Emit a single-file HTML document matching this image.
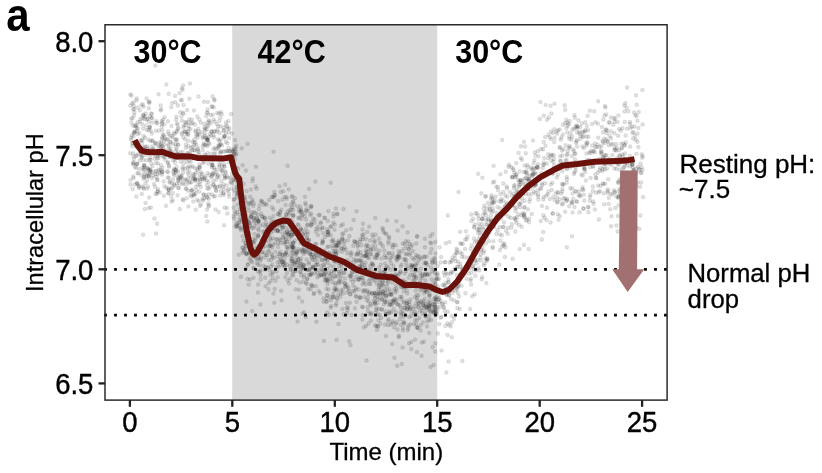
<!DOCTYPE html>
<html lang="en"><head><meta charset="utf-8"><title>Intracellular pH</title>
<style>
html,body{margin:0;padding:0;background:#fff;}
body{width:822px;height:473px;overflow:hidden;}
svg{display:block;font-family:"Liberation Sans",Arial,Helvetica,sans-serif;fill:#000;}
</style></head><body>
<svg width="822" height="473" viewBox="0 0 822 473">
<rect x="0" y="0" width="822" height="473" fill="#fff"/>
<rect x="232.2" y="25" width="205" height="375" fill="#d9d9d9"/>
<g fill="#000" fill-opacity="0.06" stroke="#000" stroke-opacity="0.125" stroke-width="1.5">
<circle cx="193.9" cy="110.4" r="1.5"/>
<circle cx="221.8" cy="170.7" r="1.5"/>
<circle cx="209.4" cy="121.5" r="1.5"/>
<circle cx="153.0" cy="175.6" r="1.5"/>
<circle cx="160.7" cy="144.0" r="1.5"/>
<circle cx="219.4" cy="141.0" r="1.5"/>
<circle cx="130.4" cy="184.4" r="1.5"/>
<circle cx="214.0" cy="137.2" r="1.5"/>
<circle cx="211.6" cy="106.8" r="1.5"/>
<circle cx="177.8" cy="129.1" r="1.5"/>
<circle cx="160.9" cy="165.2" r="1.5"/>
<circle cx="158.4" cy="157.9" r="1.5"/>
<circle cx="156.0" cy="130.7" r="1.5"/>
<circle cx="175.5" cy="139.8" r="1.5"/>
<circle cx="181.6" cy="175.6" r="1.5"/>
<circle cx="186.6" cy="198.3" r="1.5"/>
<circle cx="231.9" cy="133.4" r="1.5"/>
<circle cx="211.1" cy="177.2" r="1.5"/>
<circle cx="193.6" cy="195.7" r="1.5"/>
<circle cx="231.2" cy="181.7" r="1.5"/>
<circle cx="152.0" cy="118.1" r="1.5"/>
<circle cx="146.3" cy="154.9" r="1.5"/>
<circle cx="192.7" cy="123.0" r="1.5"/>
<circle cx="134.4" cy="112.3" r="1.5"/>
<circle cx="133.6" cy="178.1" r="1.5"/>
<circle cx="182.7" cy="89.8" r="1.5"/>
<circle cx="177.7" cy="153.3" r="1.5"/>
<circle cx="223.9" cy="130.9" r="1.5"/>
<circle cx="194.4" cy="158.2" r="1.5"/>
<circle cx="182.6" cy="167.6" r="1.5"/>
<circle cx="180.8" cy="177.3" r="1.5"/>
<circle cx="155.3" cy="65.6" r="1.5"/>
<circle cx="131.1" cy="139.7" r="1.5"/>
<circle cx="149.6" cy="126.8" r="1.5"/>
<circle cx="200.8" cy="122.4" r="1.5"/>
<circle cx="150.5" cy="141.1" r="1.5"/>
<circle cx="167.8" cy="162.6" r="1.5"/>
<circle cx="130.3" cy="105.5" r="1.5"/>
<circle cx="214.9" cy="153.1" r="1.5"/>
<circle cx="145.7" cy="125.5" r="1.5"/>
<circle cx="157.3" cy="151.6" r="1.5"/>
<circle cx="220.1" cy="195.6" r="1.5"/>
<circle cx="182.1" cy="132.5" r="1.5"/>
<circle cx="216.7" cy="124.0" r="1.5"/>
<circle cx="195.4" cy="130.6" r="1.5"/>
<circle cx="205.9" cy="194.9" r="1.5"/>
<circle cx="139.3" cy="186.3" r="1.5"/>
<circle cx="185.3" cy="122.1" r="1.5"/>
<circle cx="181.9" cy="120.8" r="1.5"/>
<circle cx="219.2" cy="165.0" r="1.5"/>
<circle cx="166.9" cy="139.7" r="1.5"/>
<circle cx="191.2" cy="190.7" r="1.5"/>
<circle cx="136.0" cy="168.1" r="1.5"/>
<circle cx="169.6" cy="150.4" r="1.5"/>
<circle cx="163.0" cy="156.7" r="1.5"/>
<circle cx="145.3" cy="146.6" r="1.5"/>
<circle cx="213.5" cy="119.5" r="1.5"/>
<circle cx="168.8" cy="190.1" r="1.5"/>
<circle cx="230.2" cy="151.3" r="1.5"/>
<circle cx="190.3" cy="155.5" r="1.5"/>
<circle cx="191.9" cy="189.8" r="1.5"/>
<circle cx="195.3" cy="179.0" r="1.5"/>
<circle cx="199.2" cy="119.6" r="1.5"/>
<circle cx="145.3" cy="117.2" r="1.5"/>
<circle cx="175.0" cy="95.7" r="1.5"/>
<circle cx="154.4" cy="218.5" r="1.5"/>
<circle cx="171.1" cy="188.6" r="1.5"/>
<circle cx="139.8" cy="110.2" r="1.5"/>
<circle cx="229.1" cy="138.1" r="1.5"/>
<circle cx="151.9" cy="146.5" r="1.5"/>
<circle cx="198.7" cy="201.2" r="1.5"/>
<circle cx="160.7" cy="105.4" r="1.5"/>
<circle cx="219.4" cy="166.6" r="1.5"/>
<circle cx="197.7" cy="149.3" r="1.5"/>
<circle cx="143.4" cy="187.7" r="1.5"/>
<circle cx="216.5" cy="149.1" r="1.5"/>
<circle cx="226.7" cy="185.6" r="1.5"/>
<circle cx="222.5" cy="173.7" r="1.5"/>
<circle cx="188.3" cy="135.1" r="1.5"/>
<circle cx="144.8" cy="209.0" r="1.5"/>
<circle cx="149.6" cy="160.0" r="1.5"/>
<circle cx="225.0" cy="177.2" r="1.5"/>
<circle cx="186.5" cy="180.8" r="1.5"/>
<circle cx="148.4" cy="139.8" r="1.5"/>
<circle cx="220.5" cy="126.3" r="1.5"/>
<circle cx="195.6" cy="193.8" r="1.5"/>
<circle cx="188.3" cy="153.4" r="1.5"/>
<circle cx="168.5" cy="146.1" r="1.5"/>
<circle cx="172.0" cy="183.5" r="1.5"/>
<circle cx="154.4" cy="158.8" r="1.5"/>
<circle cx="133.8" cy="133.0" r="1.5"/>
<circle cx="219.7" cy="186.7" r="1.5"/>
<circle cx="177.8" cy="105.4" r="1.5"/>
<circle cx="186.0" cy="184.3" r="1.5"/>
<circle cx="162.9" cy="146.0" r="1.5"/>
<circle cx="206.9" cy="112.5" r="1.5"/>
<circle cx="132.5" cy="117.9" r="1.5"/>
<circle cx="168.0" cy="193.5" r="1.5"/>
<circle cx="133.0" cy="125.7" r="1.5"/>
<circle cx="142.5" cy="168.0" r="1.5"/>
<circle cx="229.0" cy="132.1" r="1.5"/>
<circle cx="197.3" cy="116.5" r="1.5"/>
<circle cx="173.8" cy="133.2" r="1.5"/>
<circle cx="183.6" cy="127.5" r="1.5"/>
<circle cx="219.3" cy="145.4" r="1.5"/>
<circle cx="165.2" cy="150.6" r="1.5"/>
<circle cx="190.4" cy="129.2" r="1.5"/>
<circle cx="199.9" cy="184.3" r="1.5"/>
<circle cx="166.3" cy="84.5" r="1.5"/>
<circle cx="183.1" cy="85.6" r="1.5"/>
<circle cx="208.3" cy="125.8" r="1.5"/>
<circle cx="223.0" cy="186.6" r="1.5"/>
<circle cx="145.4" cy="183.4" r="1.5"/>
<circle cx="225.5" cy="171.6" r="1.5"/>
<circle cx="130.4" cy="94.5" r="1.5"/>
<circle cx="207.0" cy="209.4" r="1.5"/>
<circle cx="212.9" cy="114.7" r="1.5"/>
<circle cx="143.9" cy="167.3" r="1.5"/>
<circle cx="172.8" cy="193.0" r="1.5"/>
<circle cx="213.4" cy="180.9" r="1.5"/>
<circle cx="131.4" cy="95.6" r="1.5"/>
<circle cx="194.3" cy="194.5" r="1.5"/>
<circle cx="211.1" cy="135.5" r="1.5"/>
<circle cx="182.5" cy="179.4" r="1.5"/>
<circle cx="204.3" cy="123.8" r="1.5"/>
<circle cx="153.1" cy="148.5" r="1.5"/>
<circle cx="150.2" cy="169.9" r="1.5"/>
<circle cx="167.1" cy="171.3" r="1.5"/>
<circle cx="148.3" cy="176.3" r="1.5"/>
<circle cx="165.4" cy="159.7" r="1.5"/>
<circle cx="227.0" cy="208.0" r="1.5"/>
<circle cx="188.6" cy="128.4" r="1.5"/>
<circle cx="164.7" cy="117.2" r="1.5"/>
<circle cx="157.7" cy="150.5" r="1.5"/>
<circle cx="227.4" cy="213.5" r="1.5"/>
<circle cx="175.4" cy="102.2" r="1.5"/>
<circle cx="230.3" cy="182.6" r="1.5"/>
<circle cx="182.7" cy="168.9" r="1.5"/>
<circle cx="183.3" cy="200.4" r="1.5"/>
<circle cx="221.8" cy="166.0" r="1.5"/>
<circle cx="206.0" cy="145.3" r="1.5"/>
<circle cx="189.4" cy="98.7" r="1.5"/>
<circle cx="173.6" cy="173.7" r="1.5"/>
<circle cx="219.9" cy="185.6" r="1.5"/>
<circle cx="172.1" cy="136.3" r="1.5"/>
<circle cx="224.4" cy="166.2" r="1.5"/>
<circle cx="136.9" cy="130.7" r="1.5"/>
<circle cx="174.0" cy="169.1" r="1.5"/>
<circle cx="183.1" cy="172.5" r="1.5"/>
<circle cx="227.3" cy="143.2" r="1.5"/>
<circle cx="155.6" cy="193.9" r="1.5"/>
<circle cx="212.5" cy="165.1" r="1.5"/>
<circle cx="199.2" cy="155.0" r="1.5"/>
<circle cx="203.4" cy="194.8" r="1.5"/>
<circle cx="194.4" cy="142.4" r="1.5"/>
<circle cx="229.4" cy="151.2" r="1.5"/>
<circle cx="164.0" cy="152.7" r="1.5"/>
<circle cx="170.7" cy="148.5" r="1.5"/>
<circle cx="150.7" cy="130.9" r="1.5"/>
<circle cx="135.1" cy="166.7" r="1.5"/>
<circle cx="151.7" cy="118.0" r="1.5"/>
<circle cx="223.7" cy="127.5" r="1.5"/>
<circle cx="216.0" cy="190.2" r="1.5"/>
<circle cx="141.4" cy="175.1" r="1.5"/>
<circle cx="191.8" cy="119.6" r="1.5"/>
<circle cx="179.0" cy="183.4" r="1.5"/>
<circle cx="190.8" cy="162.1" r="1.5"/>
<circle cx="197.4" cy="180.2" r="1.5"/>
<circle cx="161.3" cy="152.7" r="1.5"/>
<circle cx="228.4" cy="120.9" r="1.5"/>
<circle cx="177.6" cy="124.7" r="1.5"/>
<circle cx="194.2" cy="139.7" r="1.5"/>
<circle cx="195.0" cy="124.4" r="1.5"/>
<circle cx="148.7" cy="130.0" r="1.5"/>
<circle cx="136.2" cy="146.7" r="1.5"/>
<circle cx="172.1" cy="103.1" r="1.5"/>
<circle cx="208.2" cy="139.8" r="1.5"/>
<circle cx="213.4" cy="135.1" r="1.5"/>
<circle cx="204.7" cy="135.7" r="1.5"/>
<circle cx="141.5" cy="157.9" r="1.5"/>
<circle cx="223.5" cy="192.7" r="1.5"/>
<circle cx="212.1" cy="176.3" r="1.5"/>
<circle cx="219.8" cy="133.1" r="1.5"/>
<circle cx="183.5" cy="105.1" r="1.5"/>
<circle cx="223.7" cy="130.0" r="1.5"/>
<circle cx="134.7" cy="184.5" r="1.5"/>
<circle cx="133.0" cy="162.8" r="1.5"/>
<circle cx="132.0" cy="146.3" r="1.5"/>
<circle cx="155.8" cy="163.1" r="1.5"/>
<circle cx="155.4" cy="174.2" r="1.5"/>
<circle cx="149.1" cy="197.4" r="1.5"/>
<circle cx="188.0" cy="155.8" r="1.5"/>
<circle cx="133.9" cy="106.0" r="1.5"/>
<circle cx="190.4" cy="178.1" r="1.5"/>
<circle cx="146.9" cy="173.0" r="1.5"/>
<circle cx="199.3" cy="191.8" r="1.5"/>
<circle cx="132.1" cy="103.6" r="1.5"/>
<circle cx="161.7" cy="126.8" r="1.5"/>
<circle cx="226.0" cy="158.6" r="1.5"/>
<circle cx="185.1" cy="139.2" r="1.5"/>
<circle cx="213.0" cy="173.0" r="1.5"/>
<circle cx="197.3" cy="168.5" r="1.5"/>
<circle cx="192.5" cy="146.7" r="1.5"/>
<circle cx="149.5" cy="101.4" r="1.5"/>
<circle cx="188.7" cy="122.6" r="1.5"/>
<circle cx="134.0" cy="159.4" r="1.5"/>
<circle cx="212.0" cy="194.5" r="1.5"/>
<circle cx="228.3" cy="156.9" r="1.5"/>
<circle cx="217.4" cy="129.8" r="1.5"/>
<circle cx="135.1" cy="125.7" r="1.5"/>
<circle cx="164.6" cy="144.6" r="1.5"/>
<circle cx="162.5" cy="167.8" r="1.5"/>
<circle cx="141.4" cy="105.3" r="1.5"/>
<circle cx="194.1" cy="177.7" r="1.5"/>
<circle cx="211.6" cy="131.6" r="1.5"/>
<circle cx="162.0" cy="138.7" r="1.5"/>
<circle cx="218.3" cy="145.4" r="1.5"/>
<circle cx="211.6" cy="131.5" r="1.5"/>
<circle cx="143.1" cy="234.8" r="1.5"/>
<circle cx="208.5" cy="182.1" r="1.5"/>
<circle cx="220.3" cy="117.6" r="1.5"/>
<circle cx="150.1" cy="150.0" r="1.5"/>
<circle cx="188.7" cy="166.5" r="1.5"/>
<circle cx="195.3" cy="181.1" r="1.5"/>
<circle cx="192.3" cy="141.7" r="1.5"/>
<circle cx="139.8" cy="121.8" r="1.5"/>
<circle cx="197.6" cy="137.8" r="1.5"/>
<circle cx="194.6" cy="150.0" r="1.5"/>
<circle cx="214.3" cy="100.3" r="1.5"/>
<circle cx="212.2" cy="106.5" r="1.5"/>
<circle cx="163.4" cy="148.7" r="1.5"/>
<circle cx="203.9" cy="101.7" r="1.5"/>
<circle cx="218.8" cy="113.5" r="1.5"/>
<circle cx="221.4" cy="151.8" r="1.5"/>
<circle cx="146.4" cy="151.9" r="1.5"/>
<circle cx="132.6" cy="188.9" r="1.5"/>
<circle cx="196.6" cy="145.3" r="1.5"/>
<circle cx="151.9" cy="133.5" r="1.5"/>
<circle cx="187.7" cy="133.8" r="1.5"/>
<circle cx="226.7" cy="176.1" r="1.5"/>
<circle cx="168.8" cy="193.1" r="1.5"/>
<circle cx="155.8" cy="144.5" r="1.5"/>
<circle cx="176.7" cy="131.9" r="1.5"/>
<circle cx="197.2" cy="199.7" r="1.5"/>
<circle cx="140.3" cy="119.0" r="1.5"/>
<circle cx="168.9" cy="177.7" r="1.5"/>
<circle cx="143.6" cy="106.8" r="1.5"/>
<circle cx="197.8" cy="184.7" r="1.5"/>
<circle cx="215.0" cy="196.2" r="1.5"/>
<circle cx="168.5" cy="134.1" r="1.5"/>
<circle cx="168.0" cy="172.2" r="1.5"/>
<circle cx="185.2" cy="168.7" r="1.5"/>
<circle cx="151.9" cy="178.0" r="1.5"/>
<circle cx="155.2" cy="143.0" r="1.5"/>
<circle cx="163.7" cy="181.6" r="1.5"/>
<circle cx="176.8" cy="149.3" r="1.5"/>
<circle cx="138.3" cy="143.6" r="1.5"/>
<circle cx="207.0" cy="138.2" r="1.5"/>
<circle cx="189.2" cy="119.5" r="1.5"/>
<circle cx="160.6" cy="110.6" r="1.5"/>
<circle cx="137.8" cy="128.5" r="1.5"/>
<circle cx="208.1" cy="203.5" r="1.5"/>
<circle cx="143.3" cy="114.6" r="1.5"/>
<circle cx="143.5" cy="170.6" r="1.5"/>
<circle cx="143.3" cy="159.9" r="1.5"/>
<circle cx="138.2" cy="154.0" r="1.5"/>
<circle cx="222.8" cy="157.5" r="1.5"/>
<circle cx="157.5" cy="156.0" r="1.5"/>
<circle cx="161.3" cy="150.6" r="1.5"/>
<circle cx="215.2" cy="174.6" r="1.5"/>
<circle cx="193.4" cy="157.4" r="1.5"/>
<circle cx="149.1" cy="150.6" r="1.5"/>
<circle cx="174.4" cy="170.0" r="1.5"/>
<circle cx="220.5" cy="162.5" r="1.5"/>
<circle cx="168.4" cy="188.4" r="1.5"/>
<circle cx="202.7" cy="137.0" r="1.5"/>
<circle cx="139.8" cy="160.6" r="1.5"/>
<circle cx="204.4" cy="180.1" r="1.5"/>
<circle cx="209.4" cy="143.9" r="1.5"/>
<circle cx="214.5" cy="99.6" r="1.5"/>
<circle cx="199.0" cy="152.4" r="1.5"/>
<circle cx="167.9" cy="162.7" r="1.5"/>
<circle cx="136.5" cy="100.6" r="1.5"/>
<circle cx="183.0" cy="182.9" r="1.5"/>
<circle cx="207.5" cy="109.6" r="1.5"/>
<circle cx="149.5" cy="173.7" r="1.5"/>
<circle cx="157.2" cy="180.0" r="1.5"/>
<circle cx="184.8" cy="131.2" r="1.5"/>
<circle cx="206.6" cy="138.8" r="1.5"/>
<circle cx="221.8" cy="113.9" r="1.5"/>
<circle cx="142.8" cy="104.3" r="1.5"/>
<circle cx="148.8" cy="208.0" r="1.5"/>
<circle cx="211.8" cy="167.2" r="1.5"/>
<circle cx="195.9" cy="136.1" r="1.5"/>
<circle cx="203.8" cy="178.2" r="1.5"/>
<circle cx="232.0" cy="149.6" r="1.5"/>
<circle cx="226.1" cy="122.5" r="1.5"/>
<circle cx="216.3" cy="191.0" r="1.5"/>
<circle cx="209.5" cy="175.1" r="1.5"/>
<circle cx="170.4" cy="156.9" r="1.5"/>
<circle cx="195.6" cy="131.7" r="1.5"/>
<circle cx="148.8" cy="169.8" r="1.5"/>
<circle cx="207.7" cy="139.9" r="1.5"/>
<circle cx="207.5" cy="145.9" r="1.5"/>
<circle cx="203.8" cy="162.1" r="1.5"/>
<circle cx="175.5" cy="156.4" r="1.5"/>
<circle cx="168.6" cy="189.8" r="1.5"/>
<circle cx="172.9" cy="200.2" r="1.5"/>
<circle cx="133.3" cy="109.5" r="1.5"/>
<circle cx="216.4" cy="169.4" r="1.5"/>
<circle cx="185.5" cy="124.7" r="1.5"/>
<circle cx="169.6" cy="156.9" r="1.5"/>
<circle cx="186.0" cy="144.4" r="1.5"/>
<circle cx="203.8" cy="143.3" r="1.5"/>
<circle cx="169.0" cy="165.4" r="1.5"/>
<circle cx="215.0" cy="186.4" r="1.5"/>
<circle cx="224.1" cy="159.1" r="1.5"/>
<circle cx="169.6" cy="182.6" r="1.5"/>
<circle cx="144.0" cy="164.9" r="1.5"/>
<circle cx="207.8" cy="172.9" r="1.5"/>
<circle cx="231.6" cy="183.5" r="1.5"/>
<circle cx="145.1" cy="137.8" r="1.5"/>
<circle cx="202.9" cy="150.1" r="1.5"/>
<circle cx="214.5" cy="154.1" r="1.5"/>
<circle cx="224.2" cy="164.2" r="1.5"/>
<circle cx="142.5" cy="155.8" r="1.5"/>
<circle cx="139.3" cy="188.3" r="1.5"/>
<circle cx="231.1" cy="114.1" r="1.5"/>
<circle cx="141.9" cy="143.2" r="1.5"/>
<circle cx="148.0" cy="118.8" r="1.5"/>
<circle cx="188.8" cy="125.9" r="1.5"/>
<circle cx="175.6" cy="169.5" r="1.5"/>
<circle cx="206.8" cy="197.2" r="1.5"/>
<circle cx="149.4" cy="103.1" r="1.5"/>
<circle cx="223.6" cy="151.4" r="1.5"/>
<circle cx="152.2" cy="140.6" r="1.5"/>
<circle cx="208.7" cy="137.0" r="1.5"/>
<circle cx="136.8" cy="182.7" r="1.5"/>
<circle cx="178.4" cy="178.2" r="1.5"/>
<circle cx="133.2" cy="176.5" r="1.5"/>
<circle cx="162.0" cy="174.7" r="1.5"/>
<circle cx="161.9" cy="124.1" r="1.5"/>
<circle cx="203.6" cy="194.6" r="1.5"/>
<circle cx="176.5" cy="116.8" r="1.5"/>
<circle cx="135.7" cy="156.3" r="1.5"/>
<circle cx="231.9" cy="173.8" r="1.5"/>
<circle cx="220.9" cy="144.3" r="1.5"/>
<circle cx="223.8" cy="195.1" r="1.5"/>
<circle cx="155.2" cy="155.7" r="1.5"/>
<circle cx="170.3" cy="153.6" r="1.5"/>
<circle cx="153.2" cy="150.2" r="1.5"/>
<circle cx="142.7" cy="186.4" r="1.5"/>
<circle cx="133.3" cy="163.3" r="1.5"/>
<circle cx="181.5" cy="116.6" r="1.5"/>
<circle cx="142.5" cy="118.3" r="1.5"/>
<circle cx="148.0" cy="168.3" r="1.5"/>
<circle cx="218.1" cy="126.2" r="1.5"/>
<circle cx="179.5" cy="93.1" r="1.5"/>
<circle cx="148.7" cy="176.6" r="1.5"/>
<circle cx="198.5" cy="96.6" r="1.5"/>
<circle cx="157.1" cy="223.8" r="1.5"/>
<circle cx="183.9" cy="125.8" r="1.5"/>
<circle cx="158.9" cy="169.2" r="1.5"/>
<circle cx="182.8" cy="199.3" r="1.5"/>
<circle cx="194.3" cy="145.3" r="1.5"/>
<circle cx="184.8" cy="132.0" r="1.5"/>
<circle cx="170.4" cy="141.7" r="1.5"/>
<circle cx="210.9" cy="123.2" r="1.5"/>
<circle cx="219.4" cy="120.9" r="1.5"/>
<circle cx="148.3" cy="186.7" r="1.5"/>
<circle cx="143.9" cy="176.5" r="1.5"/>
<circle cx="141.5" cy="140.4" r="1.5"/>
<circle cx="230.3" cy="157.3" r="1.5"/>
<circle cx="226.4" cy="177.4" r="1.5"/>
<circle cx="153.5" cy="149.4" r="1.5"/>
<circle cx="229.3" cy="128.2" r="1.5"/>
<circle cx="151.2" cy="113.4" r="1.5"/>
<circle cx="181.8" cy="88.4" r="1.5"/>
<circle cx="180.9" cy="99.9" r="1.5"/>
<circle cx="223.6" cy="184.2" r="1.5"/>
<circle cx="134.1" cy="115.2" r="1.5"/>
<circle cx="162.2" cy="137.6" r="1.5"/>
<circle cx="191.4" cy="196.4" r="1.5"/>
<circle cx="136.7" cy="98.6" r="1.5"/>
<circle cx="154.1" cy="183.9" r="1.5"/>
<circle cx="177.5" cy="154.0" r="1.5"/>
<circle cx="220.1" cy="144.6" r="1.5"/>
<circle cx="207.9" cy="112.9" r="1.5"/>
<circle cx="214.8" cy="147.9" r="1.5"/>
<circle cx="207.9" cy="122.5" r="1.5"/>
<circle cx="202.4" cy="178.9" r="1.5"/>
<circle cx="217.0" cy="187.0" r="1.5"/>
<circle cx="199.7" cy="174.2" r="1.5"/>
<circle cx="205.3" cy="137.5" r="1.5"/>
<circle cx="160.8" cy="169.7" r="1.5"/>
<circle cx="147.1" cy="180.5" r="1.5"/>
<circle cx="207.4" cy="188.6" r="1.5"/>
<circle cx="146.9" cy="129.9" r="1.5"/>
<circle cx="224.1" cy="225.3" r="1.5"/>
<circle cx="191.0" cy="147.7" r="1.5"/>
<circle cx="163.7" cy="135.1" r="1.5"/>
<circle cx="225.9" cy="141.8" r="1.5"/>
<circle cx="145.8" cy="113.5" r="1.5"/>
<circle cx="182.6" cy="152.0" r="1.5"/>
<circle cx="139.3" cy="168.9" r="1.5"/>
<circle cx="228.8" cy="193.7" r="1.5"/>
<circle cx="188.8" cy="175.2" r="1.5"/>
<circle cx="212.2" cy="157.4" r="1.5"/>
<circle cx="158.8" cy="170.8" r="1.5"/>
<circle cx="212.0" cy="174.4" r="1.5"/>
<circle cx="201.9" cy="177.1" r="1.5"/>
<circle cx="195.8" cy="186.8" r="1.5"/>
<circle cx="227.3" cy="126.6" r="1.5"/>
<circle cx="174.3" cy="175.3" r="1.5"/>
<circle cx="172.4" cy="187.7" r="1.5"/>
<circle cx="200.8" cy="186.9" r="1.5"/>
<circle cx="215.5" cy="209.6" r="1.5"/>
<circle cx="164.2" cy="124.5" r="1.5"/>
<circle cx="198.5" cy="131.4" r="1.5"/>
<circle cx="151.3" cy="163.5" r="1.5"/>
<circle cx="186.4" cy="188.8" r="1.5"/>
<circle cx="208.7" cy="120.3" r="1.5"/>
<circle cx="136.6" cy="128.1" r="1.5"/>
<circle cx="204.5" cy="127.7" r="1.5"/>
<circle cx="131.5" cy="122.8" r="1.5"/>
<circle cx="228.1" cy="150.9" r="1.5"/>
<circle cx="177.9" cy="177.1" r="1.5"/>
<circle cx="171.8" cy="155.2" r="1.5"/>
<circle cx="203.7" cy="144.7" r="1.5"/>
<circle cx="183.5" cy="163.7" r="1.5"/>
<circle cx="204.8" cy="133.5" r="1.5"/>
<circle cx="138.6" cy="186.4" r="1.5"/>
<circle cx="187.6" cy="167.7" r="1.5"/>
<circle cx="187.1" cy="162.1" r="1.5"/>
<circle cx="225.4" cy="151.1" r="1.5"/>
<circle cx="134.0" cy="109.1" r="1.5"/>
<circle cx="176.3" cy="139.6" r="1.5"/>
<circle cx="194.6" cy="168.0" r="1.5"/>
<circle cx="186.3" cy="132.0" r="1.5"/>
<circle cx="137.5" cy="107.4" r="1.5"/>
<circle cx="190.7" cy="195.1" r="1.5"/>
<circle cx="152.7" cy="141.1" r="1.5"/>
<circle cx="149.9" cy="127.1" r="1.5"/>
<circle cx="219.9" cy="152.9" r="1.5"/>
<circle cx="150.2" cy="159.8" r="1.5"/>
<circle cx="176.4" cy="171.8" r="1.5"/>
<circle cx="206.8" cy="180.3" r="1.5"/>
<circle cx="202.4" cy="198.9" r="1.5"/>
<circle cx="186.6" cy="134.3" r="1.5"/>
<circle cx="212.6" cy="96.6" r="1.5"/>
<circle cx="177.6" cy="195.3" r="1.5"/>
<circle cx="193.5" cy="194.3" r="1.5"/>
<circle cx="213.8" cy="167.5" r="1.5"/>
<circle cx="199.4" cy="164.5" r="1.5"/>
<circle cx="195.7" cy="209.8" r="1.5"/>
<circle cx="171.5" cy="125.9" r="1.5"/>
<circle cx="187.1" cy="179.5" r="1.5"/>
<circle cx="170.5" cy="142.3" r="1.5"/>
<circle cx="206.2" cy="216.0" r="1.5"/>
<circle cx="168.9" cy="148.9" r="1.5"/>
<circle cx="177.7" cy="155.5" r="1.5"/>
<circle cx="207.3" cy="221.4" r="1.5"/>
<circle cx="181.5" cy="176.9" r="1.5"/>
<circle cx="164.5" cy="186.2" r="1.5"/>
<circle cx="214.6" cy="169.8" r="1.5"/>
<circle cx="168.9" cy="166.7" r="1.5"/>
<circle cx="216.4" cy="179.5" r="1.5"/>
<circle cx="210.3" cy="186.4" r="1.5"/>
<circle cx="175.7" cy="150.9" r="1.5"/>
<circle cx="202.9" cy="163.0" r="1.5"/>
<circle cx="133.4" cy="102.4" r="1.5"/>
<circle cx="169.8" cy="181.5" r="1.5"/>
<circle cx="218.0" cy="139.3" r="1.5"/>
<circle cx="189.3" cy="160.7" r="1.5"/>
<circle cx="187.0" cy="110.0" r="1.5"/>
<circle cx="198.0" cy="151.6" r="1.5"/>
<circle cx="199.3" cy="177.8" r="1.5"/>
<circle cx="189.7" cy="156.7" r="1.5"/>
<circle cx="173.0" cy="179.5" r="1.5"/>
<circle cx="148.7" cy="121.7" r="1.5"/>
<circle cx="159.9" cy="192.4" r="1.5"/>
<circle cx="159.9" cy="145.9" r="1.5"/>
<circle cx="174.0" cy="184.3" r="1.5"/>
<circle cx="232.3" cy="151.8" r="1.5"/>
<circle cx="166.0" cy="205.7" r="1.5"/>
<circle cx="175.7" cy="144.1" r="1.5"/>
<circle cx="168.0" cy="139.2" r="1.5"/>
<circle cx="189.5" cy="183.1" r="1.5"/>
<circle cx="227.0" cy="151.3" r="1.5"/>
<circle cx="221.0" cy="190.9" r="1.5"/>
<circle cx="168.5" cy="152.7" r="1.5"/>
<circle cx="157.2" cy="158.8" r="1.5"/>
<circle cx="220.5" cy="169.7" r="1.5"/>
<circle cx="180.5" cy="152.4" r="1.5"/>
<circle cx="200.1" cy="206.1" r="1.5"/>
<circle cx="137.4" cy="163.9" r="1.5"/>
<circle cx="218.7" cy="212.0" r="1.5"/>
<circle cx="162.0" cy="122.6" r="1.5"/>
<circle cx="180.6" cy="161.6" r="1.5"/>
<circle cx="150.2" cy="157.6" r="1.5"/>
<circle cx="173.0" cy="143.7" r="1.5"/>
<circle cx="214.7" cy="131.2" r="1.5"/>
<circle cx="214.7" cy="121.4" r="1.5"/>
<circle cx="178.4" cy="144.9" r="1.5"/>
<circle cx="208.6" cy="188.7" r="1.5"/>
<circle cx="176.8" cy="140.0" r="1.5"/>
<circle cx="168.2" cy="131.4" r="1.5"/>
<circle cx="185.8" cy="147.7" r="1.5"/>
<circle cx="150.5" cy="169.2" r="1.5"/>
<circle cx="162.3" cy="130.2" r="1.5"/>
<circle cx="202.3" cy="174.0" r="1.5"/>
<circle cx="208.8" cy="198.8" r="1.5"/>
<circle cx="135.7" cy="125.9" r="1.5"/>
<circle cx="205.0" cy="128.6" r="1.5"/>
<circle cx="213.6" cy="196.5" r="1.5"/>
<circle cx="175.5" cy="173.1" r="1.5"/>
<circle cx="136.3" cy="196.5" r="1.5"/>
<circle cx="199.9" cy="166.8" r="1.5"/>
<circle cx="155.1" cy="171.6" r="1.5"/>
<circle cx="195.8" cy="172.5" r="1.5"/>
<circle cx="168.5" cy="144.3" r="1.5"/>
<circle cx="195.2" cy="179.0" r="1.5"/>
<circle cx="156.3" cy="120.9" r="1.5"/>
<circle cx="178.7" cy="180.8" r="1.5"/>
<circle cx="183.7" cy="159.8" r="1.5"/>
<circle cx="194.5" cy="179.6" r="1.5"/>
<circle cx="150.7" cy="171.1" r="1.5"/>
<circle cx="228.5" cy="161.9" r="1.5"/>
<circle cx="159.5" cy="173.1" r="1.5"/>
<circle cx="161.3" cy="142.8" r="1.5"/>
<circle cx="156.2" cy="177.0" r="1.5"/>
<circle cx="136.8" cy="163.7" r="1.5"/>
<circle cx="173.2" cy="171.5" r="1.5"/>
<circle cx="209.0" cy="194.2" r="1.5"/>
<circle cx="202.6" cy="146.4" r="1.5"/>
<circle cx="149.9" cy="116.4" r="1.5"/>
<circle cx="143.9" cy="188.8" r="1.5"/>
<circle cx="162.8" cy="134.6" r="1.5"/>
<circle cx="208.6" cy="142.7" r="1.5"/>
<circle cx="179.9" cy="208.9" r="1.5"/>
<circle cx="224.5" cy="207.8" r="1.5"/>
<circle cx="197.1" cy="134.3" r="1.5"/>
<circle cx="193.5" cy="175.6" r="1.5"/>
<circle cx="208.5" cy="206.6" r="1.5"/>
<circle cx="206.8" cy="129.5" r="1.5"/>
<circle cx="165.1" cy="139.0" r="1.5"/>
<circle cx="156.2" cy="122.7" r="1.5"/>
<circle cx="174.7" cy="159.5" r="1.5"/>
<circle cx="180.0" cy="178.9" r="1.5"/>
<circle cx="144.4" cy="177.6" r="1.5"/>
<circle cx="175.1" cy="162.8" r="1.5"/>
<circle cx="195.4" cy="142.5" r="1.5"/>
<circle cx="143.8" cy="115.9" r="1.5"/>
<circle cx="144.0" cy="169.5" r="1.5"/>
<circle cx="147.7" cy="169.2" r="1.5"/>
<circle cx="158.9" cy="154.0" r="1.5"/>
<circle cx="228.4" cy="189.5" r="1.5"/>
<circle cx="132.5" cy="143.1" r="1.5"/>
<circle cx="148.7" cy="101.9" r="1.5"/>
<circle cx="146.8" cy="188.5" r="1.5"/>
<circle cx="178.5" cy="128.0" r="1.5"/>
<circle cx="131.4" cy="118.7" r="1.5"/>
<circle cx="176.8" cy="131.0" r="1.5"/>
<circle cx="146.6" cy="98.4" r="1.5"/>
<circle cx="157.5" cy="123.3" r="1.5"/>
<circle cx="211.1" cy="153.4" r="1.5"/>
<circle cx="148.8" cy="175.6" r="1.5"/>
<circle cx="193.1" cy="178.4" r="1.5"/>
<circle cx="171.5" cy="201.4" r="1.5"/>
<circle cx="172.7" cy="137.5" r="1.5"/>
<circle cx="213.6" cy="131.7" r="1.5"/>
<circle cx="146.4" cy="176.3" r="1.5"/>
<circle cx="224.5" cy="178.4" r="1.5"/>
<circle cx="221.4" cy="181.0" r="1.5"/>
<circle cx="198.4" cy="128.7" r="1.5"/>
<circle cx="135.0" cy="132.1" r="1.5"/>
<circle cx="197.9" cy="134.7" r="1.5"/>
<circle cx="191.4" cy="123.4" r="1.5"/>
<circle cx="209.0" cy="205.3" r="1.5"/>
<circle cx="151.8" cy="152.6" r="1.5"/>
<circle cx="227.6" cy="129.0" r="1.5"/>
<circle cx="220.7" cy="151.8" r="1.5"/>
<circle cx="141.6" cy="156.3" r="1.5"/>
<circle cx="162.2" cy="171.4" r="1.5"/>
<circle cx="133.2" cy="153.2" r="1.5"/>
<circle cx="215.0" cy="187.6" r="1.5"/>
<circle cx="223.7" cy="189.1" r="1.5"/>
<circle cx="231.3" cy="188.6" r="1.5"/>
<circle cx="192.6" cy="174.1" r="1.5"/>
<circle cx="198.1" cy="148.8" r="1.5"/>
<circle cx="199.4" cy="134.3" r="1.5"/>
<circle cx="188.3" cy="131.5" r="1.5"/>
<circle cx="227.5" cy="190.4" r="1.5"/>
<circle cx="192.2" cy="150.3" r="1.5"/>
<circle cx="164.3" cy="136.9" r="1.5"/>
<circle cx="182.4" cy="184.3" r="1.5"/>
<circle cx="131.8" cy="135.6" r="1.5"/>
<circle cx="204.1" cy="198.6" r="1.5"/>
<circle cx="201.0" cy="204.5" r="1.5"/>
<circle cx="173.0" cy="160.3" r="1.5"/>
<circle cx="217.1" cy="113.0" r="1.5"/>
<circle cx="207.3" cy="197.4" r="1.5"/>
<circle cx="164.4" cy="157.4" r="1.5"/>
<circle cx="137.8" cy="134.1" r="1.5"/>
<circle cx="143.4" cy="150.9" r="1.5"/>
<circle cx="148.8" cy="108.2" r="1.5"/>
<circle cx="161.0" cy="147.2" r="1.5"/>
<circle cx="175.7" cy="170.0" r="1.5"/>
<circle cx="225.0" cy="136.4" r="1.5"/>
<circle cx="158.4" cy="146.6" r="1.5"/>
<circle cx="222.0" cy="145.3" r="1.5"/>
<circle cx="199.6" cy="168.6" r="1.5"/>
<circle cx="217.3" cy="177.1" r="1.5"/>
<circle cx="171.2" cy="196.6" r="1.5"/>
<circle cx="130.2" cy="153.3" r="1.5"/>
<circle cx="210.5" cy="114.9" r="1.5"/>
<circle cx="155.0" cy="186.8" r="1.5"/>
<circle cx="144.5" cy="165.9" r="1.5"/>
<circle cx="211.8" cy="163.3" r="1.5"/>
<circle cx="200.2" cy="181.6" r="1.5"/>
<circle cx="151.7" cy="172.6" r="1.5"/>
<circle cx="157.3" cy="179.6" r="1.5"/>
<circle cx="226.1" cy="133.3" r="1.5"/>
<circle cx="157.4" cy="191.7" r="1.5"/>
<circle cx="201.9" cy="131.9" r="1.5"/>
<circle cx="143.2" cy="115.4" r="1.5"/>
<circle cx="213.4" cy="148.9" r="1.5"/>
<circle cx="141.9" cy="124.1" r="1.5"/>
<circle cx="182.8" cy="112.8" r="1.5"/>
<circle cx="133.5" cy="136.2" r="1.5"/>
<circle cx="186.3" cy="122.5" r="1.5"/>
<circle cx="216.6" cy="173.0" r="1.5"/>
<circle cx="138.5" cy="173.2" r="1.5"/>
<circle cx="158.0" cy="163.4" r="1.5"/>
<circle cx="208.2" cy="163.4" r="1.5"/>
<circle cx="192.2" cy="190.5" r="1.5"/>
<circle cx="161.9" cy="121.0" r="1.5"/>
<circle cx="194.3" cy="150.2" r="1.5"/>
<circle cx="176.5" cy="183.7" r="1.5"/>
<circle cx="218.2" cy="148.4" r="1.5"/>
<circle cx="159.9" cy="155.4" r="1.5"/>
<circle cx="207.5" cy="152.9" r="1.5"/>
<circle cx="195.0" cy="174.4" r="1.5"/>
<circle cx="205.8" cy="154.9" r="1.5"/>
<circle cx="168.7" cy="93.8" r="1.5"/>
<circle cx="204.2" cy="154.6" r="1.5"/>
<circle cx="201.5" cy="157.1" r="1.5"/>
<circle cx="169.6" cy="152.4" r="1.5"/>
<circle cx="132.6" cy="143.5" r="1.5"/>
<circle cx="228.6" cy="147.9" r="1.5"/>
<circle cx="203.0" cy="200.6" r="1.5"/>
<circle cx="150.9" cy="207.6" r="1.5"/>
<circle cx="204.8" cy="177.8" r="1.5"/>
<circle cx="158.5" cy="94.2" r="1.5"/>
<circle cx="178.0" cy="180.0" r="1.5"/>
<circle cx="218.0" cy="175.2" r="1.5"/>
<circle cx="175.8" cy="146.7" r="1.5"/>
<circle cx="159.4" cy="142.2" r="1.5"/>
<circle cx="161.2" cy="109.3" r="1.5"/>
<circle cx="137.8" cy="183.9" r="1.5"/>
<circle cx="152.4" cy="166.0" r="1.5"/>
<circle cx="157.7" cy="191.3" r="1.5"/>
<circle cx="147.6" cy="148.5" r="1.5"/>
<circle cx="136.4" cy="124.9" r="1.5"/>
<circle cx="177.6" cy="157.9" r="1.5"/>
<circle cx="151.9" cy="114.1" r="1.5"/>
<circle cx="205.6" cy="176.1" r="1.5"/>
<circle cx="224.4" cy="136.0" r="1.5"/>
<circle cx="157.9" cy="188.9" r="1.5"/>
<circle cx="188.5" cy="146.2" r="1.5"/>
<circle cx="181.8" cy="134.2" r="1.5"/>
<circle cx="137.6" cy="122.3" r="1.5"/>
<circle cx="142.7" cy="139.8" r="1.5"/>
<circle cx="220.5" cy="139.7" r="1.5"/>
<circle cx="178.5" cy="187.8" r="1.5"/>
<circle cx="212.3" cy="164.9" r="1.5"/>
<circle cx="136.7" cy="155.4" r="1.5"/>
<circle cx="190.8" cy="166.8" r="1.5"/>
<circle cx="218.6" cy="146.7" r="1.5"/>
<circle cx="218.7" cy="159.6" r="1.5"/>
<circle cx="130.5" cy="180.1" r="1.5"/>
<circle cx="183.4" cy="137.3" r="1.5"/>
<circle cx="167.7" cy="177.6" r="1.5"/>
<circle cx="207.8" cy="102.0" r="1.5"/>
<circle cx="137.4" cy="173.2" r="1.5"/>
<circle cx="157.0" cy="193.7" r="1.5"/>
<circle cx="213.2" cy="184.7" r="1.5"/>
<circle cx="178.0" cy="171.1" r="1.5"/>
<circle cx="176.3" cy="119.7" r="1.5"/>
<circle cx="229.1" cy="196.7" r="1.5"/>
<circle cx="162.7" cy="172.0" r="1.5"/>
<circle cx="134.2" cy="132.7" r="1.5"/>
<circle cx="170.1" cy="135.5" r="1.5"/>
<circle cx="145.6" cy="203.1" r="1.5"/>
<circle cx="138.3" cy="145.3" r="1.5"/>
<circle cx="188.1" cy="190.7" r="1.5"/>
<circle cx="227.6" cy="158.3" r="1.5"/>
<circle cx="189.3" cy="171.0" r="1.5"/>
<circle cx="196.2" cy="190.2" r="1.5"/>
<circle cx="163.1" cy="119.5" r="1.5"/>
<circle cx="188.4" cy="206.4" r="1.5"/>
<circle cx="207.0" cy="140.0" r="1.5"/>
<circle cx="190.3" cy="151.3" r="1.5"/>
<circle cx="212.1" cy="165.6" r="1.5"/>
<circle cx="186.3" cy="158.3" r="1.5"/>
<circle cx="150.2" cy="172.0" r="1.5"/>
<circle cx="189.6" cy="182.1" r="1.5"/>
<circle cx="180.2" cy="112.3" r="1.5"/>
<circle cx="146.9" cy="119.4" r="1.5"/>
<circle cx="193.3" cy="201.5" r="1.5"/>
<circle cx="213.6" cy="184.2" r="1.5"/>
<circle cx="143.7" cy="136.0" r="1.5"/>
<circle cx="185.7" cy="188.6" r="1.5"/>
<circle cx="205.1" cy="157.0" r="1.5"/>
<circle cx="171.2" cy="152.0" r="1.5"/>
<circle cx="157.6" cy="174.3" r="1.5"/>
<circle cx="168.0" cy="121.2" r="1.5"/>
<circle cx="185.4" cy="179.3" r="1.5"/>
<circle cx="200.2" cy="179.6" r="1.5"/>
<circle cx="187.2" cy="153.0" r="1.5"/>
<circle cx="140.9" cy="154.2" r="1.5"/>
<circle cx="213.7" cy="107.3" r="1.5"/>
<circle cx="224.5" cy="175.8" r="1.5"/>
<circle cx="140.3" cy="140.3" r="1.5"/>
<circle cx="155.5" cy="143.1" r="1.5"/>
<circle cx="147.7" cy="151.4" r="1.5"/>
<circle cx="216.9" cy="131.8" r="1.5"/>
<circle cx="223.2" cy="193.5" r="1.5"/>
<circle cx="134.4" cy="131.2" r="1.5"/>
<circle cx="164.0" cy="140.9" r="1.5"/>
<circle cx="149.6" cy="127.7" r="1.5"/>
<circle cx="178.0" cy="144.2" r="1.5"/>
<circle cx="224.3" cy="166.7" r="1.5"/>
<circle cx="137.1" cy="183.4" r="1.5"/>
<circle cx="147.4" cy="146.4" r="1.5"/>
<circle cx="179.8" cy="175.6" r="1.5"/>
<circle cx="183.6" cy="113.7" r="1.5"/>
<circle cx="206.3" cy="115.9" r="1.5"/>
<circle cx="174.7" cy="133.8" r="1.5"/>
<circle cx="144.4" cy="119.3" r="1.5"/>
<circle cx="166.1" cy="154.0" r="1.5"/>
<circle cx="230.5" cy="177.6" r="1.5"/>
<circle cx="206.8" cy="185.1" r="1.5"/>
<circle cx="141.8" cy="194.1" r="1.5"/>
<circle cx="212.7" cy="173.7" r="1.5"/>
<circle cx="161.8" cy="172.2" r="1.5"/>
<circle cx="210.0" cy="133.7" r="1.5"/>
<circle cx="131.2" cy="137.7" r="1.5"/>
<circle cx="219.2" cy="176.9" r="1.5"/>
<circle cx="146.5" cy="160.2" r="1.5"/>
<circle cx="176.6" cy="166.9" r="1.5"/>
<circle cx="197.7" cy="170.2" r="1.5"/>
<circle cx="181.9" cy="100.2" r="1.5"/>
<circle cx="146.8" cy="168.0" r="1.5"/>
<circle cx="144.2" cy="147.3" r="1.5"/>
<circle cx="159.1" cy="130.6" r="1.5"/>
<circle cx="135.3" cy="144.1" r="1.5"/>
<circle cx="152.1" cy="122.4" r="1.5"/>
<circle cx="143.2" cy="148.0" r="1.5"/>
<circle cx="177.5" cy="154.4" r="1.5"/>
<circle cx="166.4" cy="187.7" r="1.5"/>
<circle cx="190.0" cy="83.4" r="1.5"/>
<circle cx="158.7" cy="153.7" r="1.5"/>
<circle cx="133.4" cy="156.4" r="1.5"/>
<circle cx="163.8" cy="195.8" r="1.5"/>
<circle cx="207.3" cy="140.2" r="1.5"/>
<circle cx="156.1" cy="233.6" r="1.5"/>
<circle cx="171.3" cy="107.1" r="1.5"/>
<circle cx="207.2" cy="125.8" r="1.5"/>
<circle cx="171.6" cy="152.5" r="1.5"/>
<circle cx="220.8" cy="111.9" r="1.5"/>
<circle cx="224.0" cy="137.8" r="1.5"/>
<circle cx="161.7" cy="146.4" r="1.5"/>
<circle cx="205.3" cy="144.7" r="1.5"/>
<circle cx="155.8" cy="171.0" r="1.5"/>
<circle cx="144.2" cy="165.2" r="1.5"/>
<circle cx="174.8" cy="185.7" r="1.5"/>
<circle cx="191.6" cy="182.2" r="1.5"/>
<circle cx="225.8" cy="172.7" r="1.5"/>
<circle cx="144.8" cy="174.2" r="1.5"/>
<circle cx="202.9" cy="138.0" r="1.5"/>
<circle cx="178.6" cy="188.0" r="1.5"/>
<circle cx="143.4" cy="178.8" r="1.5"/>
<circle cx="229.5" cy="178.3" r="1.5"/>
<circle cx="201.2" cy="172.5" r="1.5"/>
<circle cx="143.1" cy="128.5" r="1.5"/>
<circle cx="222.7" cy="170.1" r="1.5"/>
<circle cx="140.5" cy="150.7" r="1.5"/>
<circle cx="139.4" cy="132.9" r="1.5"/>
<circle cx="163.9" cy="155.5" r="1.5"/>
<circle cx="226.0" cy="125.5" r="1.5"/>
<circle cx="133.3" cy="164.3" r="1.5"/>
<circle cx="224.0" cy="136.2" r="1.5"/>
<circle cx="192.6" cy="166.5" r="1.5"/>
<circle cx="136.8" cy="164.1" r="1.5"/>
<circle cx="188.2" cy="140.8" r="1.5"/>
<circle cx="176.9" cy="123.6" r="1.5"/>
<circle cx="187.7" cy="172.5" r="1.5"/>
<circle cx="205.4" cy="129.7" r="1.5"/>
<circle cx="199.4" cy="167.2" r="1.5"/>
<circle cx="436.7" cy="278.6" r="1.5"/>
<circle cx="264.5" cy="253.1" r="1.5"/>
<circle cx="398.9" cy="335.8" r="1.5"/>
<circle cx="316.6" cy="258.1" r="1.5"/>
<circle cx="392.8" cy="247.6" r="1.5"/>
<circle cx="415.1" cy="339.8" r="1.5"/>
<circle cx="435.6" cy="288.4" r="1.5"/>
<circle cx="286.9" cy="273.1" r="1.5"/>
<circle cx="325.2" cy="259.6" r="1.5"/>
<circle cx="425.5" cy="306.1" r="1.5"/>
<circle cx="426.1" cy="306.9" r="1.5"/>
<circle cx="308.8" cy="240.4" r="1.5"/>
<circle cx="425.0" cy="313.9" r="1.5"/>
<circle cx="315.5" cy="256.1" r="1.5"/>
<circle cx="309.1" cy="239.9" r="1.5"/>
<circle cx="387.4" cy="290.4" r="1.5"/>
<circle cx="328.9" cy="273.0" r="1.5"/>
<circle cx="324.2" cy="274.3" r="1.5"/>
<circle cx="311.5" cy="224.9" r="1.5"/>
<circle cx="321.0" cy="274.6" r="1.5"/>
<circle cx="261.0" cy="200.8" r="1.5"/>
<circle cx="244.9" cy="249.2" r="1.5"/>
<circle cx="386.8" cy="286.2" r="1.5"/>
<circle cx="348.0" cy="287.1" r="1.5"/>
<circle cx="370.0" cy="292.5" r="1.5"/>
<circle cx="396.7" cy="260.6" r="1.5"/>
<circle cx="279.5" cy="186.3" r="1.5"/>
<circle cx="280.3" cy="231.2" r="1.5"/>
<circle cx="289.3" cy="238.9" r="1.5"/>
<circle cx="294.6" cy="264.6" r="1.5"/>
<circle cx="388.2" cy="324.9" r="1.5"/>
<circle cx="309.0" cy="188.9" r="1.5"/>
<circle cx="298.6" cy="267.4" r="1.5"/>
<circle cx="362.7" cy="239.4" r="1.5"/>
<circle cx="270.6" cy="281.0" r="1.5"/>
<circle cx="254.2" cy="212.2" r="1.5"/>
<circle cx="375.2" cy="280.2" r="1.5"/>
<circle cx="387.3" cy="301.4" r="1.5"/>
<circle cx="293.1" cy="209.9" r="1.5"/>
<circle cx="362.7" cy="307.2" r="1.5"/>
<circle cx="239.3" cy="190.7" r="1.5"/>
<circle cx="315.2" cy="243.9" r="1.5"/>
<circle cx="350.8" cy="255.8" r="1.5"/>
<circle cx="284.3" cy="258.3" r="1.5"/>
<circle cx="303.7" cy="277.3" r="1.5"/>
<circle cx="357.2" cy="261.1" r="1.5"/>
<circle cx="353.2" cy="285.5" r="1.5"/>
<circle cx="263.9" cy="242.7" r="1.5"/>
<circle cx="377.1" cy="255.2" r="1.5"/>
<circle cx="248.7" cy="284.5" r="1.5"/>
<circle cx="431.0" cy="267.4" r="1.5"/>
<circle cx="273.8" cy="225.6" r="1.5"/>
<circle cx="284.3" cy="265.4" r="1.5"/>
<circle cx="273.4" cy="216.1" r="1.5"/>
<circle cx="435.5" cy="290.1" r="1.5"/>
<circle cx="291.1" cy="259.0" r="1.5"/>
<circle cx="356.4" cy="276.6" r="1.5"/>
<circle cx="435.3" cy="343.2" r="1.5"/>
<circle cx="427.0" cy="326.6" r="1.5"/>
<circle cx="241.0" cy="276.8" r="1.5"/>
<circle cx="339.1" cy="280.7" r="1.5"/>
<circle cx="355.6" cy="289.8" r="1.5"/>
<circle cx="376.3" cy="249.4" r="1.5"/>
<circle cx="301.2" cy="275.2" r="1.5"/>
<circle cx="299.5" cy="265.6" r="1.5"/>
<circle cx="233.2" cy="162.6" r="1.5"/>
<circle cx="239.6" cy="208.9" r="1.5"/>
<circle cx="345.1" cy="286.2" r="1.5"/>
<circle cx="247.9" cy="207.0" r="1.5"/>
<circle cx="273.8" cy="221.9" r="1.5"/>
<circle cx="300.6" cy="272.2" r="1.5"/>
<circle cx="246.8" cy="237.0" r="1.5"/>
<circle cx="238.7" cy="254.8" r="1.5"/>
<circle cx="422.3" cy="273.9" r="1.5"/>
<circle cx="321.5" cy="269.5" r="1.5"/>
<circle cx="274.3" cy="191.9" r="1.5"/>
<circle cx="377.5" cy="299.8" r="1.5"/>
<circle cx="234.3" cy="190.8" r="1.5"/>
<circle cx="282.6" cy="254.9" r="1.5"/>
<circle cx="429.2" cy="305.1" r="1.5"/>
<circle cx="416.3" cy="324.2" r="1.5"/>
<circle cx="362.7" cy="315.3" r="1.5"/>
<circle cx="251.4" cy="214.6" r="1.5"/>
<circle cx="297.5" cy="267.0" r="1.5"/>
<circle cx="238.1" cy="168.8" r="1.5"/>
<circle cx="277.3" cy="262.5" r="1.5"/>
<circle cx="237.6" cy="193.0" r="1.5"/>
<circle cx="258.2" cy="271.4" r="1.5"/>
<circle cx="362.1" cy="234.9" r="1.5"/>
<circle cx="252.9" cy="239.1" r="1.5"/>
<circle cx="264.3" cy="217.3" r="1.5"/>
<circle cx="417.3" cy="300.3" r="1.5"/>
<circle cx="301.1" cy="240.0" r="1.5"/>
<circle cx="300.6" cy="261.1" r="1.5"/>
<circle cx="250.1" cy="242.2" r="1.5"/>
<circle cx="395.4" cy="277.6" r="1.5"/>
<circle cx="370.9" cy="269.3" r="1.5"/>
<circle cx="344.5" cy="247.2" r="1.5"/>
<circle cx="359.0" cy="269.8" r="1.5"/>
<circle cx="252.9" cy="249.7" r="1.5"/>
<circle cx="285.7" cy="242.1" r="1.5"/>
<circle cx="351.9" cy="271.8" r="1.5"/>
<circle cx="427.5" cy="307.6" r="1.5"/>
<circle cx="399.8" cy="283.6" r="1.5"/>
<circle cx="363.6" cy="291.7" r="1.5"/>
<circle cx="338.7" cy="244.4" r="1.5"/>
<circle cx="235.5" cy="154.9" r="1.5"/>
<circle cx="246.0" cy="253.7" r="1.5"/>
<circle cx="258.8" cy="230.5" r="1.5"/>
<circle cx="374.4" cy="277.2" r="1.5"/>
<circle cx="398.8" cy="337.0" r="1.5"/>
<circle cx="393.5" cy="266.1" r="1.5"/>
<circle cx="325.0" cy="258.9" r="1.5"/>
<circle cx="268.6" cy="251.5" r="1.5"/>
<circle cx="239.6" cy="222.0" r="1.5"/>
<circle cx="406.8" cy="303.1" r="1.5"/>
<circle cx="432.7" cy="304.2" r="1.5"/>
<circle cx="282.4" cy="199.7" r="1.5"/>
<circle cx="409.8" cy="309.2" r="1.5"/>
<circle cx="314.8" cy="219.4" r="1.5"/>
<circle cx="296.1" cy="251.7" r="1.5"/>
<circle cx="335.9" cy="305.5" r="1.5"/>
<circle cx="234.0" cy="218.8" r="1.5"/>
<circle cx="323.1" cy="241.8" r="1.5"/>
<circle cx="273.2" cy="244.8" r="1.5"/>
<circle cx="378.3" cy="253.8" r="1.5"/>
<circle cx="335.3" cy="254.0" r="1.5"/>
<circle cx="410.4" cy="253.5" r="1.5"/>
<circle cx="416.1" cy="286.8" r="1.5"/>
<circle cx="297.3" cy="251.4" r="1.5"/>
<circle cx="289.8" cy="266.2" r="1.5"/>
<circle cx="424.8" cy="275.3" r="1.5"/>
<circle cx="335.6" cy="251.3" r="1.5"/>
<circle cx="252.1" cy="201.6" r="1.5"/>
<circle cx="241.8" cy="221.6" r="1.5"/>
<circle cx="435.3" cy="280.1" r="1.5"/>
<circle cx="351.0" cy="228.9" r="1.5"/>
<circle cx="243.5" cy="240.6" r="1.5"/>
<circle cx="337.1" cy="269.8" r="1.5"/>
<circle cx="335.6" cy="242.7" r="1.5"/>
<circle cx="321.6" cy="260.1" r="1.5"/>
<circle cx="426.8" cy="289.6" r="1.5"/>
<circle cx="258.0" cy="228.8" r="1.5"/>
<circle cx="263.4" cy="265.8" r="1.5"/>
<circle cx="315.8" cy="252.3" r="1.5"/>
<circle cx="403.2" cy="301.5" r="1.5"/>
<circle cx="360.2" cy="260.3" r="1.5"/>
<circle cx="381.9" cy="278.0" r="1.5"/>
<circle cx="350.4" cy="345.1" r="1.5"/>
<circle cx="275.4" cy="251.7" r="1.5"/>
<circle cx="399.9" cy="319.3" r="1.5"/>
<circle cx="235.2" cy="151.8" r="1.5"/>
<circle cx="375.5" cy="312.7" r="1.5"/>
<circle cx="272.2" cy="264.4" r="1.5"/>
<circle cx="328.9" cy="315.0" r="1.5"/>
<circle cx="432.2" cy="271.6" r="1.5"/>
<circle cx="342.8" cy="224.3" r="1.5"/>
<circle cx="244.0" cy="250.3" r="1.5"/>
<circle cx="320.2" cy="292.9" r="1.5"/>
<circle cx="367.6" cy="307.3" r="1.5"/>
<circle cx="244.0" cy="218.3" r="1.5"/>
<circle cx="284.1" cy="242.5" r="1.5"/>
<circle cx="236.1" cy="171.2" r="1.5"/>
<circle cx="343.0" cy="293.6" r="1.5"/>
<circle cx="310.5" cy="225.8" r="1.5"/>
<circle cx="335.6" cy="276.8" r="1.5"/>
<circle cx="293.0" cy="214.7" r="1.5"/>
<circle cx="366.9" cy="254.2" r="1.5"/>
<circle cx="267.8" cy="230.3" r="1.5"/>
<circle cx="418.1" cy="306.7" r="1.5"/>
<circle cx="429.1" cy="332.9" r="1.5"/>
<circle cx="333.4" cy="297.7" r="1.5"/>
<circle cx="327.7" cy="221.1" r="1.5"/>
<circle cx="408.5" cy="325.8" r="1.5"/>
<circle cx="291.7" cy="245.4" r="1.5"/>
<circle cx="396.9" cy="300.0" r="1.5"/>
<circle cx="291.2" cy="209.4" r="1.5"/>
<circle cx="379.9" cy="293.0" r="1.5"/>
<circle cx="300.8" cy="227.9" r="1.5"/>
<circle cx="355.8" cy="296.1" r="1.5"/>
<circle cx="422.1" cy="285.0" r="1.5"/>
<circle cx="243.5" cy="183.7" r="1.5"/>
<circle cx="397.8" cy="259.2" r="1.5"/>
<circle cx="343.4" cy="208.9" r="1.5"/>
<circle cx="310.0" cy="269.5" r="1.5"/>
<circle cx="304.1" cy="247.8" r="1.5"/>
<circle cx="246.6" cy="253.2" r="1.5"/>
<circle cx="285.3" cy="277.1" r="1.5"/>
<circle cx="360.0" cy="277.5" r="1.5"/>
<circle cx="252.3" cy="212.2" r="1.5"/>
<circle cx="369.5" cy="314.1" r="1.5"/>
<circle cx="429.5" cy="309.9" r="1.5"/>
<circle cx="433.3" cy="309.0" r="1.5"/>
<circle cx="414.6" cy="281.5" r="1.5"/>
<circle cx="397.6" cy="230.4" r="1.5"/>
<circle cx="268.8" cy="235.5" r="1.5"/>
<circle cx="431.1" cy="319.9" r="1.5"/>
<circle cx="273.9" cy="197.2" r="1.5"/>
<circle cx="410.4" cy="324.2" r="1.5"/>
<circle cx="412.2" cy="258.0" r="1.5"/>
<circle cx="359.8" cy="296.7" r="1.5"/>
<circle cx="339.2" cy="266.1" r="1.5"/>
<circle cx="273.4" cy="209.4" r="1.5"/>
<circle cx="338.8" cy="258.5" r="1.5"/>
<circle cx="291.9" cy="234.8" r="1.5"/>
<circle cx="258.1" cy="236.4" r="1.5"/>
<circle cx="258.6" cy="254.5" r="1.5"/>
<circle cx="396.5" cy="322.2" r="1.5"/>
<circle cx="421.4" cy="301.6" r="1.5"/>
<circle cx="261.4" cy="246.5" r="1.5"/>
<circle cx="235.1" cy="172.3" r="1.5"/>
<circle cx="286.4" cy="231.8" r="1.5"/>
<circle cx="259.9" cy="265.2" r="1.5"/>
<circle cx="271.0" cy="240.1" r="1.5"/>
<circle cx="351.9" cy="268.0" r="1.5"/>
<circle cx="318.9" cy="270.3" r="1.5"/>
<circle cx="320.3" cy="223.4" r="1.5"/>
<circle cx="274.5" cy="195.6" r="1.5"/>
<circle cx="368.5" cy="323.6" r="1.5"/>
<circle cx="291.7" cy="220.4" r="1.5"/>
<circle cx="314.1" cy="293.1" r="1.5"/>
<circle cx="327.3" cy="312.6" r="1.5"/>
<circle cx="417.7" cy="327.5" r="1.5"/>
<circle cx="282.8" cy="261.2" r="1.5"/>
<circle cx="379.6" cy="315.0" r="1.5"/>
<circle cx="295.7" cy="271.1" r="1.5"/>
<circle cx="415.6" cy="264.2" r="1.5"/>
<circle cx="313.1" cy="268.0" r="1.5"/>
<circle cx="335.9" cy="208.5" r="1.5"/>
<circle cx="412.1" cy="245.1" r="1.5"/>
<circle cx="370.2" cy="279.0" r="1.5"/>
<circle cx="251.7" cy="228.4" r="1.5"/>
<circle cx="260.4" cy="225.7" r="1.5"/>
<circle cx="435.4" cy="314.1" r="1.5"/>
<circle cx="238.3" cy="223.1" r="1.5"/>
<circle cx="294.0" cy="248.1" r="1.5"/>
<circle cx="428.8" cy="306.9" r="1.5"/>
<circle cx="235.4" cy="214.2" r="1.5"/>
<circle cx="265.4" cy="245.9" r="1.5"/>
<circle cx="276.1" cy="239.1" r="1.5"/>
<circle cx="250.1" cy="279.6" r="1.5"/>
<circle cx="329.1" cy="252.8" r="1.5"/>
<circle cx="353.7" cy="259.3" r="1.5"/>
<circle cx="297.6" cy="321.4" r="1.5"/>
<circle cx="254.6" cy="233.9" r="1.5"/>
<circle cx="398.5" cy="255.3" r="1.5"/>
<circle cx="397.2" cy="365.7" r="1.5"/>
<circle cx="347.5" cy="310.2" r="1.5"/>
<circle cx="260.6" cy="279.4" r="1.5"/>
<circle cx="343.4" cy="233.3" r="1.5"/>
<circle cx="361.3" cy="277.4" r="1.5"/>
<circle cx="320.1" cy="256.7" r="1.5"/>
<circle cx="409.4" cy="302.3" r="1.5"/>
<circle cx="312.3" cy="266.6" r="1.5"/>
<circle cx="337.0" cy="213.8" r="1.5"/>
<circle cx="255.7" cy="238.2" r="1.5"/>
<circle cx="347.8" cy="240.2" r="1.5"/>
<circle cx="389.4" cy="311.5" r="1.5"/>
<circle cx="382.2" cy="281.0" r="1.5"/>
<circle cx="285.0" cy="254.5" r="1.5"/>
<circle cx="435.6" cy="311.8" r="1.5"/>
<circle cx="379.9" cy="293.5" r="1.5"/>
<circle cx="319.2" cy="276.1" r="1.5"/>
<circle cx="317.4" cy="273.1" r="1.5"/>
<circle cx="392.0" cy="278.8" r="1.5"/>
<circle cx="268.3" cy="234.2" r="1.5"/>
<circle cx="363.4" cy="256.0" r="1.5"/>
<circle cx="379.6" cy="250.7" r="1.5"/>
<circle cx="338.1" cy="294.9" r="1.5"/>
<circle cx="411.3" cy="316.0" r="1.5"/>
<circle cx="328.4" cy="211.1" r="1.5"/>
<circle cx="327.6" cy="259.9" r="1.5"/>
<circle cx="290.7" cy="269.9" r="1.5"/>
<circle cx="420.7" cy="276.2" r="1.5"/>
<circle cx="297.2" cy="230.5" r="1.5"/>
<circle cx="374.8" cy="293.1" r="1.5"/>
<circle cx="316.2" cy="244.0" r="1.5"/>
<circle cx="424.0" cy="293.3" r="1.5"/>
<circle cx="426.6" cy="307.5" r="1.5"/>
<circle cx="238.5" cy="193.4" r="1.5"/>
<circle cx="436.1" cy="297.1" r="1.5"/>
<circle cx="356.3" cy="254.8" r="1.5"/>
<circle cx="247.5" cy="278.9" r="1.5"/>
<circle cx="334.2" cy="314.1" r="1.5"/>
<circle cx="242.5" cy="247.5" r="1.5"/>
<circle cx="344.8" cy="283.8" r="1.5"/>
<circle cx="270.3" cy="274.8" r="1.5"/>
<circle cx="307.7" cy="224.6" r="1.5"/>
<circle cx="294.8" cy="240.7" r="1.5"/>
<circle cx="355.7" cy="242.3" r="1.5"/>
<circle cx="400.9" cy="307.8" r="1.5"/>
<circle cx="424.2" cy="263.2" r="1.5"/>
<circle cx="299.7" cy="251.1" r="1.5"/>
<circle cx="349.1" cy="341.2" r="1.5"/>
<circle cx="233.6" cy="207.4" r="1.5"/>
<circle cx="308.6" cy="244.5" r="1.5"/>
<circle cx="429.2" cy="316.2" r="1.5"/>
<circle cx="256.7" cy="188.7" r="1.5"/>
<circle cx="410.6" cy="286.4" r="1.5"/>
<circle cx="366.0" cy="255.6" r="1.5"/>
<circle cx="292.6" cy="222.7" r="1.5"/>
<circle cx="391.8" cy="294.7" r="1.5"/>
<circle cx="291.6" cy="196.9" r="1.5"/>
<circle cx="415.7" cy="257.7" r="1.5"/>
<circle cx="249.3" cy="252.6" r="1.5"/>
<circle cx="256.7" cy="223.4" r="1.5"/>
<circle cx="386.0" cy="314.1" r="1.5"/>
<circle cx="324.4" cy="276.7" r="1.5"/>
<circle cx="262.6" cy="252.1" r="1.5"/>
<circle cx="337.6" cy="276.1" r="1.5"/>
<circle cx="293.2" cy="201.3" r="1.5"/>
<circle cx="344.9" cy="278.5" r="1.5"/>
<circle cx="384.7" cy="255.0" r="1.5"/>
<circle cx="407.9" cy="307.3" r="1.5"/>
<circle cx="244.4" cy="198.2" r="1.5"/>
<circle cx="353.7" cy="220.1" r="1.5"/>
<circle cx="433.9" cy="312.8" r="1.5"/>
<circle cx="326.6" cy="277.2" r="1.5"/>
<circle cx="390.0" cy="304.2" r="1.5"/>
<circle cx="252.3" cy="262.3" r="1.5"/>
<circle cx="411.3" cy="266.9" r="1.5"/>
<circle cx="351.6" cy="274.9" r="1.5"/>
<circle cx="414.4" cy="274.8" r="1.5"/>
<circle cx="393.6" cy="309.2" r="1.5"/>
<circle cx="410.5" cy="299.6" r="1.5"/>
<circle cx="244.1" cy="208.3" r="1.5"/>
<circle cx="379.0" cy="285.4" r="1.5"/>
<circle cx="272.7" cy="197.1" r="1.5"/>
<circle cx="286.8" cy="247.1" r="1.5"/>
<circle cx="298.9" cy="238.3" r="1.5"/>
<circle cx="353.5" cy="268.5" r="1.5"/>
<circle cx="361.0" cy="271.9" r="1.5"/>
<circle cx="423.2" cy="303.3" r="1.5"/>
<circle cx="235.0" cy="139.9" r="1.5"/>
<circle cx="272.0" cy="207.2" r="1.5"/>
<circle cx="306.5" cy="259.5" r="1.5"/>
<circle cx="400.0" cy="296.8" r="1.5"/>
<circle cx="345.0" cy="283.1" r="1.5"/>
<circle cx="337.3" cy="299.7" r="1.5"/>
<circle cx="388.1" cy="313.7" r="1.5"/>
<circle cx="366.6" cy="269.7" r="1.5"/>
<circle cx="291.7" cy="236.5" r="1.5"/>
<circle cx="250.2" cy="249.7" r="1.5"/>
<circle cx="327.1" cy="229.2" r="1.5"/>
<circle cx="412.7" cy="280.9" r="1.5"/>
<circle cx="354.9" cy="308.3" r="1.5"/>
<circle cx="243.3" cy="251.2" r="1.5"/>
<circle cx="322.5" cy="242.4" r="1.5"/>
<circle cx="311.2" cy="213.8" r="1.5"/>
<circle cx="351.7" cy="253.5" r="1.5"/>
<circle cx="352.7" cy="281.7" r="1.5"/>
<circle cx="427.3" cy="274.5" r="1.5"/>
<circle cx="301.6" cy="267.9" r="1.5"/>
<circle cx="316.0" cy="265.0" r="1.5"/>
<circle cx="358.1" cy="253.7" r="1.5"/>
<circle cx="414.0" cy="259.5" r="1.5"/>
<circle cx="377.0" cy="329.8" r="1.5"/>
<circle cx="328.8" cy="231.6" r="1.5"/>
<circle cx="399.3" cy="257.0" r="1.5"/>
<circle cx="331.8" cy="270.9" r="1.5"/>
<circle cx="429.8" cy="300.3" r="1.5"/>
<circle cx="290.2" cy="232.3" r="1.5"/>
<circle cx="258.5" cy="257.7" r="1.5"/>
<circle cx="402.5" cy="226.2" r="1.5"/>
<circle cx="293.3" cy="215.9" r="1.5"/>
<circle cx="406.0" cy="271.2" r="1.5"/>
<circle cx="357.2" cy="242.4" r="1.5"/>
<circle cx="336.6" cy="290.6" r="1.5"/>
<circle cx="250.2" cy="225.4" r="1.5"/>
<circle cx="393.5" cy="244.5" r="1.5"/>
<circle cx="245.9" cy="268.3" r="1.5"/>
<circle cx="430.1" cy="242.4" r="1.5"/>
<circle cx="412.0" cy="270.2" r="1.5"/>
<circle cx="294.4" cy="233.7" r="1.5"/>
<circle cx="258.5" cy="235.7" r="1.5"/>
<circle cx="413.8" cy="309.1" r="1.5"/>
<circle cx="330.7" cy="235.0" r="1.5"/>
<circle cx="257.9" cy="214.7" r="1.5"/>
<circle cx="334.5" cy="229.7" r="1.5"/>
<circle cx="282.9" cy="227.3" r="1.5"/>
<circle cx="315.9" cy="231.6" r="1.5"/>
<circle cx="363.5" cy="234.2" r="1.5"/>
<circle cx="419.9" cy="311.0" r="1.5"/>
<circle cx="396.5" cy="288.6" r="1.5"/>
<circle cx="265.3" cy="203.6" r="1.5"/>
<circle cx="330.2" cy="275.6" r="1.5"/>
<circle cx="333.1" cy="241.1" r="1.5"/>
<circle cx="435.1" cy="351.6" r="1.5"/>
<circle cx="250.2" cy="226.8" r="1.5"/>
<circle cx="337.0" cy="289.2" r="1.5"/>
<circle cx="419.7" cy="257.1" r="1.5"/>
<circle cx="314.1" cy="257.1" r="1.5"/>
<circle cx="286.0" cy="227.8" r="1.5"/>
<circle cx="346.3" cy="230.3" r="1.5"/>
<circle cx="297.9" cy="262.7" r="1.5"/>
<circle cx="249.7" cy="244.1" r="1.5"/>
<circle cx="274.7" cy="288.9" r="1.5"/>
<circle cx="249.5" cy="218.4" r="1.5"/>
<circle cx="378.2" cy="326.6" r="1.5"/>
<circle cx="292.4" cy="196.1" r="1.5"/>
<circle cx="416.8" cy="269.7" r="1.5"/>
<circle cx="415.5" cy="270.9" r="1.5"/>
<circle cx="424.2" cy="287.8" r="1.5"/>
<circle cx="284.8" cy="267.0" r="1.5"/>
<circle cx="232.5" cy="156.1" r="1.5"/>
<circle cx="311.8" cy="285.7" r="1.5"/>
<circle cx="429.6" cy="295.8" r="1.5"/>
<circle cx="388.8" cy="236.7" r="1.5"/>
<circle cx="244.6" cy="231.3" r="1.5"/>
<circle cx="376.3" cy="326.0" r="1.5"/>
<circle cx="420.3" cy="282.7" r="1.5"/>
<circle cx="430.6" cy="312.3" r="1.5"/>
<circle cx="379.1" cy="267.6" r="1.5"/>
<circle cx="409.2" cy="317.0" r="1.5"/>
<circle cx="404.8" cy="258.9" r="1.5"/>
<circle cx="305.8" cy="316.9" r="1.5"/>
<circle cx="252.6" cy="199.7" r="1.5"/>
<circle cx="381.4" cy="244.0" r="1.5"/>
<circle cx="260.4" cy="270.5" r="1.5"/>
<circle cx="311.1" cy="284.8" r="1.5"/>
<circle cx="436.4" cy="274.2" r="1.5"/>
<circle cx="347.1" cy="292.6" r="1.5"/>
<circle cx="339.3" cy="263.1" r="1.5"/>
<circle cx="426.6" cy="256.4" r="1.5"/>
<circle cx="290.5" cy="204.9" r="1.5"/>
<circle cx="437.1" cy="314.4" r="1.5"/>
<circle cx="419.2" cy="303.5" r="1.5"/>
<circle cx="306.9" cy="237.7" r="1.5"/>
<circle cx="299.4" cy="211.5" r="1.5"/>
<circle cx="258.3" cy="221.9" r="1.5"/>
<circle cx="420.0" cy="272.8" r="1.5"/>
<circle cx="270.4" cy="245.1" r="1.5"/>
<circle cx="234.2" cy="154.7" r="1.5"/>
<circle cx="414.7" cy="276.5" r="1.5"/>
<circle cx="354.9" cy="271.8" r="1.5"/>
<circle cx="370.0" cy="266.1" r="1.5"/>
<circle cx="382.6" cy="228.0" r="1.5"/>
<circle cx="241.1" cy="219.3" r="1.5"/>
<circle cx="251.2" cy="248.6" r="1.5"/>
<circle cx="334.8" cy="224.6" r="1.5"/>
<circle cx="242.6" cy="236.2" r="1.5"/>
<circle cx="335.7" cy="285.0" r="1.5"/>
<circle cx="383.2" cy="291.6" r="1.5"/>
<circle cx="367.1" cy="292.0" r="1.5"/>
<circle cx="358.7" cy="279.3" r="1.5"/>
<circle cx="241.9" cy="210.2" r="1.5"/>
<circle cx="280.8" cy="259.6" r="1.5"/>
<circle cx="416.2" cy="314.5" r="1.5"/>
<circle cx="257.6" cy="264.4" r="1.5"/>
<circle cx="341.6" cy="259.4" r="1.5"/>
<circle cx="242.6" cy="248.1" r="1.5"/>
<circle cx="424.8" cy="298.8" r="1.5"/>
<circle cx="267.5" cy="267.3" r="1.5"/>
<circle cx="316.4" cy="321.7" r="1.5"/>
<circle cx="344.4" cy="241.3" r="1.5"/>
<circle cx="379.6" cy="282.9" r="1.5"/>
<circle cx="424.4" cy="307.6" r="1.5"/>
<circle cx="383.2" cy="293.2" r="1.5"/>
<circle cx="303.5" cy="234.2" r="1.5"/>
<circle cx="247.8" cy="264.5" r="1.5"/>
<circle cx="377.3" cy="255.1" r="1.5"/>
<circle cx="431.6" cy="279.3" r="1.5"/>
<circle cx="235.8" cy="174.0" r="1.5"/>
<circle cx="391.1" cy="263.6" r="1.5"/>
<circle cx="268.4" cy="250.5" r="1.5"/>
<circle cx="326.6" cy="279.5" r="1.5"/>
<circle cx="339.4" cy="283.0" r="1.5"/>
<circle cx="358.2" cy="251.6" r="1.5"/>
<circle cx="435.1" cy="258.1" r="1.5"/>
<circle cx="373.2" cy="273.9" r="1.5"/>
<circle cx="312.8" cy="267.4" r="1.5"/>
<circle cx="378.9" cy="293.8" r="1.5"/>
<circle cx="328.0" cy="280.1" r="1.5"/>
<circle cx="317.0" cy="252.1" r="1.5"/>
<circle cx="307.3" cy="240.7" r="1.5"/>
<circle cx="333.4" cy="216.4" r="1.5"/>
<circle cx="290.0" cy="243.4" r="1.5"/>
<circle cx="282.0" cy="225.4" r="1.5"/>
<circle cx="262.8" cy="231.9" r="1.5"/>
<circle cx="322.6" cy="240.3" r="1.5"/>
<circle cx="292.4" cy="274.5" r="1.5"/>
<circle cx="403.8" cy="291.6" r="1.5"/>
<circle cx="406.1" cy="262.7" r="1.5"/>
<circle cx="302.8" cy="234.8" r="1.5"/>
<circle cx="359.2" cy="279.8" r="1.5"/>
<circle cx="417.2" cy="236.3" r="1.5"/>
<circle cx="305.9" cy="204.7" r="1.5"/>
<circle cx="346.0" cy="265.3" r="1.5"/>
<circle cx="323.2" cy="274.8" r="1.5"/>
<circle cx="365.6" cy="255.7" r="1.5"/>
<circle cx="429.0" cy="320.0" r="1.5"/>
<circle cx="260.8" cy="257.2" r="1.5"/>
<circle cx="430.2" cy="290.2" r="1.5"/>
<circle cx="368.8" cy="270.4" r="1.5"/>
<circle cx="395.4" cy="292.3" r="1.5"/>
<circle cx="362.5" cy="284.2" r="1.5"/>
<circle cx="410.7" cy="307.9" r="1.5"/>
<circle cx="299.2" cy="238.8" r="1.5"/>
<circle cx="377.4" cy="296.6" r="1.5"/>
<circle cx="286.5" cy="196.9" r="1.5"/>
<circle cx="336.6" cy="339.7" r="1.5"/>
<circle cx="372.0" cy="293.6" r="1.5"/>
<circle cx="273.6" cy="231.1" r="1.5"/>
<circle cx="244.9" cy="218.7" r="1.5"/>
<circle cx="394.4" cy="269.8" r="1.5"/>
<circle cx="398.1" cy="275.3" r="1.5"/>
<circle cx="368.7" cy="301.4" r="1.5"/>
<circle cx="298.2" cy="248.9" r="1.5"/>
<circle cx="367.2" cy="231.9" r="1.5"/>
<circle cx="249.5" cy="243.5" r="1.5"/>
<circle cx="368.1" cy="248.6" r="1.5"/>
<circle cx="350.4" cy="266.0" r="1.5"/>
<circle cx="358.8" cy="260.2" r="1.5"/>
<circle cx="323.9" cy="341.1" r="1.5"/>
<circle cx="278.5" cy="214.2" r="1.5"/>
<circle cx="381.1" cy="317.9" r="1.5"/>
<circle cx="327.5" cy="284.0" r="1.5"/>
<circle cx="385.1" cy="233.3" r="1.5"/>
<circle cx="307.0" cy="225.2" r="1.5"/>
<circle cx="250.3" cy="254.4" r="1.5"/>
<circle cx="343.5" cy="272.6" r="1.5"/>
<circle cx="360.0" cy="241.8" r="1.5"/>
<circle cx="421.2" cy="258.5" r="1.5"/>
<circle cx="414.3" cy="313.7" r="1.5"/>
<circle cx="244.1" cy="226.9" r="1.5"/>
<circle cx="390.5" cy="294.3" r="1.5"/>
<circle cx="285.9" cy="238.2" r="1.5"/>
<circle cx="375.2" cy="325.6" r="1.5"/>
<circle cx="310.1" cy="275.0" r="1.5"/>
<circle cx="298.3" cy="259.6" r="1.5"/>
<circle cx="332.4" cy="282.2" r="1.5"/>
<circle cx="341.1" cy="290.6" r="1.5"/>
<circle cx="374.6" cy="303.2" r="1.5"/>
<circle cx="363.1" cy="290.4" r="1.5"/>
<circle cx="371.3" cy="314.4" r="1.5"/>
<circle cx="311.0" cy="245.9" r="1.5"/>
<circle cx="371.1" cy="313.1" r="1.5"/>
<circle cx="303.1" cy="267.2" r="1.5"/>
<circle cx="356.8" cy="254.3" r="1.5"/>
<circle cx="326.5" cy="288.7" r="1.5"/>
<circle cx="347.7" cy="260.0" r="1.5"/>
<circle cx="235.9" cy="180.2" r="1.5"/>
<circle cx="334.6" cy="257.4" r="1.5"/>
<circle cx="277.4" cy="230.3" r="1.5"/>
<circle cx="311.4" cy="257.1" r="1.5"/>
<circle cx="247.5" cy="143.7" r="1.5"/>
<circle cx="366.9" cy="300.2" r="1.5"/>
<circle cx="415.4" cy="312.2" r="1.5"/>
<circle cx="305.0" cy="196.7" r="1.5"/>
<circle cx="253.9" cy="203.6" r="1.5"/>
<circle cx="359.4" cy="297.9" r="1.5"/>
<circle cx="258.4" cy="221.0" r="1.5"/>
<circle cx="415.0" cy="319.9" r="1.5"/>
<circle cx="257.4" cy="246.5" r="1.5"/>
<circle cx="306.5" cy="251.9" r="1.5"/>
<circle cx="333.7" cy="251.8" r="1.5"/>
<circle cx="256.5" cy="217.5" r="1.5"/>
<circle cx="297.7" cy="206.6" r="1.5"/>
<circle cx="288.8" cy="189.2" r="1.5"/>
<circle cx="378.5" cy="289.4" r="1.5"/>
<circle cx="434.4" cy="304.7" r="1.5"/>
<circle cx="306.7" cy="284.0" r="1.5"/>
<circle cx="394.4" cy="289.3" r="1.5"/>
<circle cx="261.1" cy="213.6" r="1.5"/>
<circle cx="351.2" cy="276.5" r="1.5"/>
<circle cx="321.0" cy="265.7" r="1.5"/>
<circle cx="291.4" cy="234.7" r="1.5"/>
<circle cx="400.7" cy="266.6" r="1.5"/>
<circle cx="385.3" cy="257.5" r="1.5"/>
<circle cx="259.8" cy="271.8" r="1.5"/>
<circle cx="292.3" cy="260.9" r="1.5"/>
<circle cx="400.3" cy="271.5" r="1.5"/>
<circle cx="435.7" cy="284.6" r="1.5"/>
<circle cx="357.7" cy="244.9" r="1.5"/>
<circle cx="411.0" cy="247.0" r="1.5"/>
<circle cx="434.0" cy="258.7" r="1.5"/>
<circle cx="384.1" cy="272.1" r="1.5"/>
<circle cx="364.5" cy="255.9" r="1.5"/>
<circle cx="277.7" cy="213.9" r="1.5"/>
<circle cx="308.3" cy="289.1" r="1.5"/>
<circle cx="360.1" cy="239.3" r="1.5"/>
<circle cx="422.2" cy="277.9" r="1.5"/>
<circle cx="294.2" cy="204.6" r="1.5"/>
<circle cx="313.3" cy="267.0" r="1.5"/>
<circle cx="236.9" cy="187.3" r="1.5"/>
<circle cx="323.2" cy="233.1" r="1.5"/>
<circle cx="395.8" cy="285.4" r="1.5"/>
<circle cx="280.2" cy="251.7" r="1.5"/>
<circle cx="367.5" cy="257.8" r="1.5"/>
<circle cx="370.3" cy="284.0" r="1.5"/>
<circle cx="327.5" cy="268.7" r="1.5"/>
<circle cx="271.0" cy="223.2" r="1.5"/>
<circle cx="314.9" cy="273.1" r="1.5"/>
<circle cx="385.0" cy="324.7" r="1.5"/>
<circle cx="271.1" cy="260.0" r="1.5"/>
<circle cx="250.8" cy="245.2" r="1.5"/>
<circle cx="327.2" cy="234.9" r="1.5"/>
<circle cx="280.4" cy="265.1" r="1.5"/>
<circle cx="396.4" cy="221.3" r="1.5"/>
<circle cx="399.8" cy="257.4" r="1.5"/>
<circle cx="426.0" cy="303.8" r="1.5"/>
<circle cx="404.4" cy="248.4" r="1.5"/>
<circle cx="365.0" cy="290.1" r="1.5"/>
<circle cx="270.7" cy="228.5" r="1.5"/>
<circle cx="401.0" cy="315.5" r="1.5"/>
<circle cx="381.5" cy="258.4" r="1.5"/>
<circle cx="385.4" cy="268.1" r="1.5"/>
<circle cx="375.3" cy="245.7" r="1.5"/>
<circle cx="402.4" cy="286.7" r="1.5"/>
<circle cx="293.4" cy="246.8" r="1.5"/>
<circle cx="370.1" cy="240.5" r="1.5"/>
<circle cx="338.3" cy="282.2" r="1.5"/>
<circle cx="301.6" cy="214.7" r="1.5"/>
<circle cx="299.3" cy="217.8" r="1.5"/>
<circle cx="264.2" cy="257.5" r="1.5"/>
<circle cx="333.1" cy="248.3" r="1.5"/>
<circle cx="307.9" cy="249.8" r="1.5"/>
<circle cx="318.7" cy="215.0" r="1.5"/>
<circle cx="406.9" cy="290.5" r="1.5"/>
<circle cx="372.0" cy="263.9" r="1.5"/>
<circle cx="371.7" cy="263.0" r="1.5"/>
<circle cx="434.0" cy="269.8" r="1.5"/>
<circle cx="277.0" cy="239.5" r="1.5"/>
<circle cx="336.4" cy="245.9" r="1.5"/>
<circle cx="251.3" cy="261.3" r="1.5"/>
<circle cx="312.8" cy="286.0" r="1.5"/>
<circle cx="427.1" cy="291.5" r="1.5"/>
<circle cx="250.0" cy="203.1" r="1.5"/>
<circle cx="387.6" cy="283.5" r="1.5"/>
<circle cx="409.7" cy="243.7" r="1.5"/>
<circle cx="336.6" cy="245.3" r="1.5"/>
<circle cx="395.8" cy="302.8" r="1.5"/>
<circle cx="322.7" cy="227.7" r="1.5"/>
<circle cx="304.8" cy="212.9" r="1.5"/>
<circle cx="336.0" cy="262.6" r="1.5"/>
<circle cx="272.3" cy="257.0" r="1.5"/>
<circle cx="295.4" cy="260.6" r="1.5"/>
<circle cx="294.9" cy="198.3" r="1.5"/>
<circle cx="434.9" cy="272.5" r="1.5"/>
<circle cx="301.0" cy="211.6" r="1.5"/>
<circle cx="279.2" cy="254.1" r="1.5"/>
<circle cx="424.9" cy="238.8" r="1.5"/>
<circle cx="260.7" cy="275.0" r="1.5"/>
<circle cx="430.2" cy="236.3" r="1.5"/>
<circle cx="407.2" cy="293.5" r="1.5"/>
<circle cx="364.9" cy="267.7" r="1.5"/>
<circle cx="320.0" cy="249.2" r="1.5"/>
<circle cx="272.8" cy="277.9" r="1.5"/>
<circle cx="254.1" cy="217.8" r="1.5"/>
<circle cx="253.6" cy="218.4" r="1.5"/>
<circle cx="303.9" cy="269.0" r="1.5"/>
<circle cx="315.8" cy="286.3" r="1.5"/>
<circle cx="421.6" cy="307.7" r="1.5"/>
<circle cx="342.2" cy="263.5" r="1.5"/>
<circle cx="435.3" cy="283.4" r="1.5"/>
<circle cx="380.1" cy="280.2" r="1.5"/>
<circle cx="262.3" cy="202.2" r="1.5"/>
<circle cx="345.8" cy="286.9" r="1.5"/>
<circle cx="265.0" cy="218.2" r="1.5"/>
<circle cx="240.4" cy="228.3" r="1.5"/>
<circle cx="425.7" cy="273.2" r="1.5"/>
<circle cx="301.6" cy="218.9" r="1.5"/>
<circle cx="271.2" cy="245.9" r="1.5"/>
<circle cx="253.2" cy="205.9" r="1.5"/>
<circle cx="366.0" cy="284.3" r="1.5"/>
<circle cx="326.8" cy="298.4" r="1.5"/>
<circle cx="234.7" cy="172.1" r="1.5"/>
<circle cx="378.9" cy="278.4" r="1.5"/>
<circle cx="284.9" cy="243.9" r="1.5"/>
<circle cx="392.3" cy="245.4" r="1.5"/>
<circle cx="332.5" cy="296.8" r="1.5"/>
<circle cx="342.1" cy="239.7" r="1.5"/>
<circle cx="326.0" cy="272.7" r="1.5"/>
<circle cx="370.9" cy="254.2" r="1.5"/>
<circle cx="435.2" cy="304.6" r="1.5"/>
<circle cx="395.8" cy="312.2" r="1.5"/>
<circle cx="246.5" cy="234.7" r="1.5"/>
<circle cx="333.7" cy="266.8" r="1.5"/>
<circle cx="280.4" cy="240.3" r="1.5"/>
<circle cx="253.3" cy="257.0" r="1.5"/>
<circle cx="272.3" cy="247.8" r="1.5"/>
<circle cx="283.2" cy="191.2" r="1.5"/>
<circle cx="429.0" cy="305.8" r="1.5"/>
<circle cx="385.0" cy="301.6" r="1.5"/>
<circle cx="407.1" cy="308.9" r="1.5"/>
<circle cx="375.5" cy="234.6" r="1.5"/>
<circle cx="297.0" cy="257.5" r="1.5"/>
<circle cx="312.5" cy="254.6" r="1.5"/>
<circle cx="322.6" cy="270.2" r="1.5"/>
<circle cx="292.5" cy="202.4" r="1.5"/>
<circle cx="318.7" cy="290.9" r="1.5"/>
<circle cx="390.4" cy="269.8" r="1.5"/>
<circle cx="247.9" cy="221.0" r="1.5"/>
<circle cx="289.0" cy="283.6" r="1.5"/>
<circle cx="330.5" cy="227.1" r="1.5"/>
<circle cx="370.9" cy="320.6" r="1.5"/>
<circle cx="364.7" cy="265.3" r="1.5"/>
<circle cx="380.9" cy="264.7" r="1.5"/>
<circle cx="253.9" cy="227.9" r="1.5"/>
<circle cx="269.4" cy="246.1" r="1.5"/>
<circle cx="295.7" cy="289.3" r="1.5"/>
<circle cx="290.1" cy="278.6" r="1.5"/>
<circle cx="387.2" cy="220.5" r="1.5"/>
<circle cx="435.9" cy="313.2" r="1.5"/>
<circle cx="372.3" cy="277.4" r="1.5"/>
<circle cx="239.1" cy="225.5" r="1.5"/>
<circle cx="293.3" cy="243.0" r="1.5"/>
<circle cx="396.9" cy="256.7" r="1.5"/>
<circle cx="421.7" cy="342.5" r="1.5"/>
<circle cx="354.2" cy="291.5" r="1.5"/>
<circle cx="303.8" cy="254.1" r="1.5"/>
<circle cx="305.1" cy="203.0" r="1.5"/>
<circle cx="362.1" cy="266.4" r="1.5"/>
<circle cx="409.4" cy="206.7" r="1.5"/>
<circle cx="302.2" cy="215.2" r="1.5"/>
<circle cx="271.4" cy="224.3" r="1.5"/>
<circle cx="232.9" cy="151.3" r="1.5"/>
<circle cx="260.5" cy="260.8" r="1.5"/>
<circle cx="406.8" cy="284.3" r="1.5"/>
<circle cx="360.3" cy="268.9" r="1.5"/>
<circle cx="435.3" cy="262.7" r="1.5"/>
<circle cx="246.6" cy="219.9" r="1.5"/>
<circle cx="307.3" cy="279.0" r="1.5"/>
<circle cx="395.4" cy="276.6" r="1.5"/>
<circle cx="367.8" cy="246.1" r="1.5"/>
<circle cx="246.0" cy="214.9" r="1.5"/>
<circle cx="314.6" cy="222.8" r="1.5"/>
<circle cx="363.0" cy="223.8" r="1.5"/>
<circle cx="373.3" cy="265.6" r="1.5"/>
<circle cx="324.9" cy="237.0" r="1.5"/>
<circle cx="270.9" cy="232.9" r="1.5"/>
<circle cx="430.3" cy="306.6" r="1.5"/>
<circle cx="327.9" cy="262.8" r="1.5"/>
<circle cx="379.3" cy="286.9" r="1.5"/>
<circle cx="341.9" cy="251.8" r="1.5"/>
<circle cx="248.9" cy="210.6" r="1.5"/>
<circle cx="280.8" cy="191.9" r="1.5"/>
<circle cx="245.3" cy="200.2" r="1.5"/>
<circle cx="271.4" cy="253.5" r="1.5"/>
<circle cx="273.4" cy="293.4" r="1.5"/>
<circle cx="317.4" cy="261.9" r="1.5"/>
<circle cx="298.3" cy="217.9" r="1.5"/>
<circle cx="306.6" cy="209.3" r="1.5"/>
<circle cx="399.7" cy="253.4" r="1.5"/>
<circle cx="236.7" cy="197.3" r="1.5"/>
<circle cx="253.5" cy="267.7" r="1.5"/>
<circle cx="397.9" cy="256.6" r="1.5"/>
<circle cx="341.8" cy="268.2" r="1.5"/>
<circle cx="322.3" cy="227.9" r="1.5"/>
<circle cx="287.1" cy="234.3" r="1.5"/>
<circle cx="343.5" cy="314.3" r="1.5"/>
<circle cx="277.7" cy="230.6" r="1.5"/>
<circle cx="408.2" cy="241.6" r="1.5"/>
<circle cx="401.2" cy="298.8" r="1.5"/>
<circle cx="298.3" cy="232.0" r="1.5"/>
<circle cx="237.4" cy="190.0" r="1.5"/>
<circle cx="414.2" cy="306.6" r="1.5"/>
<circle cx="293.5" cy="267.1" r="1.5"/>
<circle cx="366.9" cy="244.7" r="1.5"/>
<circle cx="408.2" cy="268.6" r="1.5"/>
<circle cx="395.9" cy="275.8" r="1.5"/>
<circle cx="409.1" cy="343.3" r="1.5"/>
<circle cx="332.6" cy="257.5" r="1.5"/>
<circle cx="404.9" cy="287.2" r="1.5"/>
<circle cx="326.8" cy="257.8" r="1.5"/>
<circle cx="286.4" cy="252.7" r="1.5"/>
<circle cx="330.9" cy="300.2" r="1.5"/>
<circle cx="301.1" cy="209.8" r="1.5"/>
<circle cx="389.5" cy="312.9" r="1.5"/>
<circle cx="402.8" cy="243.6" r="1.5"/>
<circle cx="261.3" cy="252.3" r="1.5"/>
<circle cx="266.0" cy="222.6" r="1.5"/>
<circle cx="311.0" cy="207.4" r="1.5"/>
<circle cx="327.3" cy="231.9" r="1.5"/>
<circle cx="428.3" cy="302.4" r="1.5"/>
<circle cx="425.3" cy="316.0" r="1.5"/>
<circle cx="430.5" cy="311.1" r="1.5"/>
<circle cx="381.9" cy="309.7" r="1.5"/>
<circle cx="371.1" cy="249.3" r="1.5"/>
<circle cx="287.8" cy="248.6" r="1.5"/>
<circle cx="308.7" cy="263.9" r="1.5"/>
<circle cx="232.9" cy="158.6" r="1.5"/>
<circle cx="403.0" cy="327.9" r="1.5"/>
<circle cx="288.9" cy="214.7" r="1.5"/>
<circle cx="248.6" cy="222.2" r="1.5"/>
<circle cx="297.0" cy="231.5" r="1.5"/>
<circle cx="298.6" cy="259.2" r="1.5"/>
<circle cx="380.7" cy="289.4" r="1.5"/>
<circle cx="233.5" cy="199.8" r="1.5"/>
<circle cx="279.5" cy="224.3" r="1.5"/>
<circle cx="416.0" cy="303.5" r="1.5"/>
<circle cx="407.5" cy="246.2" r="1.5"/>
<circle cx="361.2" cy="245.2" r="1.5"/>
<circle cx="346.9" cy="313.2" r="1.5"/>
<circle cx="278.0" cy="247.0" r="1.5"/>
<circle cx="411.7" cy="311.8" r="1.5"/>
<circle cx="388.2" cy="275.7" r="1.5"/>
<circle cx="337.4" cy="214.2" r="1.5"/>
<circle cx="265.3" cy="267.0" r="1.5"/>
<circle cx="276.6" cy="227.9" r="1.5"/>
<circle cx="310.1" cy="214.9" r="1.5"/>
<circle cx="300.2" cy="263.6" r="1.5"/>
<circle cx="244.9" cy="211.4" r="1.5"/>
<circle cx="315.6" cy="254.3" r="1.5"/>
<circle cx="324.3" cy="217.8" r="1.5"/>
<circle cx="291.2" cy="255.4" r="1.5"/>
<circle cx="311.1" cy="254.5" r="1.5"/>
<circle cx="300.5" cy="230.2" r="1.5"/>
<circle cx="309.6" cy="244.5" r="1.5"/>
<circle cx="359.2" cy="266.4" r="1.5"/>
<circle cx="334.3" cy="276.0" r="1.5"/>
<circle cx="272.8" cy="228.6" r="1.5"/>
<circle cx="395.3" cy="298.9" r="1.5"/>
<circle cx="337.5" cy="245.8" r="1.5"/>
<circle cx="326.3" cy="258.2" r="1.5"/>
<circle cx="378.5" cy="293.8" r="1.5"/>
<circle cx="386.5" cy="295.3" r="1.5"/>
<circle cx="406.3" cy="259.7" r="1.5"/>
<circle cx="398.6" cy="251.2" r="1.5"/>
<circle cx="369.4" cy="283.7" r="1.5"/>
<circle cx="380.1" cy="270.9" r="1.5"/>
<circle cx="264.5" cy="218.8" r="1.5"/>
<circle cx="375.6" cy="258.0" r="1.5"/>
<circle cx="284.5" cy="196.9" r="1.5"/>
<circle cx="285.2" cy="184.6" r="1.5"/>
<circle cx="257.0" cy="263.1" r="1.5"/>
<circle cx="313.7" cy="294.1" r="1.5"/>
<circle cx="236.4" cy="179.5" r="1.5"/>
<circle cx="367.0" cy="255.9" r="1.5"/>
<circle cx="385.6" cy="280.5" r="1.5"/>
<circle cx="391.3" cy="292.6" r="1.5"/>
<circle cx="258.8" cy="208.9" r="1.5"/>
<circle cx="363.7" cy="327.4" r="1.5"/>
<circle cx="404.1" cy="302.8" r="1.5"/>
<circle cx="239.7" cy="214.8" r="1.5"/>
<circle cx="272.0" cy="219.7" r="1.5"/>
<circle cx="287.2" cy="232.0" r="1.5"/>
<circle cx="327.0" cy="294.9" r="1.5"/>
<circle cx="267.6" cy="226.5" r="1.5"/>
<circle cx="342.8" cy="289.6" r="1.5"/>
<circle cx="302.8" cy="250.7" r="1.5"/>
<circle cx="366.6" cy="360.4" r="1.5"/>
<circle cx="341.2" cy="264.7" r="1.5"/>
<circle cx="373.0" cy="264.5" r="1.5"/>
<circle cx="282.8" cy="234.5" r="1.5"/>
<circle cx="377.2" cy="257.8" r="1.5"/>
<circle cx="382.9" cy="246.4" r="1.5"/>
<circle cx="380.3" cy="323.4" r="1.5"/>
<circle cx="246.4" cy="253.5" r="1.5"/>
<circle cx="426.2" cy="263.3" r="1.5"/>
<circle cx="350.5" cy="267.1" r="1.5"/>
<circle cx="288.1" cy="234.8" r="1.5"/>
<circle cx="321.3" cy="275.3" r="1.5"/>
<circle cx="338.4" cy="324.0" r="1.5"/>
<circle cx="338.4" cy="242.2" r="1.5"/>
<circle cx="283.2" cy="264.5" r="1.5"/>
<circle cx="286.6" cy="198.8" r="1.5"/>
<circle cx="306.8" cy="270.1" r="1.5"/>
<circle cx="392.4" cy="276.9" r="1.5"/>
<circle cx="322.0" cy="243.4" r="1.5"/>
<circle cx="240.3" cy="187.7" r="1.5"/>
<circle cx="325.0" cy="218.1" r="1.5"/>
<circle cx="273.6" cy="223.6" r="1.5"/>
<circle cx="234.9" cy="159.3" r="1.5"/>
<circle cx="432.5" cy="234.0" r="1.5"/>
<circle cx="292.5" cy="247.5" r="1.5"/>
<circle cx="342.5" cy="308.9" r="1.5"/>
<circle cx="305.7" cy="229.1" r="1.5"/>
<circle cx="243.3" cy="211.9" r="1.5"/>
<circle cx="416.9" cy="298.1" r="1.5"/>
<circle cx="424.1" cy="256.4" r="1.5"/>
<circle cx="270.6" cy="228.1" r="1.5"/>
<circle cx="318.0" cy="235.0" r="1.5"/>
<circle cx="308.9" cy="270.3" r="1.5"/>
<circle cx="266.6" cy="204.7" r="1.5"/>
<circle cx="367.9" cy="271.5" r="1.5"/>
<circle cx="392.6" cy="253.3" r="1.5"/>
<circle cx="388.0" cy="320.9" r="1.5"/>
<circle cx="370.7" cy="253.9" r="1.5"/>
<circle cx="235.9" cy="174.8" r="1.5"/>
<circle cx="279.4" cy="261.5" r="1.5"/>
<circle cx="337.8" cy="251.2" r="1.5"/>
<circle cx="376.4" cy="308.3" r="1.5"/>
<circle cx="311.5" cy="205.9" r="1.5"/>
<circle cx="324.4" cy="250.6" r="1.5"/>
<circle cx="404.6" cy="243.9" r="1.5"/>
<circle cx="237.2" cy="212.3" r="1.5"/>
<circle cx="287.4" cy="264.8" r="1.5"/>
<circle cx="291.8" cy="247.1" r="1.5"/>
<circle cx="435.8" cy="299.7" r="1.5"/>
<circle cx="279.0" cy="221.7" r="1.5"/>
<circle cx="242.0" cy="195.5" r="1.5"/>
<circle cx="317.7" cy="264.8" r="1.5"/>
<circle cx="365.4" cy="262.6" r="1.5"/>
<circle cx="263.8" cy="204.7" r="1.5"/>
<circle cx="404.4" cy="281.8" r="1.5"/>
<circle cx="272.6" cy="228.3" r="1.5"/>
<circle cx="376.7" cy="278.0" r="1.5"/>
<circle cx="265.5" cy="241.0" r="1.5"/>
<circle cx="413.0" cy="250.9" r="1.5"/>
<circle cx="273.6" cy="258.0" r="1.5"/>
<circle cx="382.2" cy="299.3" r="1.5"/>
<circle cx="404.2" cy="259.4" r="1.5"/>
<circle cx="284.6" cy="262.9" r="1.5"/>
<circle cx="251.4" cy="216.6" r="1.5"/>
<circle cx="352.5" cy="291.1" r="1.5"/>
<circle cx="334.6" cy="270.2" r="1.5"/>
<circle cx="330.6" cy="297.3" r="1.5"/>
<circle cx="392.4" cy="322.9" r="1.5"/>
<circle cx="327.2" cy="280.2" r="1.5"/>
<circle cx="334.2" cy="260.9" r="1.5"/>
<circle cx="332.2" cy="245.8" r="1.5"/>
<circle cx="325.5" cy="279.9" r="1.5"/>
<circle cx="315.5" cy="269.5" r="1.5"/>
<circle cx="265.3" cy="226.5" r="1.5"/>
<circle cx="292.9" cy="256.2" r="1.5"/>
<circle cx="286.6" cy="219.8" r="1.5"/>
<circle cx="283.2" cy="222.3" r="1.5"/>
<circle cx="392.8" cy="300.7" r="1.5"/>
<circle cx="255.7" cy="212.9" r="1.5"/>
<circle cx="274.4" cy="228.5" r="1.5"/>
<circle cx="340.2" cy="296.7" r="1.5"/>
<circle cx="296.4" cy="253.5" r="1.5"/>
<circle cx="281.6" cy="300.2" r="1.5"/>
<circle cx="308.9" cy="262.2" r="1.5"/>
<circle cx="335.2" cy="245.3" r="1.5"/>
<circle cx="370.5" cy="304.0" r="1.5"/>
<circle cx="431.6" cy="249.1" r="1.5"/>
<circle cx="407.1" cy="309.4" r="1.5"/>
<circle cx="320.5" cy="274.4" r="1.5"/>
<circle cx="324.9" cy="280.8" r="1.5"/>
<circle cx="317.5" cy="226.9" r="1.5"/>
<circle cx="281.3" cy="209.4" r="1.5"/>
<circle cx="427.4" cy="264.9" r="1.5"/>
<circle cx="246.4" cy="301.6" r="1.5"/>
<circle cx="274.3" cy="302.8" r="1.5"/>
<circle cx="368.0" cy="274.9" r="1.5"/>
<circle cx="353.2" cy="245.7" r="1.5"/>
<circle cx="289.4" cy="223.5" r="1.5"/>
<circle cx="424.3" cy="290.8" r="1.5"/>
<circle cx="316.2" cy="264.5" r="1.5"/>
<circle cx="354.5" cy="262.5" r="1.5"/>
<circle cx="251.0" cy="189.4" r="1.5"/>
<circle cx="414.9" cy="296.9" r="1.5"/>
<circle cx="253.5" cy="242.0" r="1.5"/>
<circle cx="313.1" cy="218.4" r="1.5"/>
<circle cx="413.8" cy="323.9" r="1.5"/>
<circle cx="426.0" cy="310.4" r="1.5"/>
<circle cx="417.6" cy="262.7" r="1.5"/>
<circle cx="401.9" cy="296.8" r="1.5"/>
<circle cx="280.2" cy="254.3" r="1.5"/>
<circle cx="238.9" cy="188.7" r="1.5"/>
<circle cx="324.9" cy="273.4" r="1.5"/>
<circle cx="245.3" cy="242.5" r="1.5"/>
<circle cx="429.2" cy="308.8" r="1.5"/>
<circle cx="234.0" cy="149.6" r="1.5"/>
<circle cx="299.0" cy="289.7" r="1.5"/>
<circle cx="274.0" cy="223.9" r="1.5"/>
<circle cx="235.2" cy="226.4" r="1.5"/>
<circle cx="334.6" cy="257.4" r="1.5"/>
<circle cx="247.9" cy="264.2" r="1.5"/>
<circle cx="416.7" cy="327.5" r="1.5"/>
<circle cx="373.2" cy="237.1" r="1.5"/>
<circle cx="308.2" cy="210.9" r="1.5"/>
<circle cx="404.8" cy="308.1" r="1.5"/>
<circle cx="395.6" cy="273.9" r="1.5"/>
<circle cx="299.2" cy="210.3" r="1.5"/>
<circle cx="405.9" cy="285.7" r="1.5"/>
<circle cx="422.8" cy="322.4" r="1.5"/>
<circle cx="359.4" cy="268.5" r="1.5"/>
<circle cx="304.4" cy="274.9" r="1.5"/>
<circle cx="416.9" cy="236.4" r="1.5"/>
<circle cx="425.5" cy="274.3" r="1.5"/>
<circle cx="303.5" cy="264.6" r="1.5"/>
<circle cx="250.0" cy="222.8" r="1.5"/>
<circle cx="410.2" cy="274.8" r="1.5"/>
<circle cx="368.6" cy="293.8" r="1.5"/>
<circle cx="279.9" cy="238.9" r="1.5"/>
<circle cx="348.5" cy="288.8" r="1.5"/>
<circle cx="295.5" cy="262.2" r="1.5"/>
<circle cx="420.7" cy="325.2" r="1.5"/>
<circle cx="302.4" cy="252.2" r="1.5"/>
<circle cx="272.6" cy="273.8" r="1.5"/>
<circle cx="241.2" cy="208.4" r="1.5"/>
<circle cx="302.5" cy="313.7" r="1.5"/>
<circle cx="435.1" cy="261.7" r="1.5"/>
<circle cx="277.1" cy="256.4" r="1.5"/>
<circle cx="326.2" cy="301.7" r="1.5"/>
<circle cx="431.5" cy="243.2" r="1.5"/>
<circle cx="233.7" cy="153.2" r="1.5"/>
<circle cx="292.8" cy="252.3" r="1.5"/>
<circle cx="400.6" cy="312.2" r="1.5"/>
<circle cx="252.0" cy="242.3" r="1.5"/>
<circle cx="422.6" cy="275.8" r="1.5"/>
<circle cx="403.4" cy="287.7" r="1.5"/>
<circle cx="261.7" cy="201.3" r="1.5"/>
<circle cx="353.7" cy="266.4" r="1.5"/>
<circle cx="346.2" cy="263.1" r="1.5"/>
<circle cx="374.5" cy="257.3" r="1.5"/>
<circle cx="295.2" cy="253.9" r="1.5"/>
<circle cx="311.1" cy="273.4" r="1.5"/>
<circle cx="281.7" cy="262.1" r="1.5"/>
<circle cx="292.2" cy="207.3" r="1.5"/>
<circle cx="268.4" cy="289.3" r="1.5"/>
<circle cx="417.7" cy="327.9" r="1.5"/>
<circle cx="414.2" cy="266.2" r="1.5"/>
<circle cx="306.1" cy="210.5" r="1.5"/>
<circle cx="374.4" cy="271.4" r="1.5"/>
<circle cx="332.8" cy="239.5" r="1.5"/>
<circle cx="289.9" cy="212.4" r="1.5"/>
<circle cx="304.0" cy="312.3" r="1.5"/>
<circle cx="430.1" cy="303.5" r="1.5"/>
<circle cx="302.3" cy="230.7" r="1.5"/>
<circle cx="350.9" cy="279.2" r="1.5"/>
<circle cx="426.0" cy="262.8" r="1.5"/>
<circle cx="293.3" cy="275.5" r="1.5"/>
<circle cx="398.1" cy="304.4" r="1.5"/>
<circle cx="255.7" cy="254.5" r="1.5"/>
<circle cx="382.6" cy="294.2" r="1.5"/>
<circle cx="397.6" cy="329.4" r="1.5"/>
<circle cx="403.9" cy="322.9" r="1.5"/>
<circle cx="432.1" cy="259.9" r="1.5"/>
<circle cx="378.0" cy="314.6" r="1.5"/>
<circle cx="432.6" cy="346.9" r="1.5"/>
<circle cx="289.4" cy="210.1" r="1.5"/>
<circle cx="339.2" cy="273.7" r="1.5"/>
<circle cx="276.2" cy="266.9" r="1.5"/>
<circle cx="249.5" cy="259.4" r="1.5"/>
<circle cx="322.3" cy="259.9" r="1.5"/>
<circle cx="379.8" cy="242.6" r="1.5"/>
<circle cx="391.9" cy="304.9" r="1.5"/>
<circle cx="235.8" cy="149.5" r="1.5"/>
<circle cx="425.4" cy="280.6" r="1.5"/>
<circle cx="283.0" cy="227.1" r="1.5"/>
<circle cx="292.2" cy="259.6" r="1.5"/>
<circle cx="402.9" cy="330.4" r="1.5"/>
<circle cx="415.6" cy="270.1" r="1.5"/>
<circle cx="383.2" cy="278.1" r="1.5"/>
<circle cx="300.5" cy="242.8" r="1.5"/>
<circle cx="403.4" cy="280.6" r="1.5"/>
<circle cx="305.6" cy="251.9" r="1.5"/>
<circle cx="397.4" cy="304.3" r="1.5"/>
<circle cx="392.6" cy="256.3" r="1.5"/>
<circle cx="328.4" cy="234.9" r="1.5"/>
<circle cx="416.1" cy="255.0" r="1.5"/>
<circle cx="386.0" cy="336.0" r="1.5"/>
<circle cx="363.4" cy="280.2" r="1.5"/>
<circle cx="300.2" cy="271.4" r="1.5"/>
<circle cx="341.3" cy="260.5" r="1.5"/>
<circle cx="356.5" cy="211.2" r="1.5"/>
<circle cx="342.3" cy="237.9" r="1.5"/>
<circle cx="255.0" cy="248.4" r="1.5"/>
<circle cx="435.5" cy="253.4" r="1.5"/>
<circle cx="430.4" cy="252.8" r="1.5"/>
<circle cx="240.0" cy="193.8" r="1.5"/>
<circle cx="425.8" cy="284.5" r="1.5"/>
<circle cx="341.3" cy="248.1" r="1.5"/>
<circle cx="258.1" cy="234.9" r="1.5"/>
<circle cx="400.5" cy="284.4" r="1.5"/>
<circle cx="321.1" cy="222.3" r="1.5"/>
<circle cx="378.5" cy="320.2" r="1.5"/>
<circle cx="401.8" cy="251.0" r="1.5"/>
<circle cx="342.6" cy="239.2" r="1.5"/>
<circle cx="242.5" cy="214.8" r="1.5"/>
<circle cx="400.9" cy="324.8" r="1.5"/>
<circle cx="374.6" cy="296.1" r="1.5"/>
<circle cx="418.8" cy="259.8" r="1.5"/>
<circle cx="287.7" cy="247.2" r="1.5"/>
<circle cx="393.2" cy="277.6" r="1.5"/>
<circle cx="411.3" cy="342.1" r="1.5"/>
<circle cx="305.1" cy="233.0" r="1.5"/>
<circle cx="316.4" cy="229.0" r="1.5"/>
<circle cx="300.8" cy="229.2" r="1.5"/>
<circle cx="233.5" cy="216.3" r="1.5"/>
<circle cx="279.8" cy="215.3" r="1.5"/>
<circle cx="300.3" cy="206.7" r="1.5"/>
<circle cx="254.6" cy="225.7" r="1.5"/>
<circle cx="389.2" cy="304.7" r="1.5"/>
<circle cx="319.8" cy="215.0" r="1.5"/>
<circle cx="348.8" cy="291.1" r="1.5"/>
<circle cx="290.7" cy="268.7" r="1.5"/>
<circle cx="306.2" cy="219.6" r="1.5"/>
<circle cx="386.7" cy="296.1" r="1.5"/>
<circle cx="328.6" cy="253.3" r="1.5"/>
<circle cx="354.6" cy="241.2" r="1.5"/>
<circle cx="319.0" cy="253.4" r="1.5"/>
<circle cx="346.5" cy="285.1" r="1.5"/>
<circle cx="416.2" cy="285.2" r="1.5"/>
<circle cx="287.1" cy="242.0" r="1.5"/>
<circle cx="338.7" cy="240.5" r="1.5"/>
<circle cx="373.2" cy="280.5" r="1.5"/>
<circle cx="250.1" cy="250.9" r="1.5"/>
<circle cx="429.5" cy="273.9" r="1.5"/>
<circle cx="334.5" cy="288.2" r="1.5"/>
<circle cx="282.6" cy="262.2" r="1.5"/>
<circle cx="388.2" cy="267.7" r="1.5"/>
<circle cx="399.5" cy="273.8" r="1.5"/>
<circle cx="361.6" cy="262.6" r="1.5"/>
<circle cx="420.1" cy="301.7" r="1.5"/>
<circle cx="250.6" cy="204.1" r="1.5"/>
<circle cx="340.5" cy="293.3" r="1.5"/>
<circle cx="384.6" cy="274.5" r="1.5"/>
<circle cx="420.2" cy="290.6" r="1.5"/>
<circle cx="363.8" cy="282.8" r="1.5"/>
<circle cx="355.8" cy="287.7" r="1.5"/>
<circle cx="311.9" cy="257.9" r="1.5"/>
<circle cx="349.5" cy="236.1" r="1.5"/>
<circle cx="346.0" cy="302.9" r="1.5"/>
<circle cx="417.8" cy="256.0" r="1.5"/>
<circle cx="401.8" cy="364.0" r="1.5"/>
<circle cx="383.4" cy="232.0" r="1.5"/>
<circle cx="421.6" cy="355.7" r="1.5"/>
<circle cx="245.9" cy="170.4" r="1.5"/>
<circle cx="390.0" cy="260.0" r="1.5"/>
<circle cx="327.3" cy="246.7" r="1.5"/>
<circle cx="386.4" cy="234.1" r="1.5"/>
<circle cx="293.0" cy="247.1" r="1.5"/>
<circle cx="328.1" cy="233.1" r="1.5"/>
<circle cx="401.3" cy="280.5" r="1.5"/>
<circle cx="239.6" cy="219.1" r="1.5"/>
<circle cx="292.0" cy="247.0" r="1.5"/>
<circle cx="332.4" cy="278.3" r="1.5"/>
<circle cx="406.8" cy="254.1" r="1.5"/>
<circle cx="287.7" cy="280.6" r="1.5"/>
<circle cx="401.0" cy="287.1" r="1.5"/>
<circle cx="282.5" cy="254.9" r="1.5"/>
<circle cx="294.5" cy="234.0" r="1.5"/>
<circle cx="345.8" cy="249.5" r="1.5"/>
<circle cx="366.3" cy="251.9" r="1.5"/>
<circle cx="412.7" cy="274.8" r="1.5"/>
<circle cx="412.6" cy="266.0" r="1.5"/>
<circle cx="283.6" cy="236.7" r="1.5"/>
<circle cx="385.1" cy="263.6" r="1.5"/>
<circle cx="362.5" cy="229.4" r="1.5"/>
<circle cx="311.5" cy="222.1" r="1.5"/>
<circle cx="391.4" cy="312.3" r="1.5"/>
<circle cx="416.3" cy="277.0" r="1.5"/>
<circle cx="330.5" cy="265.8" r="1.5"/>
<circle cx="420.1" cy="280.6" r="1.5"/>
<circle cx="258.5" cy="221.8" r="1.5"/>
<circle cx="266.4" cy="255.1" r="1.5"/>
<circle cx="388.9" cy="253.3" r="1.5"/>
<circle cx="295.0" cy="271.1" r="1.5"/>
<circle cx="352.3" cy="272.0" r="1.5"/>
<circle cx="334.2" cy="290.5" r="1.5"/>
<circle cx="262.2" cy="216.4" r="1.5"/>
<circle cx="386.9" cy="266.2" r="1.5"/>
<circle cx="384.3" cy="300.0" r="1.5"/>
<circle cx="262.1" cy="216.5" r="1.5"/>
<circle cx="285.6" cy="239.5" r="1.5"/>
<circle cx="396.4" cy="258.6" r="1.5"/>
<circle cx="419.3" cy="318.0" r="1.5"/>
<circle cx="410.6" cy="265.1" r="1.5"/>
<circle cx="335.2" cy="282.9" r="1.5"/>
<circle cx="307.6" cy="231.9" r="1.5"/>
<circle cx="323.6" cy="298.2" r="1.5"/>
<circle cx="268.5" cy="260.0" r="1.5"/>
<circle cx="334.0" cy="272.5" r="1.5"/>
<circle cx="279.7" cy="225.6" r="1.5"/>
<circle cx="265.5" cy="286.2" r="1.5"/>
<circle cx="310.3" cy="252.2" r="1.5"/>
<circle cx="245.5" cy="223.0" r="1.5"/>
<circle cx="328.7" cy="246.7" r="1.5"/>
<circle cx="375.0" cy="240.9" r="1.5"/>
<circle cx="365.8" cy="246.0" r="1.5"/>
<circle cx="432.2" cy="263.1" r="1.5"/>
<circle cx="413.8" cy="278.1" r="1.5"/>
<circle cx="362.2" cy="306.8" r="1.5"/>
<circle cx="416.3" cy="243.5" r="1.5"/>
<circle cx="323.4" cy="264.9" r="1.5"/>
<circle cx="396.0" cy="324.1" r="1.5"/>
<circle cx="290.6" cy="236.1" r="1.5"/>
<circle cx="340.3" cy="278.7" r="1.5"/>
<circle cx="433.1" cy="283.1" r="1.5"/>
<circle cx="355.0" cy="279.7" r="1.5"/>
<circle cx="336.2" cy="254.5" r="1.5"/>
<circle cx="393.7" cy="301.0" r="1.5"/>
<circle cx="296.4" cy="262.4" r="1.5"/>
<circle cx="402.6" cy="347.6" r="1.5"/>
<circle cx="236.2" cy="168.0" r="1.5"/>
<circle cx="281.2" cy="290.8" r="1.5"/>
<circle cx="268.7" cy="283.2" r="1.5"/>
<circle cx="285.1" cy="232.6" r="1.5"/>
<circle cx="426.1" cy="291.8" r="1.5"/>
<circle cx="237.2" cy="226.5" r="1.5"/>
<circle cx="293.6" cy="250.1" r="1.5"/>
<circle cx="350.0" cy="275.6" r="1.5"/>
<circle cx="376.4" cy="254.1" r="1.5"/>
<circle cx="390.9" cy="257.7" r="1.5"/>
<circle cx="310.9" cy="275.1" r="1.5"/>
<circle cx="277.5" cy="231.3" r="1.5"/>
<circle cx="407.0" cy="303.3" r="1.5"/>
<circle cx="257.4" cy="219.8" r="1.5"/>
<circle cx="245.7" cy="245.7" r="1.5"/>
<circle cx="279.8" cy="211.7" r="1.5"/>
<circle cx="333.3" cy="222.8" r="1.5"/>
<circle cx="425.4" cy="290.5" r="1.5"/>
<circle cx="381.7" cy="309.0" r="1.5"/>
<circle cx="347.9" cy="307.5" r="1.5"/>
<circle cx="339.1" cy="272.1" r="1.5"/>
<circle cx="374.4" cy="293.1" r="1.5"/>
<circle cx="360.7" cy="268.0" r="1.5"/>
<circle cx="301.3" cy="264.6" r="1.5"/>
<circle cx="251.4" cy="216.1" r="1.5"/>
<circle cx="273.5" cy="151.8" r="1.5"/>
<circle cx="392.7" cy="321.2" r="1.5"/>
<circle cx="362.3" cy="319.6" r="1.5"/>
<circle cx="395.7" cy="245.3" r="1.5"/>
<circle cx="241.5" cy="228.4" r="1.5"/>
<circle cx="416.9" cy="352.0" r="1.5"/>
<circle cx="310.7" cy="206.6" r="1.5"/>
<circle cx="422.1" cy="310.5" r="1.5"/>
<circle cx="354.2" cy="268.4" r="1.5"/>
<circle cx="344.5" cy="273.1" r="1.5"/>
<circle cx="400.0" cy="305.4" r="1.5"/>
<circle cx="360.5" cy="255.4" r="1.5"/>
<circle cx="370.6" cy="305.6" r="1.5"/>
<circle cx="264.6" cy="269.5" r="1.5"/>
<circle cx="356.2" cy="296.7" r="1.5"/>
<circle cx="305.4" cy="250.5" r="1.5"/>
<circle cx="247.8" cy="233.3" r="1.5"/>
<circle cx="259.6" cy="205.6" r="1.5"/>
<circle cx="330.7" cy="307.8" r="1.5"/>
<circle cx="286.1" cy="252.0" r="1.5"/>
<circle cx="389.2" cy="237.9" r="1.5"/>
<circle cx="257.4" cy="218.9" r="1.5"/>
<circle cx="235.2" cy="211.4" r="1.5"/>
<circle cx="436.6" cy="298.9" r="1.5"/>
<circle cx="296.5" cy="253.2" r="1.5"/>
<circle cx="336.8" cy="298.1" r="1.5"/>
<circle cx="275.4" cy="280.7" r="1.5"/>
<circle cx="275.1" cy="243.2" r="1.5"/>
<circle cx="314.8" cy="260.2" r="1.5"/>
<circle cx="394.2" cy="327.6" r="1.5"/>
<circle cx="240.3" cy="178.2" r="1.5"/>
<circle cx="403.9" cy="313.9" r="1.5"/>
<circle cx="435.3" cy="307.8" r="1.5"/>
<circle cx="346.9" cy="307.5" r="1.5"/>
<circle cx="306.1" cy="282.8" r="1.5"/>
<circle cx="280.3" cy="212.4" r="1.5"/>
<circle cx="269.8" cy="270.2" r="1.5"/>
<circle cx="298.6" cy="225.1" r="1.5"/>
<circle cx="406.9" cy="301.1" r="1.5"/>
<circle cx="233.0" cy="179.7" r="1.5"/>
<circle cx="393.4" cy="302.5" r="1.5"/>
<circle cx="369.1" cy="258.3" r="1.5"/>
<circle cx="236.2" cy="145.8" r="1.5"/>
<circle cx="246.6" cy="190.9" r="1.5"/>
<circle cx="383.0" cy="295.7" r="1.5"/>
<circle cx="370.3" cy="249.9" r="1.5"/>
<circle cx="296.6" cy="280.1" r="1.5"/>
<circle cx="408.8" cy="249.0" r="1.5"/>
<circle cx="275.4" cy="224.7" r="1.5"/>
<circle cx="319.8" cy="229.4" r="1.5"/>
<circle cx="255.9" cy="166.7" r="1.5"/>
<circle cx="364.7" cy="274.4" r="1.5"/>
<circle cx="250.2" cy="196.8" r="1.5"/>
<circle cx="269.1" cy="200.0" r="1.5"/>
<circle cx="389.4" cy="289.3" r="1.5"/>
<circle cx="334.8" cy="257.8" r="1.5"/>
<circle cx="368.0" cy="311.1" r="1.5"/>
<circle cx="382.7" cy="282.5" r="1.5"/>
<circle cx="356.6" cy="301.8" r="1.5"/>
<circle cx="272.9" cy="271.9" r="1.5"/>
<circle cx="375.5" cy="294.8" r="1.5"/>
<circle cx="256.1" cy="258.6" r="1.5"/>
<circle cx="287.6" cy="165.8" r="1.5"/>
<circle cx="324.2" cy="267.2" r="1.5"/>
<circle cx="255.8" cy="186.6" r="1.5"/>
<circle cx="254.1" cy="221.5" r="1.5"/>
<circle cx="366.0" cy="326.0" r="1.5"/>
<circle cx="384.4" cy="250.6" r="1.5"/>
<circle cx="308.3" cy="247.7" r="1.5"/>
<circle cx="312.2" cy="273.6" r="1.5"/>
<circle cx="274.9" cy="195.1" r="1.5"/>
<circle cx="339.2" cy="242.7" r="1.5"/>
<circle cx="351.3" cy="315.0" r="1.5"/>
<circle cx="423.6" cy="300.9" r="1.5"/>
<circle cx="240.7" cy="229.9" r="1.5"/>
<circle cx="418.5" cy="295.5" r="1.5"/>
<circle cx="435.3" cy="306.6" r="1.5"/>
<circle cx="303.3" cy="265.3" r="1.5"/>
<circle cx="381.1" cy="285.7" r="1.5"/>
<circle cx="401.4" cy="264.6" r="1.5"/>
<circle cx="365.8" cy="250.6" r="1.5"/>
<circle cx="291.5" cy="261.1" r="1.5"/>
<circle cx="360.0" cy="265.9" r="1.5"/>
<circle cx="412.0" cy="265.2" r="1.5"/>
<circle cx="254.3" cy="220.5" r="1.5"/>
<circle cx="330.7" cy="182.8" r="1.5"/>
<circle cx="237.0" cy="187.0" r="1.5"/>
<circle cx="405.5" cy="253.9" r="1.5"/>
<circle cx="391.9" cy="274.9" r="1.5"/>
<circle cx="241.8" cy="148.3" r="1.5"/>
<circle cx="385.2" cy="292.9" r="1.5"/>
<circle cx="374.1" cy="241.7" r="1.5"/>
<circle cx="258.2" cy="284.5" r="1.5"/>
<circle cx="340.0" cy="242.3" r="1.5"/>
<circle cx="373.6" cy="301.0" r="1.5"/>
<circle cx="301.1" cy="258.3" r="1.5"/>
<circle cx="335.6" cy="289.1" r="1.5"/>
<circle cx="432.3" cy="262.0" r="1.5"/>
<circle cx="362.6" cy="277.9" r="1.5"/>
<circle cx="335.2" cy="251.4" r="1.5"/>
<circle cx="245.9" cy="246.2" r="1.5"/>
<circle cx="257.2" cy="259.3" r="1.5"/>
<circle cx="406.7" cy="282.4" r="1.5"/>
<circle cx="384.5" cy="270.2" r="1.5"/>
<circle cx="403.5" cy="321.7" r="1.5"/>
<circle cx="350.8" cy="262.4" r="1.5"/>
<circle cx="350.4" cy="294.2" r="1.5"/>
<circle cx="341.1" cy="271.7" r="1.5"/>
<circle cx="383.0" cy="291.7" r="1.5"/>
<circle cx="300.0" cy="236.5" r="1.5"/>
<circle cx="334.1" cy="261.1" r="1.5"/>
<circle cx="328.6" cy="289.5" r="1.5"/>
<circle cx="367.9" cy="297.2" r="1.5"/>
<circle cx="276.7" cy="271.4" r="1.5"/>
<circle cx="237.5" cy="204.5" r="1.5"/>
<circle cx="250.5" cy="251.5" r="1.5"/>
<circle cx="269.1" cy="246.2" r="1.5"/>
<circle cx="408.0" cy="328.0" r="1.5"/>
<circle cx="379.2" cy="273.0" r="1.5"/>
<circle cx="386.0" cy="296.2" r="1.5"/>
<circle cx="323.4" cy="301.7" r="1.5"/>
<circle cx="253.4" cy="277.8" r="1.5"/>
<circle cx="327.7" cy="231.8" r="1.5"/>
<circle cx="409.2" cy="254.7" r="1.5"/>
<circle cx="336.7" cy="247.1" r="1.5"/>
<circle cx="361.8" cy="264.2" r="1.5"/>
<circle cx="309.0" cy="274.7" r="1.5"/>
<circle cx="263.1" cy="224.5" r="1.5"/>
<circle cx="360.7" cy="297.7" r="1.5"/>
<circle cx="331.7" cy="241.3" r="1.5"/>
<circle cx="303.2" cy="250.0" r="1.5"/>
<circle cx="285.3" cy="253.8" r="1.5"/>
<circle cx="375.0" cy="298.2" r="1.5"/>
<circle cx="297.5" cy="224.4" r="1.5"/>
<circle cx="350.4" cy="252.3" r="1.5"/>
<circle cx="285.6" cy="205.0" r="1.5"/>
<circle cx="386.7" cy="257.8" r="1.5"/>
<circle cx="309.2" cy="269.3" r="1.5"/>
<circle cx="330.4" cy="278.8" r="1.5"/>
<circle cx="422.4" cy="305.0" r="1.5"/>
<circle cx="379.5" cy="298.1" r="1.5"/>
<circle cx="383.2" cy="285.5" r="1.5"/>
<circle cx="301.9" cy="249.6" r="1.5"/>
<circle cx="404.5" cy="323.6" r="1.5"/>
<circle cx="311.4" cy="223.9" r="1.5"/>
<circle cx="434.9" cy="297.7" r="1.5"/>
<circle cx="415.9" cy="265.7" r="1.5"/>
<circle cx="367.4" cy="290.5" r="1.5"/>
<circle cx="402.7" cy="310.4" r="1.5"/>
<circle cx="343.8" cy="243.8" r="1.5"/>
<circle cx="382.6" cy="284.3" r="1.5"/>
<circle cx="257.9" cy="292.4" r="1.5"/>
<circle cx="434.9" cy="310.6" r="1.5"/>
<circle cx="396.3" cy="290.8" r="1.5"/>
<circle cx="261.5" cy="240.3" r="1.5"/>
<circle cx="282.1" cy="228.4" r="1.5"/>
<circle cx="350.2" cy="294.2" r="1.5"/>
<circle cx="388.6" cy="241.4" r="1.5"/>
<circle cx="262.9" cy="239.4" r="1.5"/>
<circle cx="429.2" cy="295.8" r="1.5"/>
<circle cx="303.2" cy="281.7" r="1.5"/>
<circle cx="436.2" cy="302.1" r="1.5"/>
<circle cx="386.6" cy="276.0" r="1.5"/>
<circle cx="331.8" cy="254.0" r="1.5"/>
<circle cx="306.7" cy="237.4" r="1.5"/>
<circle cx="252.1" cy="311.0" r="1.5"/>
<circle cx="250.4" cy="257.8" r="1.5"/>
<circle cx="361.3" cy="260.4" r="1.5"/>
<circle cx="390.8" cy="324.5" r="1.5"/>
<circle cx="418.3" cy="303.4" r="1.5"/>
<circle cx="307.1" cy="278.7" r="1.5"/>
<circle cx="424.5" cy="257.2" r="1.5"/>
<circle cx="293.2" cy="242.9" r="1.5"/>
<circle cx="424.9" cy="247.2" r="1.5"/>
<circle cx="420.6" cy="330.5" r="1.5"/>
<circle cx="264.1" cy="231.2" r="1.5"/>
<circle cx="408.7" cy="277.7" r="1.5"/>
<circle cx="376.5" cy="292.8" r="1.5"/>
<circle cx="376.3" cy="310.0" r="1.5"/>
<circle cx="404.6" cy="307.6" r="1.5"/>
<circle cx="342.3" cy="234.3" r="1.5"/>
<circle cx="336.2" cy="254.2" r="1.5"/>
<circle cx="307.6" cy="233.9" r="1.5"/>
<circle cx="409.6" cy="304.6" r="1.5"/>
<circle cx="417.0" cy="320.2" r="1.5"/>
<circle cx="265.2" cy="277.8" r="1.5"/>
<circle cx="390.6" cy="304.6" r="1.5"/>
<circle cx="288.8" cy="233.4" r="1.5"/>
<circle cx="270.0" cy="237.9" r="1.5"/>
<circle cx="272.8" cy="238.2" r="1.5"/>
<circle cx="349.8" cy="302.7" r="1.5"/>
<circle cx="289.7" cy="219.2" r="1.5"/>
<circle cx="282.0" cy="221.2" r="1.5"/>
<circle cx="252.5" cy="181.1" r="1.5"/>
<circle cx="298.9" cy="297.4" r="1.5"/>
<circle cx="391.0" cy="294.7" r="1.5"/>
<circle cx="236.8" cy="194.7" r="1.5"/>
<circle cx="331.2" cy="306.0" r="1.5"/>
<circle cx="355.9" cy="259.9" r="1.5"/>
<circle cx="242.5" cy="253.0" r="1.5"/>
<circle cx="292.6" cy="232.1" r="1.5"/>
<circle cx="418.1" cy="307.2" r="1.5"/>
<circle cx="436.1" cy="309.6" r="1.5"/>
<circle cx="406.6" cy="305.2" r="1.5"/>
<circle cx="267.1" cy="224.8" r="1.5"/>
<circle cx="388.9" cy="253.2" r="1.5"/>
<circle cx="324.7" cy="263.7" r="1.5"/>
<circle cx="267.3" cy="233.9" r="1.5"/>
<circle cx="330.9" cy="274.1" r="1.5"/>
<circle cx="421.4" cy="289.0" r="1.5"/>
<circle cx="412.1" cy="266.5" r="1.5"/>
<circle cx="312.6" cy="260.1" r="1.5"/>
<circle cx="245.3" cy="221.4" r="1.5"/>
<circle cx="416.9" cy="295.0" r="1.5"/>
<circle cx="434.4" cy="298.8" r="1.5"/>
<circle cx="337.1" cy="259.3" r="1.5"/>
<circle cx="278.5" cy="266.7" r="1.5"/>
<circle cx="343.8" cy="249.2" r="1.5"/>
<circle cx="375.0" cy="302.3" r="1.5"/>
<circle cx="331.2" cy="226.2" r="1.5"/>
<circle cx="304.6" cy="265.6" r="1.5"/>
<circle cx="283.1" cy="238.0" r="1.5"/>
<circle cx="293.2" cy="229.5" r="1.5"/>
<circle cx="242.6" cy="165.2" r="1.5"/>
<circle cx="284.6" cy="223.3" r="1.5"/>
<circle cx="427.6" cy="275.1" r="1.5"/>
<circle cx="234.0" cy="179.5" r="1.5"/>
<circle cx="381.4" cy="299.8" r="1.5"/>
<circle cx="394.0" cy="299.6" r="1.5"/>
<circle cx="315.3" cy="181.4" r="1.5"/>
<circle cx="354.3" cy="241.4" r="1.5"/>
<circle cx="277.6" cy="277.3" r="1.5"/>
<circle cx="369.2" cy="226.7" r="1.5"/>
<circle cx="377.4" cy="326.1" r="1.5"/>
<circle cx="382.9" cy="272.7" r="1.5"/>
<circle cx="333.1" cy="293.9" r="1.5"/>
<circle cx="431.2" cy="305.2" r="1.5"/>
<circle cx="409.9" cy="307.4" r="1.5"/>
<circle cx="349.6" cy="276.0" r="1.5"/>
<circle cx="372.2" cy="234.6" r="1.5"/>
<circle cx="288.7" cy="234.8" r="1.5"/>
<circle cx="425.7" cy="316.7" r="1.5"/>
<circle cx="364.5" cy="297.0" r="1.5"/>
<circle cx="415.7" cy="290.4" r="1.5"/>
<circle cx="291.5" cy="251.6" r="1.5"/>
<circle cx="433.6" cy="311.3" r="1.5"/>
<circle cx="254.0" cy="268.8" r="1.5"/>
<circle cx="341.0" cy="225.7" r="1.5"/>
<circle cx="255.0" cy="240.7" r="1.5"/>
<circle cx="271.2" cy="266.6" r="1.5"/>
<circle cx="388.9" cy="279.4" r="1.5"/>
<circle cx="245.9" cy="243.8" r="1.5"/>
<circle cx="310.8" cy="289.3" r="1.5"/>
<circle cx="271.6" cy="197.0" r="1.5"/>
<circle cx="406.6" cy="266.2" r="1.5"/>
<circle cx="249.2" cy="223.2" r="1.5"/>
<circle cx="301.3" cy="211.5" r="1.5"/>
<circle cx="407.8" cy="330.3" r="1.5"/>
<circle cx="373.1" cy="249.5" r="1.5"/>
<circle cx="376.5" cy="277.5" r="1.5"/>
<circle cx="435.4" cy="242.1" r="1.5"/>
<circle cx="237.1" cy="226.8" r="1.5"/>
<circle cx="368.6" cy="280.8" r="1.5"/>
<circle cx="385.0" cy="289.4" r="1.5"/>
<circle cx="385.7" cy="311.5" r="1.5"/>
<circle cx="378.7" cy="308.9" r="1.5"/>
<circle cx="247.1" cy="230.7" r="1.5"/>
<circle cx="249.5" cy="233.6" r="1.5"/>
<circle cx="390.7" cy="275.6" r="1.5"/>
<circle cx="357.7" cy="246.7" r="1.5"/>
<circle cx="286.2" cy="213.9" r="1.5"/>
<circle cx="234.3" cy="199.2" r="1.5"/>
<circle cx="341.7" cy="281.7" r="1.5"/>
<circle cx="250.9" cy="217.3" r="1.5"/>
<circle cx="385.7" cy="273.8" r="1.5"/>
<circle cx="302.2" cy="301.5" r="1.5"/>
<circle cx="397.8" cy="256.5" r="1.5"/>
<circle cx="251.9" cy="250.8" r="1.5"/>
<circle cx="333.6" cy="213.8" r="1.5"/>
<circle cx="252.8" cy="178.2" r="1.5"/>
<circle cx="392.2" cy="344.0" r="1.5"/>
<circle cx="347.1" cy="253.3" r="1.5"/>
<circle cx="280.4" cy="258.6" r="1.5"/>
<circle cx="429.6" cy="294.1" r="1.5"/>
<circle cx="372.1" cy="293.3" r="1.5"/>
<circle cx="301.3" cy="241.2" r="1.5"/>
<circle cx="407.6" cy="232.5" r="1.5"/>
<circle cx="310.2" cy="254.0" r="1.5"/>
<circle cx="425.5" cy="262.7" r="1.5"/>
<circle cx="293.2" cy="215.6" r="1.5"/>
<circle cx="434.0" cy="301.4" r="1.5"/>
<circle cx="245.2" cy="196.8" r="1.5"/>
<circle cx="382.9" cy="229.5" r="1.5"/>
<circle cx="292.1" cy="263.7" r="1.5"/>
<circle cx="319.2" cy="255.6" r="1.5"/>
<circle cx="362.7" cy="237.3" r="1.5"/>
<circle cx="241.7" cy="202.9" r="1.5"/>
<circle cx="278.2" cy="243.2" r="1.5"/>
<circle cx="253.7" cy="243.3" r="1.5"/>
<circle cx="383.9" cy="304.2" r="1.5"/>
<circle cx="277.7" cy="231.0" r="1.5"/>
<circle cx="334.5" cy="296.7" r="1.5"/>
<circle cx="299.7" cy="282.6" r="1.5"/>
<circle cx="280.7" cy="243.0" r="1.5"/>
<circle cx="424.0" cy="341.7" r="1.5"/>
<circle cx="336.3" cy="303.4" r="1.5"/>
<circle cx="365.6" cy="270.4" r="1.5"/>
<circle cx="376.7" cy="283.4" r="1.5"/>
<circle cx="400.6" cy="272.1" r="1.5"/>
<circle cx="286.3" cy="215.1" r="1.5"/>
<circle cx="248.5" cy="203.3" r="1.5"/>
<circle cx="328.1" cy="281.6" r="1.5"/>
<circle cx="267.2" cy="255.2" r="1.5"/>
<circle cx="236.5" cy="153.7" r="1.5"/>
<circle cx="420.8" cy="268.6" r="1.5"/>
<circle cx="360.7" cy="252.5" r="1.5"/>
<circle cx="317.3" cy="277.3" r="1.5"/>
<circle cx="260.3" cy="304.4" r="1.5"/>
<circle cx="388.3" cy="243.4" r="1.5"/>
<circle cx="341.6" cy="248.4" r="1.5"/>
<circle cx="268.1" cy="268.0" r="1.5"/>
<circle cx="433.6" cy="365.1" r="1.5"/>
<circle cx="427.2" cy="321.4" r="1.5"/>
<circle cx="422.3" cy="286.7" r="1.5"/>
<circle cx="401.7" cy="313.7" r="1.5"/>
<circle cx="341.3" cy="275.8" r="1.5"/>
<circle cx="293.9" cy="262.9" r="1.5"/>
<circle cx="365.9" cy="238.9" r="1.5"/>
<circle cx="263.4" cy="247.5" r="1.5"/>
<circle cx="358.7" cy="289.5" r="1.5"/>
<circle cx="245.9" cy="202.8" r="1.5"/>
<circle cx="235.1" cy="147.5" r="1.5"/>
<circle cx="379.0" cy="238.4" r="1.5"/>
<circle cx="302.6" cy="268.0" r="1.5"/>
<circle cx="375.2" cy="217.9" r="1.5"/>
<circle cx="392.2" cy="282.5" r="1.5"/>
<circle cx="403.5" cy="317.1" r="1.5"/>
<circle cx="358.5" cy="279.3" r="1.5"/>
<circle cx="405.8" cy="241.3" r="1.5"/>
<circle cx="367.4" cy="252.2" r="1.5"/>
<circle cx="422.3" cy="313.4" r="1.5"/>
<circle cx="416.1" cy="278.5" r="1.5"/>
<circle cx="241.2" cy="192.2" r="1.5"/>
<circle cx="287.2" cy="255.3" r="1.5"/>
<circle cx="312.0" cy="249.3" r="1.5"/>
<circle cx="284.0" cy="262.1" r="1.5"/>
<circle cx="268.6" cy="241.8" r="1.5"/>
<circle cx="411.3" cy="349.0" r="1.5"/>
<circle cx="237.5" cy="192.9" r="1.5"/>
<circle cx="269.6" cy="217.7" r="1.5"/>
<circle cx="388.1" cy="281.6" r="1.5"/>
<circle cx="278.1" cy="201.0" r="1.5"/>
<circle cx="285.3" cy="217.6" r="1.5"/>
<circle cx="430.6" cy="366.9" r="1.5"/>
<circle cx="388.6" cy="319.2" r="1.5"/>
<circle cx="324.3" cy="270.7" r="1.5"/>
<circle cx="260.3" cy="259.1" r="1.5"/>
<circle cx="287.5" cy="211.4" r="1.5"/>
<circle cx="433.4" cy="312.3" r="1.5"/>
<circle cx="394.4" cy="357.8" r="1.5"/>
<circle cx="246.7" cy="254.4" r="1.5"/>
<circle cx="377.2" cy="303.1" r="1.5"/>
<circle cx="309.4" cy="253.5" r="1.5"/>
<circle cx="379.9" cy="275.0" r="1.5"/>
<circle cx="292.9" cy="229.8" r="1.5"/>
<circle cx="259.0" cy="220.7" r="1.5"/>
<circle cx="236.4" cy="223.1" r="1.5"/>
<circle cx="292.9" cy="271.7" r="1.5"/>
<circle cx="408.6" cy="249.6" r="1.5"/>
<circle cx="415.0" cy="285.7" r="1.5"/>
<circle cx="372.3" cy="246.3" r="1.5"/>
<circle cx="385.6" cy="302.5" r="1.5"/>
<circle cx="272.2" cy="255.4" r="1.5"/>
<circle cx="304.9" cy="216.4" r="1.5"/>
<circle cx="416.6" cy="286.3" r="1.5"/>
<circle cx="434.4" cy="307.1" r="1.5"/>
<circle cx="323.1" cy="255.0" r="1.5"/>
<circle cx="391.3" cy="301.6" r="1.5"/>
<circle cx="423.6" cy="305.0" r="1.5"/>
<circle cx="436.6" cy="278.9" r="1.5"/>
<circle cx="293.0" cy="242.4" r="1.5"/>
<circle cx="366.4" cy="273.1" r="1.5"/>
<circle cx="312.3" cy="249.2" r="1.5"/>
<circle cx="327.6" cy="295.5" r="1.5"/>
<circle cx="327.0" cy="301.6" r="1.5"/>
<circle cx="289.4" cy="229.7" r="1.5"/>
<circle cx="236.3" cy="225.3" r="1.5"/>
<circle cx="389.4" cy="294.1" r="1.5"/>
<circle cx="375.0" cy="304.2" r="1.5"/>
<circle cx="404.6" cy="273.6" r="1.5"/>
<circle cx="468.8" cy="268.1" r="1.5"/>
<circle cx="486.1" cy="215.5" r="1.5"/>
<circle cx="560.0" cy="156.2" r="1.5"/>
<circle cx="630.1" cy="146.6" r="1.5"/>
<circle cx="534.4" cy="160.1" r="1.5"/>
<circle cx="478.6" cy="218.9" r="1.5"/>
<circle cx="559.7" cy="216.1" r="1.5"/>
<circle cx="634.4" cy="126.6" r="1.5"/>
<circle cx="616.0" cy="143.9" r="1.5"/>
<circle cx="622.4" cy="207.0" r="1.5"/>
<circle cx="521.8" cy="226.8" r="1.5"/>
<circle cx="491.3" cy="222.2" r="1.5"/>
<circle cx="616.5" cy="168.8" r="1.5"/>
<circle cx="599.5" cy="170.2" r="1.5"/>
<circle cx="612.6" cy="144.1" r="1.5"/>
<circle cx="517.8" cy="196.9" r="1.5"/>
<circle cx="496.2" cy="186.7" r="1.5"/>
<circle cx="486.7" cy="259.6" r="1.5"/>
<circle cx="616.5" cy="196.4" r="1.5"/>
<circle cx="626.6" cy="107.7" r="1.5"/>
<circle cx="512.9" cy="205.6" r="1.5"/>
<circle cx="617.3" cy="164.2" r="1.5"/>
<circle cx="515.8" cy="220.2" r="1.5"/>
<circle cx="529.5" cy="175.7" r="1.5"/>
<circle cx="553.9" cy="159.1" r="1.5"/>
<circle cx="482.8" cy="218.9" r="1.5"/>
<circle cx="492.3" cy="197.6" r="1.5"/>
<circle cx="492.2" cy="225.9" r="1.5"/>
<circle cx="490.8" cy="215.8" r="1.5"/>
<circle cx="543.4" cy="215.2" r="1.5"/>
<circle cx="457.9" cy="292.9" r="1.5"/>
<circle cx="597.9" cy="172.6" r="1.5"/>
<circle cx="473.2" cy="218.7" r="1.5"/>
<circle cx="528.7" cy="179.2" r="1.5"/>
<circle cx="569.4" cy="138.7" r="1.5"/>
<circle cx="465.7" cy="267.1" r="1.5"/>
<circle cx="521.5" cy="215.5" r="1.5"/>
<circle cx="553.2" cy="197.0" r="1.5"/>
<circle cx="550.6" cy="171.7" r="1.5"/>
<circle cx="621.0" cy="200.7" r="1.5"/>
<circle cx="598.9" cy="219.5" r="1.5"/>
<circle cx="462.1" cy="253.7" r="1.5"/>
<circle cx="608.8" cy="145.2" r="1.5"/>
<circle cx="550.5" cy="222.6" r="1.5"/>
<circle cx="576.9" cy="201.6" r="1.5"/>
<circle cx="470.2" cy="309.0" r="1.5"/>
<circle cx="534.4" cy="186.1" r="1.5"/>
<circle cx="581.4" cy="174.4" r="1.5"/>
<circle cx="601.5" cy="145.9" r="1.5"/>
<circle cx="603.2" cy="157.7" r="1.5"/>
<circle cx="482.0" cy="219.3" r="1.5"/>
<circle cx="608.7" cy="204.0" r="1.5"/>
<circle cx="554.3" cy="129.3" r="1.5"/>
<circle cx="574.9" cy="159.2" r="1.5"/>
<circle cx="612.6" cy="194.5" r="1.5"/>
<circle cx="520.7" cy="180.2" r="1.5"/>
<circle cx="626.6" cy="207.3" r="1.5"/>
<circle cx="618.7" cy="205.3" r="1.5"/>
<circle cx="603.6" cy="193.3" r="1.5"/>
<circle cx="515.5" cy="195.8" r="1.5"/>
<circle cx="546.0" cy="174.7" r="1.5"/>
<circle cx="472.9" cy="252.3" r="1.5"/>
<circle cx="593.6" cy="203.7" r="1.5"/>
<circle cx="620.7" cy="130.8" r="1.5"/>
<circle cx="470.4" cy="280.4" r="1.5"/>
<circle cx="590.6" cy="178.0" r="1.5"/>
<circle cx="580.2" cy="126.9" r="1.5"/>
<circle cx="444.8" cy="310.9" r="1.5"/>
<circle cx="626.1" cy="185.7" r="1.5"/>
<circle cx="535.9" cy="173.9" r="1.5"/>
<circle cx="492.7" cy="248.1" r="1.5"/>
<circle cx="443.5" cy="307.1" r="1.5"/>
<circle cx="598.3" cy="137.7" r="1.5"/>
<circle cx="506.8" cy="186.5" r="1.5"/>
<circle cx="543.0" cy="149.2" r="1.5"/>
<circle cx="477.4" cy="252.5" r="1.5"/>
<circle cx="562.2" cy="183.7" r="1.5"/>
<circle cx="519.1" cy="203.8" r="1.5"/>
<circle cx="603.3" cy="183.8" r="1.5"/>
<circle cx="574.5" cy="172.3" r="1.5"/>
<circle cx="585.9" cy="180.6" r="1.5"/>
<circle cx="489.0" cy="240.9" r="1.5"/>
<circle cx="450.4" cy="273.7" r="1.5"/>
<circle cx="618.5" cy="182.9" r="1.5"/>
<circle cx="629.9" cy="124.0" r="1.5"/>
<circle cx="569.8" cy="147.6" r="1.5"/>
<circle cx="627.1" cy="165.8" r="1.5"/>
<circle cx="582.7" cy="136.9" r="1.5"/>
<circle cx="562.0" cy="167.3" r="1.5"/>
<circle cx="523.5" cy="184.6" r="1.5"/>
<circle cx="510.5" cy="218.0" r="1.5"/>
<circle cx="538.1" cy="196.5" r="1.5"/>
<circle cx="483.1" cy="215.2" r="1.5"/>
<circle cx="525.3" cy="171.9" r="1.5"/>
<circle cx="541.8" cy="239.6" r="1.5"/>
<circle cx="443.7" cy="272.6" r="1.5"/>
<circle cx="518.3" cy="214.6" r="1.5"/>
<circle cx="495.8" cy="221.6" r="1.5"/>
<circle cx="567.8" cy="151.2" r="1.5"/>
<circle cx="604.4" cy="155.5" r="1.5"/>
<circle cx="563.8" cy="184.2" r="1.5"/>
<circle cx="574.0" cy="173.9" r="1.5"/>
<circle cx="563.7" cy="198.7" r="1.5"/>
<circle cx="490.0" cy="210.4" r="1.5"/>
<circle cx="514.7" cy="184.9" r="1.5"/>
<circle cx="611.1" cy="138.2" r="1.5"/>
<circle cx="632.1" cy="164.8" r="1.5"/>
<circle cx="474.6" cy="294.3" r="1.5"/>
<circle cx="439.4" cy="297.9" r="1.5"/>
<circle cx="635.2" cy="135.9" r="1.5"/>
<circle cx="614.3" cy="121.7" r="1.5"/>
<circle cx="562.4" cy="189.1" r="1.5"/>
<circle cx="605.5" cy="155.6" r="1.5"/>
<circle cx="559.6" cy="147.7" r="1.5"/>
<circle cx="623.6" cy="194.4" r="1.5"/>
<circle cx="487.4" cy="259.2" r="1.5"/>
<circle cx="528.7" cy="249.1" r="1.5"/>
<circle cx="575.3" cy="153.4" r="1.5"/>
<circle cx="481.7" cy="279.2" r="1.5"/>
<circle cx="584.4" cy="167.4" r="1.5"/>
<circle cx="491.3" cy="195.3" r="1.5"/>
<circle cx="583.5" cy="208.6" r="1.5"/>
<circle cx="602.9" cy="142.3" r="1.5"/>
<circle cx="524.6" cy="200.8" r="1.5"/>
<circle cx="641.1" cy="172.9" r="1.5"/>
<circle cx="567.3" cy="154.1" r="1.5"/>
<circle cx="593.0" cy="166.8" r="1.5"/>
<circle cx="441.5" cy="350.4" r="1.5"/>
<circle cx="460.5" cy="266.7" r="1.5"/>
<circle cx="583.8" cy="194.7" r="1.5"/>
<circle cx="631.5" cy="191.6" r="1.5"/>
<circle cx="566.6" cy="160.3" r="1.5"/>
<circle cx="625.2" cy="103.3" r="1.5"/>
<circle cx="449.4" cy="242.0" r="1.5"/>
<circle cx="620.9" cy="196.8" r="1.5"/>
<circle cx="617.9" cy="163.6" r="1.5"/>
<circle cx="566.7" cy="182.8" r="1.5"/>
<circle cx="525.7" cy="178.3" r="1.5"/>
<circle cx="582.4" cy="189.2" r="1.5"/>
<circle cx="487.5" cy="231.1" r="1.5"/>
<circle cx="574.7" cy="153.9" r="1.5"/>
<circle cx="580.2" cy="139.0" r="1.5"/>
<circle cx="548.4" cy="134.7" r="1.5"/>
<circle cx="490.8" cy="221.4" r="1.5"/>
<circle cx="437.7" cy="273.3" r="1.5"/>
<circle cx="477.6" cy="259.9" r="1.5"/>
<circle cx="608.9" cy="197.8" r="1.5"/>
<circle cx="481.0" cy="260.5" r="1.5"/>
<circle cx="452.6" cy="292.7" r="1.5"/>
<circle cx="488.0" cy="232.5" r="1.5"/>
<circle cx="544.2" cy="176.6" r="1.5"/>
<circle cx="558.0" cy="174.4" r="1.5"/>
<circle cx="617.9" cy="216.1" r="1.5"/>
<circle cx="613.3" cy="124.8" r="1.5"/>
<circle cx="636.7" cy="104.7" r="1.5"/>
<circle cx="619.3" cy="155.8" r="1.5"/>
<circle cx="530.0" cy="199.1" r="1.5"/>
<circle cx="466.5" cy="278.8" r="1.5"/>
<circle cx="634.1" cy="112.6" r="1.5"/>
<circle cx="484.4" cy="205.4" r="1.5"/>
<circle cx="565.4" cy="165.0" r="1.5"/>
<circle cx="491.7" cy="202.5" r="1.5"/>
<circle cx="605.5" cy="107.5" r="1.5"/>
<circle cx="478.6" cy="239.5" r="1.5"/>
<circle cx="523.9" cy="214.4" r="1.5"/>
<circle cx="482.5" cy="247.1" r="1.5"/>
<circle cx="614.5" cy="133.2" r="1.5"/>
<circle cx="564.8" cy="198.0" r="1.5"/>
<circle cx="567.2" cy="199.0" r="1.5"/>
<circle cx="502.0" cy="235.3" r="1.5"/>
<circle cx="473.6" cy="265.6" r="1.5"/>
<circle cx="613.8" cy="190.3" r="1.5"/>
<circle cx="594.7" cy="152.3" r="1.5"/>
<circle cx="588.5" cy="136.7" r="1.5"/>
<circle cx="642.6" cy="124.4" r="1.5"/>
<circle cx="552.5" cy="173.8" r="1.5"/>
<circle cx="474.0" cy="238.4" r="1.5"/>
<circle cx="562.8" cy="134.5" r="1.5"/>
<circle cx="496.4" cy="233.8" r="1.5"/>
<circle cx="542.9" cy="164.7" r="1.5"/>
<circle cx="531.8" cy="214.1" r="1.5"/>
<circle cx="553.3" cy="161.8" r="1.5"/>
<circle cx="627.0" cy="128.8" r="1.5"/>
<circle cx="604.1" cy="159.3" r="1.5"/>
<circle cx="522.7" cy="193.3" r="1.5"/>
<circle cx="605.6" cy="163.9" r="1.5"/>
<circle cx="614.5" cy="147.6" r="1.5"/>
<circle cx="596.6" cy="146.9" r="1.5"/>
<circle cx="550.8" cy="184.6" r="1.5"/>
<circle cx="622.4" cy="128.3" r="1.5"/>
<circle cx="538.6" cy="156.2" r="1.5"/>
<circle cx="459.1" cy="296.6" r="1.5"/>
<circle cx="493.3" cy="211.1" r="1.5"/>
<circle cx="572.6" cy="202.8" r="1.5"/>
<circle cx="515.3" cy="231.6" r="1.5"/>
<circle cx="524.3" cy="207.7" r="1.5"/>
<circle cx="520.1" cy="207.2" r="1.5"/>
<circle cx="476.8" cy="241.2" r="1.5"/>
<circle cx="456.5" cy="248.8" r="1.5"/>
<circle cx="447.4" cy="323.3" r="1.5"/>
<circle cx="575.7" cy="170.6" r="1.5"/>
<circle cx="504.0" cy="222.3" r="1.5"/>
<circle cx="531.3" cy="169.0" r="1.5"/>
<circle cx="629.8" cy="156.1" r="1.5"/>
<circle cx="566.3" cy="200.9" r="1.5"/>
<circle cx="604.2" cy="204.3" r="1.5"/>
<circle cx="594.2" cy="111.2" r="1.5"/>
<circle cx="633.6" cy="170.6" r="1.5"/>
<circle cx="451.0" cy="261.7" r="1.5"/>
<circle cx="516.4" cy="191.7" r="1.5"/>
<circle cx="632.8" cy="167.3" r="1.5"/>
<circle cx="532.9" cy="175.0" r="1.5"/>
<circle cx="632.4" cy="132.6" r="1.5"/>
<circle cx="475.3" cy="259.9" r="1.5"/>
<circle cx="449.7" cy="262.5" r="1.5"/>
<circle cx="621.6" cy="161.8" r="1.5"/>
<circle cx="521.9" cy="159.8" r="1.5"/>
<circle cx="541.9" cy="183.4" r="1.5"/>
<circle cx="630.1" cy="166.2" r="1.5"/>
<circle cx="482.4" cy="177.7" r="1.5"/>
<circle cx="636.6" cy="172.3" r="1.5"/>
<circle cx="518.9" cy="186.5" r="1.5"/>
<circle cx="488.2" cy="218.8" r="1.5"/>
<circle cx="485.4" cy="212.4" r="1.5"/>
<circle cx="544.0" cy="162.5" r="1.5"/>
<circle cx="533.4" cy="173.7" r="1.5"/>
<circle cx="619.7" cy="193.4" r="1.5"/>
<circle cx="447.7" cy="288.3" r="1.5"/>
<circle cx="446.3" cy="294.3" r="1.5"/>
<circle cx="468.7" cy="273.4" r="1.5"/>
<circle cx="562.0" cy="150.5" r="1.5"/>
<circle cx="598.1" cy="185.6" r="1.5"/>
<circle cx="536.1" cy="179.5" r="1.5"/>
<circle cx="563.6" cy="149.3" r="1.5"/>
<circle cx="569.6" cy="146.1" r="1.5"/>
<circle cx="441.2" cy="257.1" r="1.5"/>
<circle cx="488.0" cy="202.8" r="1.5"/>
<circle cx="642.7" cy="156.2" r="1.5"/>
<circle cx="505.4" cy="247.2" r="1.5"/>
<circle cx="632.2" cy="163.0" r="1.5"/>
<circle cx="538.6" cy="179.2" r="1.5"/>
<circle cx="483.1" cy="229.3" r="1.5"/>
<circle cx="437.7" cy="266.0" r="1.5"/>
<circle cx="482.0" cy="223.9" r="1.5"/>
<circle cx="503.5" cy="210.0" r="1.5"/>
<circle cx="527.7" cy="186.5" r="1.5"/>
<circle cx="529.3" cy="178.9" r="1.5"/>
<circle cx="550.2" cy="156.5" r="1.5"/>
<circle cx="534.9" cy="152.2" r="1.5"/>
<circle cx="444.0" cy="284.8" r="1.5"/>
<circle cx="492.2" cy="203.6" r="1.5"/>
<circle cx="635.4" cy="115.1" r="1.5"/>
<circle cx="442.9" cy="304.1" r="1.5"/>
<circle cx="588.4" cy="206.7" r="1.5"/>
<circle cx="535.3" cy="168.2" r="1.5"/>
<circle cx="582.8" cy="175.6" r="1.5"/>
<circle cx="505.7" cy="171.7" r="1.5"/>
<circle cx="513.5" cy="169.9" r="1.5"/>
<circle cx="543.7" cy="115.7" r="1.5"/>
<circle cx="624.6" cy="145.6" r="1.5"/>
<circle cx="504.9" cy="256.9" r="1.5"/>
<circle cx="454.9" cy="255.1" r="1.5"/>
<circle cx="445.1" cy="286.1" r="1.5"/>
<circle cx="618.8" cy="181.1" r="1.5"/>
<circle cx="501.9" cy="246.8" r="1.5"/>
<circle cx="461.9" cy="256.8" r="1.5"/>
<circle cx="560.1" cy="147.3" r="1.5"/>
<circle cx="611.2" cy="131.4" r="1.5"/>
<circle cx="560.7" cy="160.9" r="1.5"/>
<circle cx="468.5" cy="265.9" r="1.5"/>
<circle cx="520.8" cy="182.2" r="1.5"/>
<circle cx="492.1" cy="220.7" r="1.5"/>
<circle cx="440.7" cy="291.9" r="1.5"/>
<circle cx="636.1" cy="168.5" r="1.5"/>
<circle cx="531.8" cy="174.7" r="1.5"/>
<circle cx="465.0" cy="248.9" r="1.5"/>
<circle cx="619.5" cy="164.6" r="1.5"/>
<circle cx="640.1" cy="186.7" r="1.5"/>
<circle cx="605.3" cy="183.7" r="1.5"/>
<circle cx="489.5" cy="232.3" r="1.5"/>
<circle cx="476.5" cy="263.2" r="1.5"/>
<circle cx="545.4" cy="145.7" r="1.5"/>
<circle cx="557.4" cy="202.6" r="1.5"/>
<circle cx="618.1" cy="135.7" r="1.5"/>
<circle cx="636.4" cy="186.1" r="1.5"/>
<circle cx="624.7" cy="121.9" r="1.5"/>
<circle cx="507.7" cy="233.7" r="1.5"/>
<circle cx="557.8" cy="214.2" r="1.5"/>
<circle cx="462.8" cy="243.8" r="1.5"/>
<circle cx="544.1" cy="158.0" r="1.5"/>
<circle cx="451.8" cy="316.1" r="1.5"/>
<circle cx="460.2" cy="263.9" r="1.5"/>
<circle cx="462.4" cy="269.5" r="1.5"/>
<circle cx="499.3" cy="264.4" r="1.5"/>
<circle cx="501.0" cy="218.5" r="1.5"/>
<circle cx="582.4" cy="146.5" r="1.5"/>
<circle cx="452.9" cy="290.1" r="1.5"/>
<circle cx="460.1" cy="274.2" r="1.5"/>
<circle cx="572.4" cy="129.3" r="1.5"/>
<circle cx="575.8" cy="191.8" r="1.5"/>
<circle cx="583.5" cy="131.8" r="1.5"/>
<circle cx="585.5" cy="130.1" r="1.5"/>
<circle cx="573.8" cy="150.9" r="1.5"/>
<circle cx="551.0" cy="131.5" r="1.5"/>
<circle cx="589.9" cy="200.7" r="1.5"/>
<circle cx="454.0" cy="300.3" r="1.5"/>
<circle cx="480.9" cy="250.6" r="1.5"/>
<circle cx="589.9" cy="197.0" r="1.5"/>
<circle cx="476.9" cy="213.3" r="1.5"/>
<circle cx="546.5" cy="219.9" r="1.5"/>
<circle cx="490.9" cy="198.5" r="1.5"/>
<circle cx="526.1" cy="220.7" r="1.5"/>
<circle cx="609.0" cy="122.4" r="1.5"/>
<circle cx="573.3" cy="199.0" r="1.5"/>
<circle cx="528.9" cy="180.2" r="1.5"/>
<circle cx="493.6" cy="165.7" r="1.5"/>
<circle cx="603.0" cy="132.3" r="1.5"/>
<circle cx="572.5" cy="212.4" r="1.5"/>
<circle cx="527.8" cy="188.3" r="1.5"/>
<circle cx="616.3" cy="150.5" r="1.5"/>
<circle cx="579.8" cy="133.7" r="1.5"/>
<circle cx="639.2" cy="229.1" r="1.5"/>
<circle cx="574.1" cy="129.0" r="1.5"/>
<circle cx="622.6" cy="156.4" r="1.5"/>
<circle cx="550.6" cy="105.8" r="1.5"/>
<circle cx="583.5" cy="190.0" r="1.5"/>
<circle cx="610.7" cy="193.7" r="1.5"/>
<circle cx="455.9" cy="252.8" r="1.5"/>
<circle cx="534.9" cy="172.6" r="1.5"/>
<circle cx="562.0" cy="204.3" r="1.5"/>
<circle cx="449.1" cy="295.8" r="1.5"/>
<circle cx="599.8" cy="191.0" r="1.5"/>
<circle cx="584.6" cy="169.4" r="1.5"/>
<circle cx="630.0" cy="121.9" r="1.5"/>
<circle cx="513.9" cy="188.2" r="1.5"/>
<circle cx="533.9" cy="191.5" r="1.5"/>
<circle cx="625.0" cy="153.5" r="1.5"/>
<circle cx="522.0" cy="198.4" r="1.5"/>
<circle cx="609.1" cy="159.9" r="1.5"/>
<circle cx="524.0" cy="171.9" r="1.5"/>
<circle cx="506.8" cy="204.3" r="1.5"/>
<circle cx="494.3" cy="181.8" r="1.5"/>
<circle cx="481.2" cy="249.6" r="1.5"/>
<circle cx="526.1" cy="189.2" r="1.5"/>
<circle cx="470.5" cy="248.8" r="1.5"/>
<circle cx="607.8" cy="141.5" r="1.5"/>
<circle cx="637.9" cy="167.1" r="1.5"/>
<circle cx="457.3" cy="307.9" r="1.5"/>
<circle cx="448.5" cy="279.0" r="1.5"/>
<circle cx="438.0" cy="286.7" r="1.5"/>
<circle cx="629.2" cy="177.6" r="1.5"/>
<circle cx="452.4" cy="257.6" r="1.5"/>
<circle cx="577.3" cy="127.9" r="1.5"/>
<circle cx="499.8" cy="234.4" r="1.5"/>
<circle cx="478.1" cy="233.0" r="1.5"/>
<circle cx="488.0" cy="232.2" r="1.5"/>
<circle cx="579.3" cy="191.2" r="1.5"/>
<circle cx="441.0" cy="300.8" r="1.5"/>
<circle cx="615.3" cy="208.0" r="1.5"/>
<circle cx="554.2" cy="141.9" r="1.5"/>
<circle cx="485.8" cy="243.4" r="1.5"/>
<circle cx="480.2" cy="257.4" r="1.5"/>
<circle cx="572.1" cy="136.5" r="1.5"/>
<circle cx="566.8" cy="155.5" r="1.5"/>
<circle cx="502.8" cy="227.3" r="1.5"/>
<circle cx="506.0" cy="230.7" r="1.5"/>
<circle cx="532.7" cy="170.0" r="1.5"/>
<circle cx="624.7" cy="145.0" r="1.5"/>
<circle cx="548.1" cy="154.2" r="1.5"/>
<circle cx="610.2" cy="209.3" r="1.5"/>
<circle cx="569.2" cy="206.2" r="1.5"/>
<circle cx="553.0" cy="133.0" r="1.5"/>
<circle cx="538.1" cy="164.2" r="1.5"/>
<circle cx="577.4" cy="126.6" r="1.5"/>
<circle cx="538.5" cy="167.8" r="1.5"/>
<circle cx="586.7" cy="136.7" r="1.5"/>
<circle cx="474.7" cy="242.1" r="1.5"/>
<circle cx="503.6" cy="226.7" r="1.5"/>
<circle cx="617.1" cy="157.9" r="1.5"/>
<circle cx="518.6" cy="153.1" r="1.5"/>
<circle cx="610.9" cy="117.4" r="1.5"/>
<circle cx="630.4" cy="128.1" r="1.5"/>
<circle cx="556.4" cy="131.6" r="1.5"/>
<circle cx="458.2" cy="261.7" r="1.5"/>
<circle cx="593.1" cy="201.5" r="1.5"/>
<circle cx="574.4" cy="115.1" r="1.5"/>
<circle cx="497.1" cy="212.8" r="1.5"/>
<circle cx="615.0" cy="118.7" r="1.5"/>
<circle cx="536.7" cy="180.3" r="1.5"/>
<circle cx="449.0" cy="292.0" r="1.5"/>
<circle cx="451.2" cy="272.0" r="1.5"/>
<circle cx="484.3" cy="212.4" r="1.5"/>
<circle cx="562.8" cy="203.6" r="1.5"/>
<circle cx="605.1" cy="163.9" r="1.5"/>
<circle cx="457.6" cy="302.0" r="1.5"/>
<circle cx="441.8" cy="304.0" r="1.5"/>
<circle cx="565.4" cy="122.9" r="1.5"/>
<circle cx="521.6" cy="190.9" r="1.5"/>
<circle cx="528.2" cy="185.1" r="1.5"/>
<circle cx="606.3" cy="114.5" r="1.5"/>
<circle cx="626.5" cy="188.8" r="1.5"/>
<circle cx="636.4" cy="227.1" r="1.5"/>
<circle cx="597.7" cy="144.7" r="1.5"/>
<circle cx="437.9" cy="333.5" r="1.5"/>
<circle cx="468.2" cy="257.7" r="1.5"/>
<circle cx="558.2" cy="130.3" r="1.5"/>
<circle cx="634.0" cy="170.6" r="1.5"/>
<circle cx="454.0" cy="318.9" r="1.5"/>
<circle cx="543.3" cy="199.6" r="1.5"/>
<circle cx="518.9" cy="193.2" r="1.5"/>
<circle cx="521.0" cy="146.3" r="1.5"/>
<circle cx="492.6" cy="208.3" r="1.5"/>
<circle cx="493.0" cy="202.8" r="1.5"/>
<circle cx="486.3" cy="282.9" r="1.5"/>
<circle cx="458.5" cy="192.0" r="1.5"/>
<circle cx="551.3" cy="160.5" r="1.5"/>
<circle cx="529.1" cy="222.3" r="1.5"/>
<circle cx="584.1" cy="168.2" r="1.5"/>
<circle cx="569.0" cy="123.9" r="1.5"/>
<circle cx="633.5" cy="169.6" r="1.5"/>
<circle cx="507.2" cy="196.8" r="1.5"/>
<circle cx="619.0" cy="150.2" r="1.5"/>
<circle cx="516.5" cy="222.8" r="1.5"/>
<circle cx="573.3" cy="149.6" r="1.5"/>
<circle cx="603.0" cy="183.8" r="1.5"/>
<circle cx="519.0" cy="225.0" r="1.5"/>
<circle cx="529.1" cy="218.8" r="1.5"/>
<circle cx="567.2" cy="132.4" r="1.5"/>
<circle cx="460.1" cy="231.7" r="1.5"/>
<circle cx="546.8" cy="163.7" r="1.5"/>
<circle cx="456.8" cy="274.9" r="1.5"/>
<circle cx="483.6" cy="265.2" r="1.5"/>
<circle cx="565.6" cy="145.3" r="1.5"/>
<circle cx="637.4" cy="141.7" r="1.5"/>
<circle cx="643.0" cy="197.1" r="1.5"/>
<circle cx="490.9" cy="220.2" r="1.5"/>
<circle cx="467.4" cy="236.6" r="1.5"/>
<circle cx="544.0" cy="164.8" r="1.5"/>
<circle cx="528.1" cy="181.1" r="1.5"/>
<circle cx="515.4" cy="174.8" r="1.5"/>
<circle cx="595.5" cy="174.6" r="1.5"/>
<circle cx="583.4" cy="135.9" r="1.5"/>
<circle cx="552.9" cy="173.3" r="1.5"/>
<circle cx="565.2" cy="211.7" r="1.5"/>
<circle cx="557.1" cy="197.4" r="1.5"/>
<circle cx="576.6" cy="201.6" r="1.5"/>
<circle cx="628.3" cy="111.2" r="1.5"/>
<circle cx="632.2" cy="172.2" r="1.5"/>
<circle cx="639.0" cy="168.7" r="1.5"/>
<circle cx="614.3" cy="117.9" r="1.5"/>
<circle cx="458.8" cy="284.6" r="1.5"/>
<circle cx="530.3" cy="188.8" r="1.5"/>
<circle cx="598.2" cy="101.3" r="1.5"/>
<circle cx="497.9" cy="187.1" r="1.5"/>
<circle cx="562.2" cy="191.4" r="1.5"/>
<circle cx="448.6" cy="361.6" r="1.5"/>
<circle cx="479.2" cy="242.3" r="1.5"/>
<circle cx="519.7" cy="171.5" r="1.5"/>
<circle cx="451.7" cy="322.4" r="1.5"/>
<circle cx="524.6" cy="207.0" r="1.5"/>
<circle cx="484.6" cy="263.4" r="1.5"/>
<circle cx="614.7" cy="192.4" r="1.5"/>
<circle cx="502.9" cy="200.6" r="1.5"/>
<circle cx="515.7" cy="211.3" r="1.5"/>
<circle cx="602.4" cy="140.7" r="1.5"/>
<circle cx="552.5" cy="213.4" r="1.5"/>
<circle cx="447.6" cy="335.1" r="1.5"/>
<circle cx="482.1" cy="233.1" r="1.5"/>
<circle cx="563.0" cy="167.0" r="1.5"/>
<circle cx="478.3" cy="215.8" r="1.5"/>
<circle cx="565.5" cy="160.4" r="1.5"/>
<circle cx="539.1" cy="177.3" r="1.5"/>
<circle cx="492.7" cy="246.9" r="1.5"/>
<circle cx="552.4" cy="182.8" r="1.5"/>
<circle cx="567.8" cy="125.7" r="1.5"/>
<circle cx="445.4" cy="326.1" r="1.5"/>
<circle cx="493.6" cy="226.7" r="1.5"/>
<circle cx="500.6" cy="194.0" r="1.5"/>
<circle cx="618.2" cy="198.0" r="1.5"/>
<circle cx="447.8" cy="311.7" r="1.5"/>
<circle cx="508.7" cy="216.4" r="1.5"/>
<circle cx="477.3" cy="229.8" r="1.5"/>
<circle cx="580.4" cy="195.6" r="1.5"/>
<circle cx="604.3" cy="138.7" r="1.5"/>
<circle cx="449.1" cy="324.9" r="1.5"/>
<circle cx="615.0" cy="149.5" r="1.5"/>
<circle cx="580.6" cy="135.9" r="1.5"/>
<circle cx="481.9" cy="243.5" r="1.5"/>
<circle cx="625.8" cy="162.9" r="1.5"/>
<circle cx="497.6" cy="230.0" r="1.5"/>
<circle cx="599.6" cy="158.7" r="1.5"/>
<circle cx="452.7" cy="272.3" r="1.5"/>
<circle cx="531.2" cy="167.2" r="1.5"/>
<circle cx="541.4" cy="172.9" r="1.5"/>
<circle cx="621.9" cy="148.1" r="1.5"/>
<circle cx="609.5" cy="122.5" r="1.5"/>
<circle cx="549.8" cy="198.9" r="1.5"/>
<circle cx="447.9" cy="215.4" r="1.5"/>
<circle cx="525.8" cy="153.2" r="1.5"/>
<circle cx="514.5" cy="196.8" r="1.5"/>
<circle cx="642.2" cy="157.7" r="1.5"/>
<circle cx="577.4" cy="126.6" r="1.5"/>
<circle cx="520.7" cy="158.0" r="1.5"/>
<circle cx="512.4" cy="177.6" r="1.5"/>
<circle cx="595.3" cy="147.2" r="1.5"/>
<circle cx="457.0" cy="302.2" r="1.5"/>
<circle cx="605.5" cy="129.7" r="1.5"/>
<circle cx="575.4" cy="191.0" r="1.5"/>
<circle cx="526.9" cy="174.9" r="1.5"/>
<circle cx="583.5" cy="208.5" r="1.5"/>
<circle cx="519.2" cy="184.9" r="1.5"/>
<circle cx="466.7" cy="239.2" r="1.5"/>
<circle cx="523.1" cy="194.3" r="1.5"/>
<circle cx="447.8" cy="274.0" r="1.5"/>
<circle cx="455.2" cy="269.2" r="1.5"/>
<circle cx="527.7" cy="189.3" r="1.5"/>
<circle cx="607.2" cy="130.8" r="1.5"/>
<circle cx="479.2" cy="270.3" r="1.5"/>
<circle cx="540.4" cy="101.9" r="1.5"/>
<circle cx="638.8" cy="112.1" r="1.5"/>
<circle cx="607.6" cy="191.1" r="1.5"/>
<circle cx="623.0" cy="172.0" r="1.5"/>
<circle cx="576.2" cy="125.4" r="1.5"/>
<circle cx="558.6" cy="219.7" r="1.5"/>
<circle cx="557.1" cy="133.7" r="1.5"/>
<circle cx="561.1" cy="193.5" r="1.5"/>
<circle cx="533.0" cy="140.4" r="1.5"/>
<circle cx="511.5" cy="227.4" r="1.5"/>
<circle cx="486.4" cy="224.5" r="1.5"/>
<circle cx="450.7" cy="326.5" r="1.5"/>
<circle cx="513.3" cy="200.6" r="1.5"/>
<circle cx="595.8" cy="177.7" r="1.5"/>
<circle cx="551.1" cy="154.9" r="1.5"/>
<circle cx="471.0" cy="278.8" r="1.5"/>
<circle cx="604.9" cy="105.9" r="1.5"/>
<circle cx="445.8" cy="243.3" r="1.5"/>
<circle cx="629.0" cy="200.7" r="1.5"/>
<circle cx="571.5" cy="201.8" r="1.5"/>
<circle cx="551.8" cy="189.9" r="1.5"/>
<circle cx="522.2" cy="180.6" r="1.5"/>
<circle cx="607.1" cy="168.5" r="1.5"/>
<circle cx="438.6" cy="299.6" r="1.5"/>
<circle cx="440.5" cy="262.5" r="1.5"/>
<circle cx="544.4" cy="217.7" r="1.5"/>
<circle cx="498.4" cy="219.3" r="1.5"/>
<circle cx="519.9" cy="197.3" r="1.5"/>
<circle cx="547.7" cy="194.2" r="1.5"/>
<circle cx="446.3" cy="372.6" r="1.5"/>
<circle cx="639.7" cy="169.8" r="1.5"/>
<circle cx="576.8" cy="141.5" r="1.5"/>
<circle cx="457.6" cy="286.3" r="1.5"/>
<circle cx="589.3" cy="152.4" r="1.5"/>
<circle cx="547.0" cy="119.7" r="1.5"/>
<circle cx="578.7" cy="195.1" r="1.5"/>
<circle cx="589.2" cy="160.0" r="1.5"/>
<circle cx="641.4" cy="167.2" r="1.5"/>
<circle cx="461.6" cy="285.8" r="1.5"/>
<circle cx="642.4" cy="90.0" r="1.5"/>
<circle cx="535.4" cy="184.2" r="1.5"/>
<circle cx="478.6" cy="268.2" r="1.5"/>
<circle cx="514.2" cy="218.3" r="1.5"/>
<circle cx="512.3" cy="204.9" r="1.5"/>
<circle cx="621.6" cy="148.2" r="1.5"/>
<circle cx="545.2" cy="183.2" r="1.5"/>
<circle cx="451.0" cy="298.9" r="1.5"/>
<circle cx="584.5" cy="168.4" r="1.5"/>
<circle cx="539.8" cy="119.1" r="1.5"/>
<circle cx="605.0" cy="169.6" r="1.5"/>
<circle cx="446.8" cy="295.0" r="1.5"/>
<circle cx="615.4" cy="191.8" r="1.5"/>
<circle cx="621.1" cy="188.8" r="1.5"/>
<circle cx="438.9" cy="278.6" r="1.5"/>
<circle cx="535.5" cy="193.0" r="1.5"/>
<circle cx="462.3" cy="361.0" r="1.5"/>
<circle cx="546.3" cy="195.6" r="1.5"/>
<circle cx="455.6" cy="261.2" r="1.5"/>
<circle cx="619.9" cy="155.5" r="1.5"/>
<circle cx="475.1" cy="248.5" r="1.5"/>
<circle cx="574.8" cy="117.8" r="1.5"/>
<circle cx="571.8" cy="155.9" r="1.5"/>
<circle cx="503.3" cy="243.8" r="1.5"/>
<circle cx="481.4" cy="193.2" r="1.5"/>
<circle cx="625.7" cy="158.7" r="1.5"/>
<circle cx="445.4" cy="261.9" r="1.5"/>
<circle cx="489.6" cy="206.5" r="1.5"/>
<circle cx="504.5" cy="243.9" r="1.5"/>
<circle cx="557.5" cy="191.9" r="1.5"/>
<circle cx="513.3" cy="199.4" r="1.5"/>
<circle cx="460.2" cy="252.6" r="1.5"/>
<circle cx="554.7" cy="137.8" r="1.5"/>
<circle cx="586.4" cy="145.6" r="1.5"/>
<circle cx="582.4" cy="132.2" r="1.5"/>
<circle cx="538.1" cy="194.4" r="1.5"/>
<circle cx="500.4" cy="240.6" r="1.5"/>
<circle cx="439.4" cy="302.5" r="1.5"/>
<circle cx="547.0" cy="207.8" r="1.5"/>
<circle cx="566.7" cy="176.9" r="1.5"/>
<circle cx="528.1" cy="209.2" r="1.5"/>
<circle cx="634.8" cy="179.1" r="1.5"/>
<circle cx="478.9" cy="228.7" r="1.5"/>
<circle cx="604.9" cy="142.9" r="1.5"/>
<circle cx="585.3" cy="122.3" r="1.5"/>
<circle cx="622.4" cy="181.2" r="1.5"/>
<circle cx="627.6" cy="176.3" r="1.5"/>
<circle cx="486.0" cy="196.3" r="1.5"/>
<circle cx="627.1" cy="87.4" r="1.5"/>
<circle cx="520.3" cy="180.3" r="1.5"/>
<circle cx="577.1" cy="132.2" r="1.5"/>
<circle cx="633.5" cy="161.2" r="1.5"/>
<circle cx="559.8" cy="199.3" r="1.5"/>
<circle cx="557.3" cy="201.8" r="1.5"/>
<circle cx="451.8" cy="337.2" r="1.5"/>
<circle cx="560.1" cy="160.9" r="1.5"/>
<circle cx="486.9" cy="208.7" r="1.5"/>
<circle cx="517.2" cy="189.5" r="1.5"/>
<circle cx="515.1" cy="218.4" r="1.5"/>
<circle cx="637.7" cy="182.3" r="1.5"/>
<circle cx="568.6" cy="148.1" r="1.5"/>
<circle cx="586.5" cy="153.5" r="1.5"/>
<circle cx="472.8" cy="266.3" r="1.5"/>
<circle cx="499.9" cy="249.9" r="1.5"/>
<circle cx="617.9" cy="182.2" r="1.5"/>
<circle cx="462.0" cy="268.8" r="1.5"/>
<circle cx="633.5" cy="132.6" r="1.5"/>
<circle cx="525.3" cy="183.6" r="1.5"/>
<circle cx="517.5" cy="192.8" r="1.5"/>
<circle cx="543.2" cy="232.0" r="1.5"/>
<circle cx="528.5" cy="194.6" r="1.5"/>
<circle cx="534.1" cy="168.3" r="1.5"/>
<circle cx="524.6" cy="165.5" r="1.5"/>
<circle cx="581.8" cy="123.6" r="1.5"/>
<circle cx="494.1" cy="202.3" r="1.5"/>
<circle cx="471.5" cy="221.0" r="1.5"/>
<circle cx="526.7" cy="173.1" r="1.5"/>
<circle cx="455.4" cy="290.6" r="1.5"/>
<circle cx="529.4" cy="201.8" r="1.5"/>
<circle cx="539.0" cy="177.2" r="1.5"/>
<circle cx="598.8" cy="192.3" r="1.5"/>
<circle cx="459.7" cy="308.9" r="1.5"/>
<circle cx="519.0" cy="181.8" r="1.5"/>
<circle cx="598.0" cy="123.7" r="1.5"/>
<circle cx="506.9" cy="188.2" r="1.5"/>
<circle cx="609.4" cy="163.8" r="1.5"/>
<circle cx="585.2" cy="172.0" r="1.5"/>
<circle cx="445.8" cy="282.8" r="1.5"/>
<circle cx="516.6" cy="174.5" r="1.5"/>
<circle cx="595.1" cy="143.6" r="1.5"/>
<circle cx="545.7" cy="105.0" r="1.5"/>
<circle cx="575.8" cy="142.7" r="1.5"/>
<circle cx="641.1" cy="172.5" r="1.5"/>
<circle cx="576.3" cy="162.3" r="1.5"/>
<circle cx="549.7" cy="137.2" r="1.5"/>
<circle cx="611.5" cy="164.9" r="1.5"/>
<circle cx="525.8" cy="193.6" r="1.5"/>
<circle cx="439.4" cy="323.9" r="1.5"/>
<circle cx="493.4" cy="241.2" r="1.5"/>
<circle cx="559.7" cy="129.5" r="1.5"/>
<circle cx="632.5" cy="164.4" r="1.5"/>
<circle cx="562.3" cy="171.3" r="1.5"/>
<circle cx="495.7" cy="196.6" r="1.5"/>
<circle cx="641.8" cy="154.3" r="1.5"/>
<circle cx="519.7" cy="204.4" r="1.5"/>
<circle cx="484.2" cy="235.6" r="1.5"/>
<circle cx="551.1" cy="138.9" r="1.5"/>
<circle cx="508.1" cy="227.7" r="1.5"/>
<circle cx="460.2" cy="243.2" r="1.5"/>
<circle cx="584.0" cy="148.0" r="1.5"/>
<circle cx="579.6" cy="212.3" r="1.5"/>
<circle cx="637.4" cy="120.7" r="1.5"/>
<circle cx="465.4" cy="293.3" r="1.5"/>
<circle cx="624.8" cy="164.7" r="1.5"/>
<circle cx="601.4" cy="154.0" r="1.5"/>
<circle cx="489.4" cy="225.6" r="1.5"/>
<circle cx="535.9" cy="185.6" r="1.5"/>
<circle cx="567.0" cy="169.3" r="1.5"/>
<circle cx="502.1" cy="140.0" r="1.5"/>
<circle cx="609.6" cy="136.0" r="1.5"/>
<circle cx="471.2" cy="214.4" r="1.5"/>
<circle cx="538.3" cy="199.4" r="1.5"/>
<circle cx="527.4" cy="164.9" r="1.5"/>
<circle cx="623.2" cy="168.0" r="1.5"/>
<circle cx="552.3" cy="154.7" r="1.5"/>
<circle cx="524.6" cy="213.6" r="1.5"/>
<circle cx="638.4" cy="128.1" r="1.5"/>
<circle cx="509.8" cy="202.4" r="1.5"/>
<circle cx="586.9" cy="125.9" r="1.5"/>
<circle cx="485.4" cy="258.5" r="1.5"/>
<circle cx="593.2" cy="166.1" r="1.5"/>
<circle cx="592.0" cy="124.0" r="1.5"/>
<circle cx="607.8" cy="189.6" r="1.5"/>
<circle cx="537.1" cy="166.4" r="1.5"/>
<circle cx="483.0" cy="227.5" r="1.5"/>
<circle cx="567.4" cy="122.7" r="1.5"/>
<circle cx="624.7" cy="187.3" r="1.5"/>
<circle cx="501.0" cy="201.8" r="1.5"/>
<circle cx="441.4" cy="316.8" r="1.5"/>
<circle cx="475.3" cy="275.7" r="1.5"/>
<circle cx="629.4" cy="162.3" r="1.5"/>
<circle cx="438.5" cy="299.2" r="1.5"/>
<circle cx="448.3" cy="282.4" r="1.5"/>
<circle cx="457.5" cy="267.0" r="1.5"/>
<circle cx="620.9" cy="194.9" r="1.5"/>
<circle cx="516.2" cy="176.4" r="1.5"/>
<circle cx="579.7" cy="196.3" r="1.5"/>
<circle cx="582.6" cy="187.2" r="1.5"/>
<circle cx="526.6" cy="171.2" r="1.5"/>
<circle cx="588.1" cy="130.3" r="1.5"/>
<circle cx="532.2" cy="176.3" r="1.5"/>
<circle cx="548.8" cy="117.4" r="1.5"/>
<circle cx="500.4" cy="208.4" r="1.5"/>
<circle cx="437.6" cy="307.2" r="1.5"/>
<circle cx="559.4" cy="169.1" r="1.5"/>
<circle cx="491.9" cy="212.1" r="1.5"/>
<circle cx="493.9" cy="226.8" r="1.5"/>
<circle cx="618.2" cy="196.8" r="1.5"/>
<circle cx="511.8" cy="195.5" r="1.5"/>
<circle cx="458.3" cy="286.6" r="1.5"/>
<circle cx="567.1" cy="200.3" r="1.5"/>
<circle cx="548.1" cy="158.2" r="1.5"/>
<circle cx="449.1" cy="294.9" r="1.5"/>
<circle cx="509.1" cy="164.7" r="1.5"/>
<circle cx="563.1" cy="124.7" r="1.5"/>
<circle cx="494.9" cy="200.8" r="1.5"/>
<circle cx="640.3" cy="215.4" r="1.5"/>
<circle cx="601.8" cy="151.8" r="1.5"/>
<circle cx="541.1" cy="188.1" r="1.5"/>
<circle cx="625.8" cy="142.4" r="1.5"/>
<circle cx="444.4" cy="262.2" r="1.5"/>
<circle cx="483.5" cy="253.0" r="1.5"/>
<circle cx="625.6" cy="135.6" r="1.5"/>
<circle cx="542.0" cy="205.9" r="1.5"/>
<circle cx="472.3" cy="296.2" r="1.5"/>
<circle cx="554.6" cy="103.7" r="1.5"/>
<circle cx="587.6" cy="142.3" r="1.5"/>
<circle cx="561.5" cy="137.4" r="1.5"/>
<circle cx="446.7" cy="293.1" r="1.5"/>
<circle cx="444.8" cy="290.1" r="1.5"/>
<circle cx="521.1" cy="202.8" r="1.5"/>
<circle cx="440.6" cy="317.8" r="1.5"/>
<circle cx="454.6" cy="269.2" r="1.5"/>
<circle cx="569.6" cy="120.9" r="1.5"/>
<circle cx="527.5" cy="166.9" r="1.5"/>
<circle cx="454.9" cy="258.6" r="1.5"/>
<circle cx="617.7" cy="231.5" r="1.5"/>
<circle cx="513.1" cy="168.4" r="1.5"/>
<circle cx="619.1" cy="129.0" r="1.5"/>
<circle cx="562.7" cy="184.8" r="1.5"/>
<circle cx="565.1" cy="109.7" r="1.5"/>
<circle cx="524.6" cy="178.8" r="1.5"/>
<circle cx="575.6" cy="167.6" r="1.5"/>
<circle cx="487.4" cy="237.0" r="1.5"/>
<circle cx="490.3" cy="225.8" r="1.5"/>
<circle cx="617.4" cy="122.1" r="1.5"/>
<circle cx="479.2" cy="230.0" r="1.5"/>
<circle cx="516.7" cy="207.6" r="1.5"/>
<circle cx="590.6" cy="153.1" r="1.5"/>
<circle cx="505.2" cy="206.1" r="1.5"/>
<circle cx="512.6" cy="258.8" r="1.5"/>
<circle cx="624.5" cy="111.5" r="1.5"/>
<circle cx="479.8" cy="232.5" r="1.5"/>
<circle cx="486.9" cy="260.9" r="1.5"/>
<circle cx="619.8" cy="169.6" r="1.5"/>
<circle cx="493.9" cy="219.8" r="1.5"/>
<circle cx="505.3" cy="195.4" r="1.5"/>
<circle cx="618.9" cy="196.8" r="1.5"/>
<circle cx="503.4" cy="191.9" r="1.5"/>
<circle cx="642.6" cy="169.8" r="1.5"/>
<circle cx="606.4" cy="155.0" r="1.5"/>
<circle cx="611.6" cy="216.2" r="1.5"/>
<circle cx="483.7" cy="208.6" r="1.5"/>
<circle cx="481.9" cy="218.7" r="1.5"/>
<circle cx="592.2" cy="145.4" r="1.5"/>
<circle cx="607.5" cy="141.3" r="1.5"/>
<circle cx="483.5" cy="241.5" r="1.5"/>
<circle cx="479.7" cy="236.7" r="1.5"/>
<circle cx="487.4" cy="258.3" r="1.5"/>
<circle cx="465.6" cy="266.7" r="1.5"/>
<circle cx="524.0" cy="244.9" r="1.5"/>
<circle cx="540.8" cy="221.0" r="1.5"/>
<circle cx="566.6" cy="128.1" r="1.5"/>
<circle cx="448.6" cy="281.8" r="1.5"/>
<circle cx="476.8" cy="250.8" r="1.5"/>
<circle cx="461.4" cy="244.0" r="1.5"/>
<circle cx="492.9" cy="182.5" r="1.5"/>
<circle cx="475.5" cy="213.4" r="1.5"/>
<circle cx="630.1" cy="187.0" r="1.5"/>
<circle cx="514.1" cy="186.1" r="1.5"/>
<circle cx="465.9" cy="231.2" r="1.5"/>
<circle cx="574.5" cy="206.9" r="1.5"/>
<circle cx="637.6" cy="133.4" r="1.5"/>
<circle cx="600.8" cy="150.7" r="1.5"/>
<circle cx="570.7" cy="133.0" r="1.5"/>
<circle cx="515.1" cy="177.3" r="1.5"/>
<circle cx="520.3" cy="184.4" r="1.5"/>
<circle cx="499.5" cy="226.9" r="1.5"/>
<circle cx="603.3" cy="119.4" r="1.5"/>
<circle cx="602.7" cy="169.2" r="1.5"/>
<circle cx="538.0" cy="190.3" r="1.5"/>
<circle cx="614.7" cy="150.2" r="1.5"/>
<circle cx="571.6" cy="203.3" r="1.5"/>
<circle cx="578.4" cy="120.4" r="1.5"/>
<circle cx="492.6" cy="199.2" r="1.5"/>
<circle cx="487.0" cy="224.2" r="1.5"/>
<circle cx="484.1" cy="251.1" r="1.5"/>
<circle cx="625.2" cy="159.1" r="1.5"/>
<circle cx="602.0" cy="170.9" r="1.5"/>
<circle cx="622.4" cy="154.4" r="1.5"/>
<circle cx="606.7" cy="133.2" r="1.5"/>
<circle cx="603.0" cy="157.0" r="1.5"/>
<circle cx="527.0" cy="219.7" r="1.5"/>
<circle cx="594.9" cy="209.4" r="1.5"/>
<circle cx="471.6" cy="262.3" r="1.5"/>
<circle cx="572.3" cy="188.6" r="1.5"/>
<circle cx="446.1" cy="289.0" r="1.5"/>
<circle cx="636.1" cy="95.2" r="1.5"/>
<circle cx="618.4" cy="115.4" r="1.5"/>
<circle cx="471.2" cy="284.4" r="1.5"/>
<circle cx="595.5" cy="122.3" r="1.5"/>
<circle cx="606.9" cy="161.2" r="1.5"/>
<circle cx="445.9" cy="273.0" r="1.5"/>
<circle cx="553.8" cy="155.6" r="1.5"/>
<circle cx="523.8" cy="215.5" r="1.5"/>
<circle cx="564.7" cy="105.2" r="1.5"/>
<circle cx="619.8" cy="191.2" r="1.5"/>
<circle cx="586.1" cy="143.1" r="1.5"/>
<circle cx="480.7" cy="254.4" r="1.5"/>
<circle cx="551.5" cy="113.4" r="1.5"/>
<circle cx="552.9" cy="213.4" r="1.5"/>
<circle cx="439.6" cy="247.3" r="1.5"/>
<circle cx="464.4" cy="274.5" r="1.5"/>
<circle cx="511.3" cy="166.9" r="1.5"/>
<circle cx="473.9" cy="268.9" r="1.5"/>
<circle cx="486.1" cy="220.1" r="1.5"/>
<circle cx="576.5" cy="140.1" r="1.5"/>
<circle cx="635.2" cy="212.8" r="1.5"/>
<circle cx="531.6" cy="194.0" r="1.5"/>
<circle cx="570.3" cy="188.3" r="1.5"/>
<circle cx="594.0" cy="151.5" r="1.5"/>
<circle cx="575.8" cy="127.1" r="1.5"/>
<circle cx="572.5" cy="193.5" r="1.5"/>
<circle cx="437.5" cy="275.3" r="1.5"/>
<circle cx="616.4" cy="225.5" r="1.5"/>
<circle cx="470.5" cy="267.7" r="1.5"/>
<circle cx="474.4" cy="227.8" r="1.5"/>
<circle cx="542.2" cy="185.1" r="1.5"/>
<circle cx="558.1" cy="192.7" r="1.5"/>
<circle cx="592.8" cy="191.1" r="1.5"/>
<circle cx="497.6" cy="206.9" r="1.5"/>
<circle cx="631.9" cy="126.7" r="1.5"/>
<circle cx="566.6" cy="168.0" r="1.5"/>
<circle cx="611.1" cy="144.3" r="1.5"/>
<circle cx="535.5" cy="155.4" r="1.5"/>
<circle cx="451.9" cy="260.6" r="1.5"/>
<circle cx="439.7" cy="307.2" r="1.5"/>
<circle cx="569.1" cy="136.7" r="1.5"/>
<circle cx="525.0" cy="146.4" r="1.5"/>
<circle cx="528.0" cy="187.7" r="1.5"/>
<circle cx="504.4" cy="207.0" r="1.5"/>
<circle cx="474.0" cy="226.6" r="1.5"/>
<circle cx="534.8" cy="184.2" r="1.5"/>
<circle cx="489.7" cy="209.3" r="1.5"/>
<circle cx="621.1" cy="144.0" r="1.5"/>
<circle cx="474.1" cy="250.7" r="1.5"/>
<circle cx="636.5" cy="153.7" r="1.5"/>
<circle cx="614.4" cy="168.6" r="1.5"/>
<circle cx="516.2" cy="163.1" r="1.5"/>
<circle cx="596.4" cy="178.2" r="1.5"/>
<circle cx="556.8" cy="177.6" r="1.5"/>
<circle cx="533.2" cy="173.2" r="1.5"/>
<circle cx="604.5" cy="115.6" r="1.5"/>
<circle cx="608.3" cy="179.3" r="1.5"/>
<circle cx="478.7" cy="223.8" r="1.5"/>
<circle cx="623.8" cy="167.4" r="1.5"/>
<circle cx="443.9" cy="307.7" r="1.5"/>
<circle cx="438.4" cy="295.3" r="1.5"/>
<circle cx="536.9" cy="167.2" r="1.5"/>
<circle cx="499.3" cy="201.0" r="1.5"/>
<circle cx="524.3" cy="217.2" r="1.5"/>
<circle cx="535.9" cy="184.0" r="1.5"/>
<circle cx="533.7" cy="163.1" r="1.5"/>
<circle cx="624.2" cy="182.1" r="1.5"/>
<circle cx="626.3" cy="174.8" r="1.5"/>
<circle cx="508.5" cy="166.8" r="1.5"/>
<circle cx="496.5" cy="215.7" r="1.5"/>
<circle cx="571.9" cy="236.2" r="1.5"/>
<circle cx="478.1" cy="173.8" r="1.5"/>
<circle cx="519.7" cy="249.0" r="1.5"/>
<circle cx="585.1" cy="131.6" r="1.5"/>
<circle cx="438.4" cy="279.5" r="1.5"/>
<circle cx="596.2" cy="160.8" r="1.5"/>
<circle cx="588.4" cy="212.2" r="1.5"/>
<circle cx="517.0" cy="217.2" r="1.5"/>
<circle cx="488.3" cy="220.0" r="1.5"/>
<circle cx="548.5" cy="191.6" r="1.5"/>
<circle cx="498.1" cy="190.3" r="1.5"/>
<circle cx="606.3" cy="129.5" r="1.5"/>
<circle cx="558.9" cy="165.6" r="1.5"/>
<circle cx="500.4" cy="174.2" r="1.5"/>
<circle cx="603.6" cy="166.6" r="1.5"/>
<circle cx="562.4" cy="155.4" r="1.5"/>
<circle cx="464.4" cy="257.3" r="1.5"/>
<circle cx="522.5" cy="213.3" r="1.5"/>
<circle cx="538.1" cy="151.1" r="1.5"/>
<circle cx="631.8" cy="194.0" r="1.5"/>
<circle cx="503.3" cy="183.4" r="1.5"/>
<circle cx="529.6" cy="185.3" r="1.5"/>
<circle cx="638.4" cy="147.1" r="1.5"/>
<circle cx="525.0" cy="217.2" r="1.5"/>
<circle cx="607.6" cy="193.0" r="1.5"/>
<circle cx="457.2" cy="250.3" r="1.5"/>
<circle cx="518.3" cy="180.0" r="1.5"/>
<circle cx="475.1" cy="261.1" r="1.5"/>
<circle cx="619.3" cy="189.2" r="1.5"/>
<circle cx="551.0" cy="171.8" r="1.5"/>
<circle cx="482.3" cy="276.9" r="1.5"/>
<circle cx="456.2" cy="281.7" r="1.5"/>
<circle cx="523.9" cy="141.8" r="1.5"/>
<circle cx="457.1" cy="252.9" r="1.5"/>
<circle cx="537.2" cy="167.7" r="1.5"/>
<circle cx="587.3" cy="160.1" r="1.5"/>
<circle cx="501.2" cy="199.0" r="1.5"/>
<circle cx="471.7" cy="245.4" r="1.5"/>
<circle cx="511.7" cy="223.9" r="1.5"/>
<circle cx="471.5" cy="272.6" r="1.5"/>
<circle cx="611.0" cy="226.3" r="1.5"/>
<circle cx="457.0" cy="289.1" r="1.5"/>
<circle cx="589.8" cy="110.7" r="1.5"/>
<circle cx="506.0" cy="202.6" r="1.5"/>
<circle cx="587.2" cy="143.8" r="1.5"/>
<circle cx="596.0" cy="192.8" r="1.5"/>
<circle cx="465.1" cy="239.6" r="1.5"/>
<circle cx="593.0" cy="150.9" r="1.5"/>
<circle cx="632.0" cy="164.3" r="1.5"/>
<circle cx="554.0" cy="165.3" r="1.5"/>
<circle cx="570.1" cy="167.5" r="1.5"/>
<circle cx="503.7" cy="245.7" r="1.5"/>
<circle cx="473.2" cy="253.2" r="1.5"/>
<circle cx="590.5" cy="194.7" r="1.5"/>
<circle cx="606.2" cy="139.6" r="1.5"/>
<circle cx="479.7" cy="226.7" r="1.5"/>
<circle cx="460.6" cy="274.9" r="1.5"/>
<circle cx="509.8" cy="192.0" r="1.5"/>
<circle cx="566.2" cy="119.7" r="1.5"/>
<circle cx="512.4" cy="176.7" r="1.5"/>
<circle cx="635.8" cy="139.7" r="1.5"/>
<circle cx="600.2" cy="168.0" r="1.5"/>
<circle cx="625.9" cy="201.4" r="1.5"/>
<circle cx="560.7" cy="139.4" r="1.5"/>
<circle cx="592.9" cy="186.4" r="1.5"/>
<circle cx="633.1" cy="138.4" r="1.5"/>
<circle cx="444.6" cy="275.7" r="1.5"/>
<circle cx="555.6" cy="193.4" r="1.5"/>
<circle cx="475.8" cy="270.4" r="1.5"/>
<circle cx="601.0" cy="152.8" r="1.5"/>
<circle cx="485.2" cy="196.5" r="1.5"/>
<circle cx="590.0" cy="167.2" r="1.5"/>
<circle cx="505.7" cy="214.6" r="1.5"/>
<circle cx="571.4" cy="139.8" r="1.5"/>
<circle cx="577.1" cy="146.5" r="1.5"/>
<circle cx="624.4" cy="105.5" r="1.5"/>
<circle cx="616.9" cy="147.8" r="1.5"/>
<circle cx="527.4" cy="178.8" r="1.5"/>
<circle cx="579.1" cy="131.9" r="1.5"/>
<circle cx="474.8" cy="224.6" r="1.5"/>
<circle cx="457.4" cy="266.4" r="1.5"/>
<circle cx="584.3" cy="200.4" r="1.5"/>
<circle cx="624.0" cy="187.9" r="1.5"/>
<circle cx="591.0" cy="150.9" r="1.5"/>
<circle cx="543.7" cy="197.0" r="1.5"/>
<circle cx="566.9" cy="247.3" r="1.5"/>
<circle cx="587.6" cy="115.8" r="1.5"/>
<circle cx="554.5" cy="200.0" r="1.5"/>
<circle cx="512.0" cy="176.9" r="1.5"/>
<circle cx="612.4" cy="154.9" r="1.5"/>
<circle cx="513.3" cy="193.5" r="1.5"/>
<circle cx="623.3" cy="143.6" r="1.5"/>
<circle cx="601.9" cy="127.1" r="1.5"/>
<circle cx="600.6" cy="185.7" r="1.5"/>
<circle cx="608.9" cy="158.7" r="1.5"/>
<circle cx="640.5" cy="163.8" r="1.5"/>
<circle cx="641.1" cy="182.6" r="1.5"/>
<circle cx="540.5" cy="188.9" r="1.5"/>
<circle cx="514.9" cy="207.9" r="1.5"/>
<circle cx="588.2" cy="207.4" r="1.5"/>
<circle cx="636.6" cy="116.1" r="1.5"/>
<circle cx="567.0" cy="179.2" r="1.5"/>
<circle cx="442.5" cy="285.2" r="1.5"/>
<circle cx="445.2" cy="302.6" r="1.5"/>
<circle cx="532.8" cy="186.6" r="1.5"/>
<circle cx="599.5" cy="147.0" r="1.5"/>
<circle cx="620.0" cy="179.0" r="1.5"/>
<circle cx="514.5" cy="172.7" r="1.5"/>
<circle cx="543.7" cy="141.9" r="1.5"/>
<circle cx="542.9" cy="167.9" r="1.5"/>
<circle cx="456.7" cy="287.4" r="1.5"/>
<circle cx="437.4" cy="311.1" r="1.5"/>
<circle cx="545.1" cy="137.0" r="1.5"/>
<circle cx="541.1" cy="148.9" r="1.5"/>
</g>
<g stroke="#000" stroke-width="2.7" stroke-dasharray="2.8 7.2" fill="none">
<line x1="104.1" y1="269.3" x2="667" y2="269.3"/>
<line x1="104.1" y1="315.1" x2="667" y2="315.1"/>
</g>
<path d="M134.7 140.1 L137.5 145.5 L141.5 150.6 L146.0 151.8 L150.0 152.3 L156.0 152.3 L162.2 151.8 L168.0 154.0 L175.6 156.4 L183.0 156.2 L190.2 156.4 L197.5 157.9 L210.0 158.2 L224.2 158.4 L231.0 157.3 L234.7 171.6 L236.6 175.6 L239.2 178.9 L242.0 203.3 L246.9 232.0 L250.5 248.0 L252.5 253.0 L254.2 254.6 L256.0 253.5 L257.8 251.1 L261.5 244.6 L267.6 231.6 L272.0 226.0 L277.3 222.3 L283.4 220.5 L288.7 221.2 L298.0 234.0 L304.0 243.3 L317.5 249.8 L329.6 256.5 L344.2 262.0 L357.6 270.1 L375.9 275.9 L392.9 277.4 L405.0 285.2 L414.8 284.7 L429.2 286.4 L436.5 290.0 L442.6 292.0 L448.7 290.0 L457.2 281.5 L465.7 269.3 L477.9 247.4 L487.6 231.6 L497.3 218.2 L507.1 208.5 L516.5 197.5 L528.7 185.8 L540.8 176.9 L553.0 170.3 L562.7 165.5 L577.3 164.0 L594.4 161.8 L616.3 161.1 L626.0 160.6 L634.5 159.1" fill="none" stroke="#6a110b" stroke-width="6" stroke-linejoin="round" stroke-linecap="butt"/>
<polygon points="620.1,170.6 637.7,170.6 637.1,269.2 644.2,269.2 627.7,292 612.2,269.2 618.8,269.2" fill="#a27070"/>
<rect x="105" y="24.75" width="562.1" height="375.35" fill="none" stroke="#2b2b2b" stroke-width="1.5"/>
<g stroke="#222" stroke-width="2.3"><line x1="129.9" y1="400" x2="129.9" y2="406.8"/><line x1="232.3" y1="400" x2="232.3" y2="406.8"/><line x1="334.8" y1="400" x2="334.8" y2="406.8"/><line x1="437.2" y1="400" x2="437.2" y2="406.8"/><line x1="539.7" y1="400" x2="539.7" y2="406.8"/><line x1="642.1" y1="400" x2="642.1" y2="406.8"/><line x1="98.5" y1="41.2" x2="105" y2="41.2"/><line x1="98.5" y1="155.2" x2="105" y2="155.2"/><line x1="98.5" y1="269.3" x2="105" y2="269.3"/><line x1="98.5" y1="383.4" x2="105" y2="383.4"/></g>
<text transform="translate(129.9,431.7) scale(1,1.04)" font-size="27.5px" text-anchor="middle" stroke="#000" stroke-width="0.4">0</text>
<text transform="translate(232.3,431.7) scale(1,1.04)" font-size="27.5px" text-anchor="middle" stroke="#000" stroke-width="0.4">5</text>
<text transform="translate(334.8,431.7) scale(1,1.04)" font-size="27.5px" text-anchor="middle" stroke="#000" stroke-width="0.4">10</text>
<text transform="translate(437.2,431.7) scale(1,1.04)" font-size="27.5px" text-anchor="middle" stroke="#000" stroke-width="0.4">15</text>
<text transform="translate(539.7,431.7) scale(1,1.04)" font-size="27.5px" text-anchor="middle" stroke="#000" stroke-width="0.4">20</text>
<text transform="translate(642.1,431.7) scale(1,1.04)" font-size="27.5px" text-anchor="middle" stroke="#000" stroke-width="0.4">25</text>
<text transform="translate(93.4,51.5) scale(1,1.04)" font-size="27.5px" text-anchor="end" stroke="#000" stroke-width="0.4">8.0</text>
<text transform="translate(93.4,165.6) scale(1,1.04)" font-size="27.5px" text-anchor="end" stroke="#000" stroke-width="0.4">7.5</text>
<text transform="translate(93.4,279.6) scale(1,1.04)" font-size="27.5px" text-anchor="end" stroke="#000" stroke-width="0.4">7.0</text>
<text transform="translate(93.4,393.7) scale(1,1.04)" font-size="27.5px" text-anchor="end" stroke="#000" stroke-width="0.4">6.5</text>
<text transform="translate(386.3,460)" font-size="24px" text-anchor="middle" stroke="#000" stroke-width="0.3">Time (min)</text>
<text transform="translate(43.3,212.65) rotate(-90) scale(1,1.04)" font-size="23.6px" text-anchor="middle" stroke="#000" stroke-width="0.3">Intracellular pH</text>
<text transform="translate(6.3,31.2) scale(1,1.12)" font-size="42px" text-anchor="start" font-weight="bold">a</text>
<text transform="translate(133.5,62.7) scale(1,1.085)" font-size="30.5px" text-anchor="start" font-weight="bold">30°C</text>
<text transform="translate(257.6,62.7) scale(1,1.085)" font-size="30.5px" text-anchor="start" font-weight="bold">42°C</text>
<text transform="translate(455.2,62.7) scale(1,1.085)" font-size="30.5px" text-anchor="start" font-weight="bold">30°C</text>
<text transform="translate(679.5,172.5)" font-size="26.0px" text-anchor="start" stroke="#000" stroke-width="0.3">Resting pH:</text>
<text transform="translate(678.8,198.4)" font-size="26.0px" text-anchor="start" stroke="#000" stroke-width="0.3">~7.5</text>
<text transform="translate(687.5,282.3)" font-size="25.7px" text-anchor="start" stroke="#000" stroke-width="0.3">Normal pH</text>
<text transform="translate(687.6,307.6)" font-size="25.7px" text-anchor="start" stroke="#000" stroke-width="0.3">drop</text>
</svg>
</body></html>
